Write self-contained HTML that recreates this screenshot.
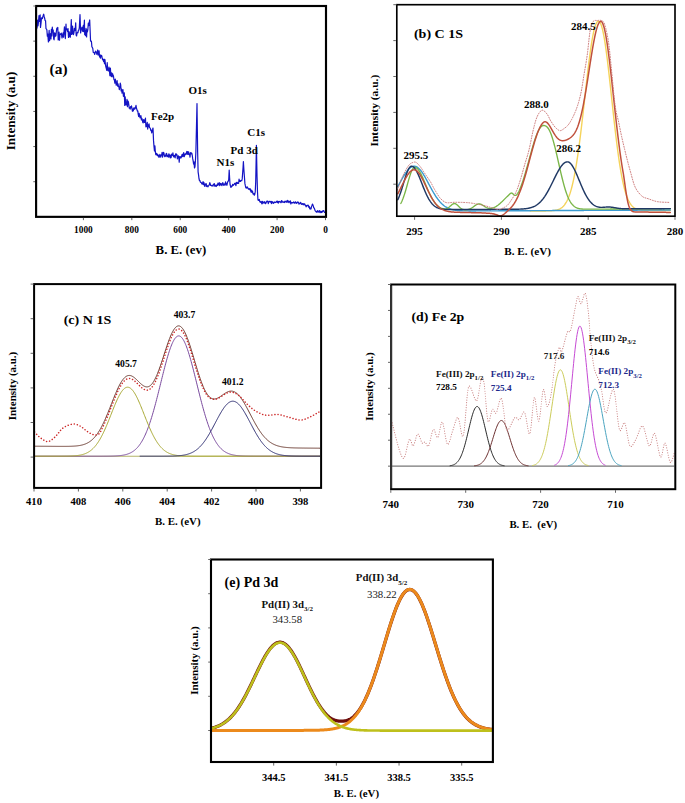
<!DOCTYPE html>
<html><head><meta charset="utf-8"><style>
html,body{margin:0;padding:0;background:#fff;}
svg{display:block;}
text{font-family:"Liberation Serif", serif;}
</style></head><body>
<svg width="685" height="803" viewBox="0 0 685 803">
<rect width="685" height="803" fill="#fff"/>
<path d="M37.00,28.04 L37.45,20.22 L38.00,26.00 L38.35,23.12 L39.00,15.50 L39.25,21.44 L39.70,21.32 L40.15,14.94 L40.50,27.50 L41.05,23.05 L41.50,17.76 L41.95,18.49 L42.40,18.56 L42.85,16.60 L43.30,15.16 L43.60,14.20 L43.75,14.29 L44.20,16.65 L44.65,18.22 L45.10,20.61 L45.55,20.58 L46.00,28.76 L46.45,28.94 L46.90,30.09 L47.35,36.12 L47.80,34.18 L48.40,42.00 L48.70,36.39 L49.15,30.25 L49.60,40.66 L50.05,35.23 L50.50,33.55 L50.95,38.94 L51.40,29.35 L51.85,35.97 L52.30,27.19 L52.75,31.81 L53.20,30.03 L53.65,38.82 L54.10,39.83 L54.55,32.91 L55.00,36.77 L55.45,33.41 L55.90,35.87 L56.35,31.52 L56.80,28.36 L57.25,28.05 L57.80,27.50 L58.20,40.00 L58.60,34.80 L59.05,32.12 L59.50,40.10 L59.95,34.50 L60.40,33.99 L60.85,34.43 L61.30,33.09 L62.00,38.00 L62.65,34.99 L63.10,32.96 L63.55,37.14 L64.00,31.93 L64.45,26.79 L64.90,32.69 L65.35,38.56 L66.00,24.00 L66.25,29.88 L66.70,28.82 L67.15,29.23 L67.60,31.64 L68.05,28.67 L68.50,37.44 L68.95,31.50 L69.40,32.73 L69.85,37.05 L70.30,37.20 L70.75,31.48 L71.30,19.50 L71.65,34.48 L72.10,31.34 L72.55,26.00 L73.00,33.91 L73.45,34.59 L73.90,32.90 L74.35,28.36 L74.80,30.65 L75.25,29.24 L75.70,22.80 L76.15,35.24 L76.60,35.90 L77.05,32.95 L77.50,32.44 L77.95,32.75 L78.40,30.36 L78.85,30.04 L79.30,27.95 L80.00,14.50 L80.65,32.87 L81.10,28.87 L81.55,28.44 L82.00,27.15 L82.45,31.24 L82.90,31.29 L83.35,25.24 L83.80,31.60 L84.40,20.20 L84.70,34.71 L85.15,30.52 L85.60,35.67 L86.05,28.43 L86.60,37.00 L86.95,29.85 L87.40,31.80 L87.85,29.65 L88.30,23.17 L88.75,25.66 L89.20,22.93 L89.65,20.07 L89.70,20.00 L90.10,29.67 L90.55,41.07 L91.00,40.91 L91.45,41.46 L91.90,46.92 L92.35,47.35 L92.80,48.53 L93.25,52.41 L93.70,52.49 L94.15,52.54 L94.60,54.44 L95.05,53.09 L95.50,51.19 L95.95,52.21 L96.40,52.18 L96.85,54.41 L97.30,51.52 L97.75,49.97 L98.20,55.20 L98.65,51.96 L99.10,50.76 L99.55,57.01 L100.00,54.63 L100.45,58.05 L100.90,56.02 L101.35,55.34 L101.80,55.85 L102.25,58.52 L102.70,59.94 L103.15,59.37 L103.60,61.56 L104.05,59.17 L104.50,63.60 L104.95,59.53 L105.40,64.08 L105.85,66.85 L106.30,68.35 L106.75,70.43 L107.20,62.66 L107.65,69.03 L108.10,70.74 L108.55,70.99 L109.00,66.98 L109.45,71.20 L109.90,75.69 L110.35,68.02 L110.80,73.84 L111.25,76.35 L111.70,72.74 L112.15,76.94 L112.60,73.72 L113.05,75.34 L113.50,76.29 L113.95,79.73 L114.40,79.72 L114.85,83.08 L115.30,79.01 L115.75,81.77 L116.20,85.17 L116.65,84.71 L117.10,80.49 L117.55,86.07 L118.00,83.72 L118.45,86.45 L118.90,86.79 L119.35,89.66 L119.80,87.43 L120.25,83.08 L120.70,84.93 L121.15,90.87 L121.60,88.99 L122.05,93.15 L122.50,91.59 L122.95,89.64 L123.40,96.31 L123.85,93.74 L124.30,92.81 L124.75,105.47 L125.20,96.87 L125.65,103.79 L126.10,105.02 L126.55,103.49 L127.00,99.32 L127.45,106.63 L127.90,100.93 L128.35,101.70 L128.80,104.70 L129.25,108.13 L129.70,107.41 L130.15,109.22 L130.60,106.57 L131.05,107.78 L131.50,105.85 L131.95,108.45 L132.40,111.27 L132.85,109.14 L133.30,110.91 L133.75,108.07 L134.20,107.83 L134.65,109.24 L135.10,108.53 L135.55,107.26 L136.00,105.30 L136.00,105.39 L136.45,108.32 L136.90,109.46 L137.35,111.07 L137.80,110.94 L138.25,114.41 L138.70,116.53 L139.15,113.38 L139.60,115.57 L140.05,117.97 L140.50,116.28 L140.95,115.74 L141.40,119.96 L141.85,118.35 L142.30,119.71 L142.75,122.28 L143.20,122.82 L143.65,119.65 L144.10,119.81 L144.55,122.46 L145.00,122.01 L145.45,118.15 L145.90,126.78 L146.35,124.21 L146.80,126.60 L147.25,122.30 L147.70,129.06 L148.15,124.84 L148.60,126.59 L149.05,123.85 L149.50,127.50 L149.95,127.88 L150.40,128.52 L150.85,130.63 L151.30,130.13 L151.75,132.87 L152.20,130.58 L152.65,129.25 L153.00,128.00 L153.10,130.39 L153.55,140.89 L154.00,146.34 L154.45,150.87 L154.90,145.81 L155.35,151.95 L155.80,154.61 L156.25,153.45 L156.70,153.55 L157.15,155.50 L157.60,154.32 L158.05,156.15 L158.50,155.22 L158.95,157.46 L159.40,156.15 L159.85,154.34 L160.30,156.46 L160.75,157.04 L161.20,154.80 L161.65,155.09 L162.10,152.24 L162.55,157.14 L163.00,154.81 L163.45,152.40 L163.90,152.91 L164.35,155.25 L164.80,156.72 L165.25,155.37 L165.70,156.20 L166.15,153.73 L166.60,153.33 L167.05,156.72 L167.50,156.07 L167.95,155.22 L168.40,157.21 L168.85,153.73 L169.30,154.50 L169.75,156.69 L170.20,157.90 L170.65,155.04 L171.10,157.61 L171.55,154.18 L172.00,155.71 L172.45,155.02 L172.90,152.93 L173.35,155.87 L173.80,157.00 L174.25,155.42 L174.70,155.63 L175.15,157.98 L175.60,154.00 L176.05,153.72 L176.50,155.26 L176.95,154.67 L177.40,158.83 L177.85,157.48 L178.30,155.91 L178.75,156.54 L179.20,162.14 L179.65,157.03 L180.10,156.52 L180.55,157.82 L181.00,158.00 L181.45,157.02 L181.90,154.93 L182.35,154.21 L182.80,156.57 L183.25,155.28 L183.70,152.59 L184.15,156.68 L184.60,155.83 L185.05,154.02 L185.50,153.75 L185.95,154.26 L186.40,152.60 L186.85,151.47 L187.30,154.17 L187.75,151.59 L188.20,154.53 L188.65,151.84 L189.10,154.04 L189.55,154.11 L190.00,157.20 L190.45,152.94 L190.90,152.53 L191.35,153.85 L191.80,153.24 L192.25,155.43 L192.70,158.70 L193.15,160.95 L193.60,164.03 L194.05,161.96 L194.50,168.00 L194.95,166.80 L195.40,161.19 L195.85,152.78 L196.30,133.91 L196.75,114.38 L197.00,103.50 L197.20,118.52 L197.65,152.22 L198.10,171.96 L198.55,174.93 L199.00,178.70 L199.45,180.68 L199.90,180.44 L200.35,182.20 L200.80,182.29 L201.25,182.51 L201.70,183.58 L202.15,184.20 L202.60,183.23 L203.05,181.67 L203.50,184.76 L203.95,182.65 L204.40,184.61 L204.85,186.51 L205.30,184.79 L205.75,183.73 L206.20,183.61 L206.65,186.53 L207.10,185.45 L207.55,186.20 L208.00,186.77 L208.45,185.71 L208.90,185.40 L209.35,184.69 L209.80,182.60 L210.25,184.01 L210.70,185.48 L211.15,185.33 L211.60,185.89 L212.05,185.30 L212.50,185.56 L212.95,186.17 L213.40,184.38 L213.85,184.97 L214.30,183.55 L214.75,186.19 L215.20,185.13 L215.65,185.51 L216.10,186.53 L216.55,185.96 L217.00,184.69 L217.45,185.49 L217.90,183.09 L218.35,184.95 L218.80,184.56 L219.25,182.64 L219.70,185.64 L220.15,183.42 L220.60,184.79 L221.05,183.57 L221.50,185.12 L221.95,185.53 L222.40,183.37 L222.85,182.71 L223.30,184.25 L223.75,185.35 L224.20,184.15 L224.65,183.97 L225.10,185.19 L225.55,181.87 L226.00,184.14 L226.45,183.46 L226.90,185.29 L227.35,183.20 L227.80,181.48 L228.25,181.25 L228.70,179.69 L229.15,171.00 L229.20,170.00 L229.60,177.86 L230.05,184.42 L230.50,186.10 L230.95,187.45 L231.40,186.04 L231.85,186.36 L232.30,185.96 L232.75,184.27 L233.20,185.36 L233.65,184.79 L234.10,184.40 L234.55,183.45 L235.00,183.24 L235.45,184.33 L235.90,185.62 L236.35,182.30 L236.80,183.55 L237.25,182.43 L237.70,183.46 L238.15,182.92 L238.60,183.40 L239.05,179.19 L239.50,181.31 L239.95,180.73 L240.40,181.48 L240.85,180.66 L241.30,180.57 L241.75,180.73 L242.20,178.90 L242.65,173.03 L243.10,166.74 L243.40,161.60 L243.55,164.19 L244.00,171.33 L244.45,177.26 L244.90,183.39 L245.35,185.66 L245.80,187.59 L246.25,188.16 L246.70,187.46 L247.15,186.80 L247.60,188.09 L248.05,188.06 L248.50,189.20 L248.95,189.08 L249.40,188.62 L249.85,189.79 L250.30,188.78 L250.75,191.34 L251.20,192.18 L251.65,190.18 L252.10,192.32 L252.55,191.31 L253.00,193.94 L253.45,194.23 L253.90,193.51 L254.35,195.26 L254.80,194.24 L255.25,191.65 L255.70,182.02 L256.15,159.74 L256.40,145.30 L256.60,155.15 L257.05,176.74 L257.50,192.05 L257.95,199.83 L258.40,200.47 L258.85,199.74 L259.30,199.46 L259.75,201.55 L260.20,202.31 L260.65,201.75 L261.10,201.32 L261.55,202.96 L262.00,203.95 L262.45,201.31 L262.90,203.10 L263.35,202.47 L263.80,202.03 L264.25,203.05 L264.70,201.64 L265.15,202.85 L265.60,203.61 L266.05,202.71 L266.50,201.88 L266.95,201.16 L267.40,201.52 L267.85,201.06 L268.30,203.69 L268.75,202.24 L269.20,201.61 L269.65,201.39 L270.10,201.54 L270.55,202.08 L271.00,201.33 L271.45,203.59 L271.90,201.71 L272.35,201.67 L272.80,202.49 L273.25,203.36 L273.70,203.25 L274.15,201.84 L274.60,202.40 L275.05,202.30 L275.50,202.58 L275.95,202.36 L276.40,201.42 L276.85,201.16 L277.30,202.26 L277.75,201.20 L278.20,203.14 L278.65,202.11 L279.10,201.28 L279.55,201.80 L280.00,201.65 L280.45,201.92 L280.90,202.74 L281.35,200.88 L281.80,200.54 L282.25,202.23 L282.70,201.82 L283.15,202.07 L283.60,202.27 L284.05,201.77 L284.50,202.52 L284.95,201.20 L285.40,201.92 L285.85,201.22 L286.30,200.98 L286.75,202.31 L287.20,202.26 L287.65,200.31 L288.10,200.96 L288.55,202.08 L289.00,202.71 L289.45,201.41 L289.90,201.82 L290.35,200.90 L290.80,203.96 L291.25,202.43 L291.70,202.78 L292.15,202.64 L292.60,202.88 L293.05,202.67 L293.50,201.97 L293.95,202.84 L294.40,202.36 L294.85,203.33 L295.30,201.80 L295.75,201.99 L296.20,202.95 L296.65,203.46 L297.10,202.62 L297.55,201.99 L298.00,202.48 L298.45,202.22 L298.90,204.10 L299.35,203.37 L299.80,203.68 L300.25,202.98 L300.70,202.35 L301.15,203.78 L301.60,204.37 L302.05,203.77 L302.50,203.53 L302.95,204.61 L303.40,203.71 L303.85,204.81 L304.30,203.90 L304.75,203.93 L305.20,205.34 L305.65,205.41 L306.10,206.89 L306.55,205.49 L307.00,206.00 L307.45,205.38 L307.90,205.09 L308.35,205.43 L308.80,207.43 L309.25,206.45 L309.70,208.50 L310.15,209.00 L310.60,207.96 L311.05,208.94 L311.50,206.56 L311.95,205.56 L312.40,204.22 L312.50,204.00 L312.85,205.08 L313.30,205.99 L313.75,207.81 L314.20,208.05 L314.65,209.20 L315.10,210.69 L315.55,211.23 L316.00,211.54 L316.45,212.16 L316.90,212.22 L317.35,210.53 L317.80,212.03 L318.25,212.12 L318.70,211.02 L319.15,211.90 L319.60,210.58 L320.05,212.71 L320.50,211.42 L320.95,211.54 L321.40,212.52 L321.85,211.49 L322.30,212.06 L322.75,210.79 L323.20,211.16 L323.65,210.53 L324.10,211.44 L324.55,212.39" fill="none" stroke="#1414c4" stroke-width="1.2" stroke-linejoin="round" stroke-linecap="round" />
<rect x="36.10" y="6.00" width="289.90" height="210.85" fill="none" stroke="#000" stroke-width="2.15"/>
<line x1="33.30" y1="41.14" x2="35.00" y2="41.14" stroke="#555" stroke-width="0.9"/>
<line x1="33.30" y1="76.28" x2="35.00" y2="76.28" stroke="#555" stroke-width="0.9"/>
<line x1="33.30" y1="111.42" x2="35.00" y2="111.42" stroke="#555" stroke-width="0.9"/>
<line x1="33.30" y1="146.57" x2="35.00" y2="146.57" stroke="#555" stroke-width="0.9"/>
<line x1="33.30" y1="181.71" x2="35.00" y2="181.71" stroke="#555" stroke-width="0.9"/>
<line x1="33.30" y1="6.00" x2="36.10" y2="6.00" stroke="#555" stroke-width="0.8"/>
<line x1="325.50" y1="217.85" x2="325.50" y2="220.15" stroke="#555" stroke-width="0.9"/>
<text x="325.50" y="232.80" font-size="9.3" font-weight="bold" fill="#000" text-anchor="middle" >0</text>
<line x1="277.08" y1="217.85" x2="277.08" y2="220.15" stroke="#555" stroke-width="0.9"/>
<text x="277.08" y="232.80" font-size="9.3" font-weight="bold" fill="#000" text-anchor="middle" >200</text>
<line x1="228.66" y1="217.85" x2="228.66" y2="220.15" stroke="#555" stroke-width="0.9"/>
<text x="228.66" y="232.80" font-size="9.3" font-weight="bold" fill="#000" text-anchor="middle" >400</text>
<line x1="180.24" y1="217.85" x2="180.24" y2="220.15" stroke="#555" stroke-width="0.9"/>
<text x="180.24" y="232.80" font-size="9.3" font-weight="bold" fill="#000" text-anchor="middle" >600</text>
<line x1="131.82" y1="217.85" x2="131.82" y2="220.15" stroke="#555" stroke-width="0.9"/>
<text x="131.82" y="232.80" font-size="9.3" font-weight="bold" fill="#000" text-anchor="middle" >800</text>
<line x1="83.40" y1="217.85" x2="83.40" y2="220.15" stroke="#555" stroke-width="0.9"/>
<text x="83.40" y="232.80" font-size="9.3" font-weight="bold" fill="#000" text-anchor="middle" >1000</text>
<text x="155.60" y="253.70" font-size="12.8" font-weight="bold" fill="#000" text-anchor="start" textLength="50.6" lengthAdjust="spacingAndGlyphs" >B. E. (ev)</text>
<text x="15.00" y="111.00" font-size="13.2" font-weight="bold" fill="#000" text-anchor="middle" textLength="78.5" lengthAdjust="spacingAndGlyphs" transform="rotate(-90 15.00 111.00)" >Intensity (a.u)</text>
<text x="49.60" y="73.80" font-size="15.4" font-weight="bold" fill="#000" text-anchor="start" >(a)</text>
<text x="151.00" y="120.00" font-size="11" font-weight="bold" fill="#000" text-anchor="start" >Fe2p</text>
<text x="188.40" y="94.00" font-size="11" font-weight="bold" fill="#000" text-anchor="start" >O1s</text>
<text x="216.60" y="165.60" font-size="11" font-weight="bold" fill="#000" text-anchor="start" >N1s</text>
<text x="230.60" y="154.40" font-size="11" font-weight="bold" fill="#000" text-anchor="start" >Pd 3d</text>
<text x="247.30" y="135.50" font-size="11" font-weight="bold" fill="#000" text-anchor="start" >C1s</text>
<g>
<path d="M530.30,211.02 L530.80,211.02 L531.30,211.02 L531.80,211.01 L532.30,211.01 L532.80,211.01 L533.30,211.01 L533.80,211.01 L534.30,211.01 L534.80,211.00 L535.30,211.00 L535.80,211.00 L536.30,211.00 L536.80,211.00 L537.30,210.99 L537.80,210.99 L538.30,210.99 L538.80,210.99 L539.30,210.98 L539.80,210.98 L540.30,210.98 L540.80,210.98 L541.30,210.97 L541.80,210.97 L542.30,210.97 L542.80,210.96 L543.30,210.96 L543.80,210.95 L544.30,210.95 L544.80,210.94 L545.30,210.94 L545.80,210.93 L546.30,210.92 L546.80,210.91 L547.30,210.90 L547.80,210.89 L548.30,210.88 L548.80,210.86 L549.30,210.84 L549.80,210.82 L550.30,210.80 L550.80,210.77 L551.30,210.74 L551.80,210.71 L552.30,210.67 L552.80,210.62 L553.30,210.57 L553.80,210.51 L554.30,210.44 L554.80,210.37 L555.30,210.28 L555.80,210.19 L556.30,210.08 L556.80,209.96 L557.30,209.82 L557.80,209.66 L558.30,209.49 L558.80,209.30 L559.30,209.08 L559.80,208.84 L560.30,208.57 L560.80,208.28 L561.30,207.95 L561.80,207.58 L562.30,207.18 L562.80,206.73 L563.30,206.24 L563.80,205.70 L564.30,205.11 L564.80,204.47 L565.30,203.76 L565.80,202.99 L566.30,202.16 L566.80,201.25 L567.30,200.26 L567.80,199.19 L568.30,198.04 L568.80,196.80 L569.30,195.46 L569.80,194.03 L570.30,192.49 L570.80,190.85 L571.30,189.10 L571.80,187.23 L572.30,185.24 L572.80,183.14 L573.30,180.91 L573.80,178.55 L574.30,176.07 L574.80,173.46 L575.30,170.72 L575.80,167.85 L576.30,164.85 L576.80,161.72 L577.30,158.46 L577.80,155.07 L578.30,151.57 L578.80,147.94 L579.30,144.20 L579.80,140.36 L580.30,136.41 L580.80,132.36 L581.30,128.23 L581.80,124.02 L582.30,119.74 L582.80,115.40 L583.30,111.01 L583.80,106.58 L584.30,102.13 L584.80,97.67 L585.30,93.21 L585.80,88.76 L586.30,84.35 L586.80,79.97 L587.30,75.66 L587.80,71.42 L588.30,67.26 L588.80,63.21 L589.30,59.27 L589.80,55.47 L590.30,51.80 L590.80,48.30 L591.30,44.97 L591.80,41.82 L592.30,38.87 L592.80,36.12 L593.30,33.58 L593.80,31.27 L594.30,29.19 L594.80,27.35 L595.30,25.74 L595.80,24.39 L596.30,23.28 L596.80,22.42 L597.30,21.80 L597.80,21.43 L598.30,21.28 L598.80,21.34 L599.30,21.62 L599.80,22.15 L600.30,22.93 L600.80,23.97 L601.30,25.28 L601.80,26.85 L602.30,28.67 L602.80,30.75 L603.30,33.08 L603.80,35.65 L604.30,38.46 L604.80,41.48 L605.30,44.72 L605.80,48.16 L606.30,51.78 L606.80,55.57 L607.30,59.52 L607.80,63.61 L608.30,67.83 L608.80,72.16 L609.30,76.58 L609.80,81.08 L610.30,85.63 L610.80,90.23 L611.30,94.86 L611.80,99.50 L612.30,104.14 L612.80,108.76 L613.30,113.35 L613.80,117.89 L614.30,122.38 L614.80,126.79 L615.30,131.12 L615.80,135.36 L616.30,139.50 L616.80,143.53 L617.30,147.45 L617.80,151.24 L618.30,154.90 L618.80,158.43 L619.30,161.83 L619.80,165.08 L620.30,168.20 L620.80,171.17 L621.30,174.00 L621.80,176.69 L622.30,179.24 L622.80,181.65 L623.30,183.93 L623.80,186.07 L624.30,188.08 L624.80,189.96 L625.30,191.72 L625.80,193.37 L626.30,194.90 L626.80,196.32 L627.30,197.63 L627.80,198.85 L628.30,199.97 L628.80,201.01 L629.30,201.96 L629.80,202.83 L630.30,203.63 L630.80,204.35 L631.30,205.01 L631.80,205.62 L632.30,206.16 L632.80,206.65 L633.30,207.10 L633.80,207.50 L634.30,207.86 L634.80,208.19 L635.30,208.48 L635.80,208.74 L636.30,208.97 L636.80,209.17 L637.30,209.35 L637.80,209.51 L638.30,209.66 L638.80,209.78 L639.30,209.89 L639.80,209.99 L640.30,210.07 L640.80,210.15 L641.30,210.21 L641.80,210.27 L642.30,210.32 L642.80,210.36 L643.30,210.39 L643.80,210.42 L644.30,210.45 L644.80,210.47 L645.30,210.49 L645.80,210.51 L646.30,210.52 L646.80,210.53 L647.30,210.54 L647.80,210.55 L648.30,210.55 L648.80,210.56 L649.30,210.56 L649.80,210.57 L650.30,210.57 L650.80,210.57 L651.30,210.57 L651.80,210.57 L652.30,210.57 L652.80,210.57 L653.30,210.57 L653.80,210.57 L654.30,210.57 L654.80,210.57 L655.30,210.57 L655.80,210.57 L656.30,210.57 L656.80,210.56 L657.30,210.56 L657.80,210.56 L658.30,210.56 L658.80,210.56 L659.30,210.56 L659.80,210.55 L660.30,210.55 L660.80,210.55 L661.30,210.55 L661.80,210.55 L662.30,210.55 L662.80,210.54 L663.30,210.54 L663.80,210.54 L664.30,210.54 L664.80,210.54 L665.30,210.53 L665.80,210.53 L666.30,210.53 L666.80,210.53 L667.30,210.53 L667.80,210.53 L668.30,210.52 L668.80,210.52 L669.30,210.52 L669.80,210.52 L670.30,210.52" fill="none" stroke="#f5d35a" stroke-width="1.4" stroke-linejoin="round" stroke-linecap="round" />
<path d="M397.80,186.54 L398.30,185.64 L398.80,184.73 L399.30,183.81 L399.80,182.90 L400.30,181.99 L400.80,181.09 L401.30,180.19 L401.80,179.30 L402.30,178.42 L402.80,177.56 L403.30,176.71 L403.80,175.88 L404.30,175.07 L404.80,174.29 L405.30,173.52 L405.80,172.79 L406.30,172.08 L406.80,171.41 L407.30,170.77 L407.80,170.16 L408.30,169.60 L408.80,169.07 L409.30,168.58 L409.80,168.14 L410.30,167.73 L410.80,167.38 L411.30,167.07 L411.80,166.80 L412.30,166.59 L412.80,166.42 L413.30,166.30 L413.80,166.24 L414.30,166.22 L414.80,166.26 L415.30,166.34 L415.80,166.49 L416.30,166.68 L416.80,166.93 L417.30,167.22 L417.80,167.57 L418.30,167.96 L418.80,168.41 L419.30,168.89 L419.80,169.43 L420.30,170.00 L420.80,170.62 L421.30,171.27 L421.80,171.96 L422.30,172.68 L422.80,173.44 L423.30,174.22 L423.80,175.03 L424.30,175.87 L424.80,176.72 L425.30,177.60 L425.80,178.49 L426.30,179.39 L426.80,180.31 L427.30,181.24 L427.80,182.17 L428.30,183.11 L428.80,184.05 L429.30,184.98 L429.80,185.92 L430.30,186.85 L430.80,187.77 L431.30,188.69 L431.80,189.60 L432.30,190.49 L432.80,191.37 L433.30,192.23 L433.80,193.08 L434.30,193.91 L434.80,194.72 L435.30,195.51 L435.80,196.28 L436.30,197.03 L436.80,197.76 L437.30,198.46 L437.80,199.14 L438.30,199.80 L438.80,200.43 L439.30,201.04 L439.80,201.63 L440.30,202.19 L440.80,202.73 L441.30,203.25 L441.80,203.74 L442.30,204.21 L442.80,204.65 L443.30,205.08 L443.80,205.48 L444.30,205.86 L444.80,206.22 L445.30,206.56 L445.80,206.88 L446.30,207.19 L446.80,207.47 L447.30,207.74 L447.80,207.99 L448.30,208.23 L448.80,208.45 L449.30,208.65 L449.80,208.84 L450.30,209.02 L450.80,209.19 L451.30,209.34 L451.80,209.48 L452.30,209.62 L452.80,209.74 L453.30,209.85 L453.80,209.95 L454.30,210.05 L454.80,210.14 L455.30,210.22 L455.80,210.29 L456.30,210.36 L456.80,210.42 L457.30,210.48 L457.80,210.53 L458.30,210.57 L458.80,210.61 L459.30,210.65 L459.80,210.69 L460.30,210.72 L460.80,210.74 L461.30,210.77 L461.80,210.79 L462.30,210.81 L462.80,210.83 L463.30,210.84 L463.80,210.86 L464.30,210.87 L464.80,210.88 L465.30,210.89 L465.80,210.90 L466.30,210.91 L466.80,210.91 L467.30,210.92 L467.80,210.92 L468.30,210.92 L468.80,210.93 L469.30,210.93 L469.80,210.93 L470.30,210.93 L470.80,210.93 L471.30,210.93 L471.80,210.93 L472.30,210.93 L472.80,210.93 L473.30,210.93 L473.80,210.93 L474.30,210.93 L474.80,210.93 L475.30,210.93 L475.80,210.93 L476.30,210.92 L476.80,210.92 L477.30,210.92 L477.80,210.92 L478.30,210.92 L478.80,210.92 L479.30,210.91 L479.80,210.91 L480.30,210.91 L480.80,210.91 L481.30,210.90 L481.80,210.90 L482.30,210.90 L482.80,210.90 L483.30,210.90 L483.80,210.89 L484.30,210.89 L484.80,210.89 L485.30,210.89 L485.80,210.88 L486.30,210.88 L486.80,210.88 L487.30,210.88 L487.80,210.88 L488.30,210.87 L488.80,210.87 L489.30,210.87 L489.80,210.87 L490.30,210.86 L490.80,210.86 L491.30,210.86 L491.80,210.86 L492.30,210.85 L492.80,210.85 L493.30,210.85 L493.80,210.85 L494.30,210.84 L494.80,210.84 L495.30,210.84 L495.80,210.84 L496.30,210.84 L496.80,210.83 L497.30,210.83 L497.80,210.83 L498.30,210.83 L498.80,210.82 L499.30,210.82 L499.80,210.82 L500.30,210.82 L500.80,210.81 L501.30,210.81 L501.80,210.81 L502.30,210.81 L502.80,210.81 L503.30,210.80 L503.80,210.80 L504.30,210.80 L504.80,210.80 L505.30,210.79 L505.80,210.79 L506.30,210.79 L506.80,210.79 L507.30,210.78 L507.80,210.78 L508.30,210.78 L508.80,210.78 L509.30,210.77 L509.80,210.77 L510.30,210.77 L510.80,210.77 L511.30,210.77 L511.80,210.76 L512.30,210.76 L512.80,210.76 L513.30,210.76 L513.80,210.75 L514.30,210.75 L514.80,210.75 L515.30,210.75 L515.80,210.74 L516.30,210.74 L516.80,210.74 L517.30,210.74 L517.80,210.74 L518.30,210.73 L518.80,210.73 L519.30,210.73 L519.80,210.73 L520.30,210.72 L520.80,210.72 L521.30,210.72 L521.80,210.72 L522.30,210.71 L522.80,210.71 L523.30,210.71 L523.80,210.71 L524.30,210.70 L524.80,210.70 L525.30,210.70 L525.80,210.70 L526.30,210.70 L526.80,210.69 L527.30,210.69 L527.80,210.69 L528.30,210.69 L528.80,210.68 L529.30,210.68 L529.80,210.68 L530.30,210.68 L530.80,210.67 L531.30,210.67 L531.80,210.67 L532.30,210.67 L532.80,210.66 L533.30,210.66 L533.80,210.66 L534.30,210.66 L534.80,210.66 L535.30,210.65 L535.80,210.65 L536.30,210.65 L536.80,210.65 L537.30,210.64 L537.80,210.64 L538.30,210.64 L538.80,210.64 L539.30,210.63 L539.80,210.63 L540.30,210.63 L540.80,210.63 L541.30,210.63 L541.80,210.62 L542.30,210.62 L542.80,210.62 L543.30,210.62 L543.80,210.61 L544.30,210.61 L544.80,210.61 L545.30,210.61 L545.80,210.60 L546.30,210.60 L546.80,210.60 L547.30,210.60 L547.80,210.59 L548.30,210.59 L548.80,210.59 L549.30,210.59 L549.80,210.59 L550.30,210.58 L550.80,210.58 L551.30,210.58 L551.80,210.58 L552.30,210.57 L552.80,210.57 L553.30,210.57 L553.80,210.57 L554.30,210.56 L554.80,210.56 L555.30,210.56 L555.80,210.56 L556.30,210.56 L556.80,210.55 L557.30,210.55 L557.80,210.55 L558.30,210.55 L558.80,210.54 L559.30,210.54 L559.80,210.54 L560.30,210.54 L560.80,210.53 L561.30,210.53 L561.80,210.53 L562.30,210.53 L562.80,210.52 L563.30,210.52 L563.80,210.52 L564.30,210.52 L564.80,210.52 L565.30,210.51 L565.80,210.51 L566.30,210.51 L566.80,210.51 L567.30,210.50 L567.80,210.50 L568.30,210.50 L568.80,210.50 L569.30,210.49 L569.80,210.49 L570.30,210.49 L570.80,210.49 L571.30,210.48 L571.80,210.48 L572.30,210.48 L572.80,210.48 L573.30,210.48 L573.80,210.47 L574.30,210.47 L574.80,210.47 L575.30,210.47 L575.80,210.46 L576.30,210.46 L576.80,210.46 L577.30,210.46 L577.80,210.45 L578.30,210.45 L578.80,210.45 L579.30,210.45 L579.80,210.45 L580.30,210.44 L580.80,210.44 L581.30,210.44 L581.80,210.44 L582.30,210.43 L582.80,210.43 L583.30,210.43 L583.80,210.43 L584.30,210.42 L584.80,210.42 L585.30,210.42 L585.80,210.42 L586.30,210.41 L586.80,210.41 L587.30,210.41 L587.80,210.41 L588.30,210.41 L588.80,210.40 L589.30,210.40 L589.80,210.40 L590.30,210.40 L590.80,210.39 L591.30,210.39 L591.80,210.39 L592.30,210.39 L592.80,210.38 L593.30,210.38 L593.80,210.38 L594.30,210.38 L594.80,210.38 L595.30,210.37 L595.80,210.37 L596.30,210.37 L596.80,210.37 L597.30,210.36 L597.80,210.36 L598.30,210.36 L598.80,210.36 L599.30,210.35 L599.80,210.35 L600.30,210.35 L600.80,210.35 L601.30,210.34 L601.80,210.34 L602.30,210.34 L602.80,210.34 L603.30,210.34 L603.80,210.33 L604.30,210.33 L604.80,210.33 L605.30,210.33 L605.80,210.32 L606.30,210.32 L606.80,210.32 L607.30,210.32 L607.80,210.31 L608.30,210.31 L608.80,210.31 L609.30,210.31 L609.80,210.30 L610.30,210.30 L610.80,210.30 L611.30,210.30 L611.80,210.30 L612.30,210.29 L612.80,210.29 L613.30,210.29 L613.80,210.29 L614.30,210.28 L614.80,210.28 L615.30,210.28 L615.80,210.28 L616.30,210.27 L616.80,210.27 L617.30,210.27 L617.80,210.27 L618.30,210.27 L618.80,210.26 L619.30,210.26 L619.80,210.26 L620.30,210.26 L620.80,210.25 L621.30,210.25 L621.80,210.25 L622.30,210.25 L622.80,210.24 L623.30,210.24 L623.80,210.24 L624.30,210.24 L624.80,210.23 L625.30,210.23 L625.80,210.23 L626.30,210.23 L626.80,210.23 L627.30,210.22 L627.80,210.22 L628.30,210.22 L628.80,210.22 L629.30,210.21 L629.80,210.21 L630.30,210.21 L630.80,210.21 L631.30,210.20 L631.80,210.20 L632.30,210.20 L632.80,210.20 L633.30,210.19 L633.80,210.19 L634.30,210.19 L634.80,210.19 L635.30,210.19 L635.80,210.18 L636.30,210.18 L636.80,210.18 L637.30,210.18 L637.80,210.17 L638.30,210.17 L638.80,210.17 L639.30,210.17 L639.80,210.16 L640.30,210.16 L640.80,210.16 L641.30,210.16 L641.80,210.16 L642.30,210.15 L642.80,210.15 L643.30,210.15 L643.80,210.15 L644.30,210.14 L644.80,210.14 L645.30,210.14 L645.80,210.14 L646.30,210.13 L646.80,210.13 L647.30,210.13 L647.80,210.13 L648.30,210.12 L648.80,210.12 L649.30,210.12 L649.80,210.12 L650.30,210.12 L650.80,210.11 L651.30,210.11 L651.80,210.11 L652.30,210.11 L652.80,210.10 L653.30,210.10 L653.80,210.10 L654.30,210.10 L654.80,210.09 L655.30,210.09 L655.80,210.09 L656.30,210.09 L656.80,210.09 L657.30,210.08 L657.80,210.08 L658.30,210.08 L658.80,210.08 L659.30,210.07 L659.80,210.07 L660.30,210.07 L660.80,210.07 L661.30,210.06 L661.80,210.06 L662.30,210.06 L662.80,210.06 L663.30,210.05 L663.80,210.05 L664.30,210.05 L664.80,210.05 L665.30,210.05 L665.80,210.04 L666.30,210.04 L666.80,210.04 L667.30,210.04 L667.80,210.03 L668.30,210.03 L668.80,210.03 L669.30,210.03 L669.80,210.02 L670.30,210.02" fill="none" stroke="#3a9ad0" stroke-width="1.4" stroke-linejoin="round" stroke-linecap="round" />
<path d="M400.80,203.46 L401.30,202.49 L401.80,201.44 L402.30,200.30 L402.80,199.07 L403.30,197.75 L403.80,196.35 L404.30,194.86 L404.80,193.30 L405.30,191.68 L405.80,189.99 L406.30,188.26 L406.80,186.49 L407.30,184.71 L407.80,182.92 L408.30,181.14 L408.80,179.40 L409.30,177.71 L409.80,176.09 L410.30,174.55 L410.80,173.12 L411.30,171.82 L411.80,170.66 L412.30,169.66 L412.80,168.82 L413.30,168.17 L413.80,167.71 L414.30,167.45 L414.80,167.38 L415.30,167.44 L415.80,167.59 L416.30,167.84 L416.80,168.17 L417.30,168.59 L417.80,169.09 L418.30,169.68 L418.80,170.34 L419.30,171.08 L419.80,171.88 L420.30,172.75 L420.80,173.68 L421.30,174.66 L421.80,175.69 L422.30,176.76 L422.80,177.87 L423.30,179.00 L423.80,180.17 L424.30,181.35 L424.80,182.54 L425.30,183.74 L425.80,184.95 L426.30,186.15 L426.80,187.34 L427.30,188.52 L427.80,189.68 L428.30,190.83 L428.80,191.94 L429.30,193.04 L429.80,194.10 L430.30,195.12 L430.80,196.11 L431.30,197.07 L431.80,197.99 L432.30,198.86 L432.80,199.70 L433.30,200.49 L433.80,201.25 L434.30,201.96 L434.80,202.63 L435.30,203.26 L435.80,203.86 L436.30,204.41 L436.80,204.93 L437.30,205.41 L437.80,205.85 L438.30,206.27 L438.80,206.65 L439.30,206.99 L439.80,207.31 L440.30,207.60 L440.80,207.86 L441.30,208.10 L441.80,208.30 L442.30,208.48 L442.80,208.63 L443.30,208.76 L443.80,208.85 L444.30,208.90 L444.80,208.92 L445.30,208.90 L445.80,208.84 L446.30,208.73 L446.80,208.57 L447.30,208.36 L447.80,208.09 L448.30,207.78 L448.80,207.41 L449.30,207.01 L449.80,206.57 L450.30,206.10 L450.80,205.64 L451.30,205.18 L451.80,204.75 L452.30,204.36 L452.80,204.03 L453.30,203.78 L453.80,203.62 L454.30,203.56 L454.80,203.59 L455.30,203.73 L455.80,203.95 L456.30,204.26 L456.80,204.64 L457.30,205.07 L457.80,205.54 L458.30,206.03 L458.80,206.52 L459.30,206.99 L459.80,207.45 L460.30,207.87 L460.80,208.24 L461.30,208.58 L461.80,208.86 L462.30,209.10 L462.80,209.30 L463.30,209.45 L463.80,209.57 L464.30,209.66 L464.80,209.71 L465.30,209.73 L465.80,209.73 L466.30,209.71 L466.80,209.66 L467.30,209.59 L467.80,209.50 L468.30,209.39 L468.80,209.25 L469.30,209.09 L469.80,208.89 L470.30,208.68 L470.80,208.43 L471.30,208.16 L471.80,207.86 L472.30,207.54 L472.80,207.20 L473.30,206.84 L473.80,206.48 L474.30,206.11 L474.80,205.75 L475.30,205.40 L475.80,205.07 L476.30,204.76 L476.80,204.50 L477.30,204.27 L477.80,204.10 L478.30,203.98 L478.80,203.92 L479.30,203.92 L479.80,203.97 L480.30,204.09 L480.80,204.25 L481.30,204.46 L481.80,204.72 L482.30,205.00 L482.80,205.31 L483.30,205.64 L483.80,205.98 L484.30,206.31 L484.80,206.64 L485.30,206.95 L485.80,207.24 L486.30,207.51 L486.80,207.74 L487.30,207.95 L487.80,208.12 L488.30,208.25 L488.80,208.35 L489.30,208.42 L489.80,208.45 L490.30,208.45 L490.80,208.41 L491.30,208.35 L491.80,208.26 L492.30,208.14 L492.80,208.00 L493.30,207.83 L493.80,207.64 L494.30,207.42 L494.80,207.19 L495.30,206.93 L495.80,206.65 L496.30,206.35 L496.80,206.02 L497.30,205.68 L497.80,205.32 L498.30,204.95 L498.80,204.55 L499.30,204.14 L499.80,203.71 L500.30,203.27 L500.80,202.82 L501.30,202.35 L501.80,201.87 L502.30,201.39 L502.80,200.89 L503.30,200.40 L503.80,199.89 L504.30,199.39 L504.80,198.88 L505.30,198.38 L505.80,197.88 L506.30,197.38 L506.80,196.89 L507.30,196.40 L507.80,195.91 L508.30,195.44 L508.80,194.97 L509.30,194.50 L509.80,194.05 L510.30,193.59 L510.80,193.19 L511.30,193.04 L511.80,193.12 L512.30,193.40 L512.80,193.80 L513.30,194.26 L513.80,194.71 L514.30,195.08 L514.80,195.33 L515.30,195.43 L515.80,195.35 L516.30,195.09 L516.80,194.65 L517.30,194.06 L517.80,193.32 L518.30,192.46 L518.80,191.49 L519.30,190.43 L519.80,189.28 L520.30,188.07 L520.80,186.80 L521.30,185.47 L521.80,184.09 L522.30,182.66 L522.80,181.18 L523.30,179.67 L523.80,178.11 L524.30,176.51 L524.80,174.87 L525.30,173.20 L525.80,171.50 L526.30,169.78 L526.80,168.02 L527.30,166.25 L527.80,164.46 L528.30,162.65 L528.80,160.83 L529.30,159.01 L529.80,157.19 L530.30,155.37 L530.80,153.56 L531.30,151.76 L531.80,149.98 L532.30,148.23 L532.80,146.51 L533.30,144.81 L533.80,143.16 L534.30,141.56 L534.80,140.00 L535.30,138.50 L535.80,137.06 L536.30,135.68 L536.80,134.38 L537.30,133.15 L537.80,132.00 L538.30,130.93 L538.80,129.94 L539.30,129.05 L539.80,128.26 L540.30,127.55 L540.80,126.95 L541.30,126.45 L541.80,126.06 L542.30,125.77 L542.80,125.58 L543.30,125.50 L543.80,125.50 L544.30,125.54 L544.80,125.63 L545.30,125.78 L545.80,126.01 L546.30,126.32 L546.80,126.71 L547.30,127.20 L547.80,127.79 L548.30,128.48 L548.80,129.27 L549.30,130.16 L549.80,131.17 L550.30,132.27 L550.80,133.49 L551.30,134.81 L551.80,136.23 L552.30,137.75 L552.80,139.36 L553.30,141.06 L553.80,142.85 L554.30,144.71 L554.80,146.65 L555.30,148.65 L555.80,150.71 L556.30,152.81 L556.80,154.96 L557.30,157.14 L557.80,159.34 L558.30,161.55 L558.80,163.77 L559.30,165.99 L559.80,168.20 L560.30,170.38 L560.80,172.54 L561.30,174.67 L561.80,176.75 L562.30,178.78 L562.80,180.76 L563.30,182.68 L563.80,184.54 L564.30,186.32 L564.80,188.04 L565.30,189.68 L565.80,191.24 L566.30,192.72 L566.80,194.12 L567.30,195.45 L567.80,196.69 L568.30,197.85 L568.80,198.94 L569.30,199.95 L569.80,200.89 L570.30,201.75 L570.80,202.55 L571.30,203.28 L571.80,203.94 L572.30,204.55 L572.80,205.10 L573.30,205.59 L573.80,206.04 L574.30,206.44 L574.80,206.80 L575.30,207.12 L575.80,207.41 L576.30,207.66 L576.80,207.88 L577.30,208.07 L577.80,208.24 L578.30,208.39 L578.80,208.52 L579.30,208.63 L579.80,208.72 L580.30,208.80 L580.80,208.87 L581.30,208.93 L581.80,208.98 L582.30,209.02 L582.80,209.05 L583.30,209.08 L583.80,209.10 L584.30,209.12 L584.80,209.14 L585.30,209.15 L585.80,209.16 L586.30,209.16 L586.80,209.17 L587.30,209.17 L587.80,209.17 L588.30,209.18 L588.80,209.18 L589.30,209.17 L589.80,209.17 L590.30,209.17 L590.80,209.17 L591.30,209.17 L591.80,209.17 L592.30,209.16 L592.80,209.16 L593.30,209.16 L593.80,209.15 L594.30,209.15 L594.80,209.15 L595.30,209.14 L595.80,209.14 L596.30,209.14 L596.80,209.13 L597.30,209.13 L597.80,209.13 L598.30,209.12 L598.80,209.12 L599.30,209.12 L599.80,209.11 L600.30,209.11 L600.80,209.11 L601.30,209.10 L601.80,209.10 L602.30,209.10 L602.80,209.09 L603.30,209.09 L603.80,209.09 L604.30,209.08 L604.80,209.08 L605.30,209.08 L605.80,209.07 L606.30,209.07 L606.80,209.07 L607.30,209.06 L607.80,209.06 L608.30,209.06 L608.80,209.05 L609.30,209.05 L609.80,209.05 L610.30,209.04 L610.80,209.04 L611.30,209.04 L611.80,209.03 L612.30,209.03 L612.80,209.03 L613.30,209.02 L613.80,209.02 L614.30,209.01 L614.80,209.01 L615.30,209.01 L615.80,209.00 L616.30,209.00 L616.80,209.00 L617.30,208.99 L617.80,208.99 L618.30,208.99 L618.80,208.98 L619.30,208.98 L619.80,208.98 L620.30,208.97 L620.80,208.97 L621.30,208.97 L621.80,208.96 L622.30,208.96 L622.80,208.96 L623.30,208.95 L623.80,208.95 L624.30,208.95 L624.80,208.94 L625.30,208.94 L625.80,208.94 L626.30,208.93 L626.80,208.93 L627.30,208.93 L627.80,208.92 L628.30,208.92 L628.80,208.92 L629.30,208.91 L629.80,208.91 L630.30,208.91 L630.80,208.90 L631.30,208.90 L631.80,208.90 L632.30,208.89 L632.80,208.89 L633.30,208.88 L633.80,208.88 L634.30,208.88 L634.80,208.87 L635.30,208.87 L635.80,208.87 L636.30,208.86 L636.80,208.86 L637.30,208.86 L637.80,208.85 L638.30,208.85 L638.80,208.85 L639.30,208.84 L639.80,208.84 L640.30,208.84 L640.80,208.83 L641.30,208.83 L641.80,208.83 L642.30,208.82 L642.80,208.82 L643.30,208.82 L643.80,208.81 L644.30,208.81 L644.80,208.81 L645.30,208.80 L645.80,208.80 L646.30,208.80 L646.80,208.79 L647.30,208.79 L647.80,208.79 L648.30,208.78 L648.80,208.78 L649.30,208.78 L649.80,208.77 L650.30,208.77 L650.80,208.77 L651.30,208.76 L651.80,208.76 L652.30,208.76 L652.80,208.75 L653.30,208.75 L653.80,208.74 L654.30,208.74 L654.80,208.74 L655.30,208.73 L655.80,208.73 L656.30,208.73 L656.80,208.72 L657.30,208.72 L657.80,208.72 L658.30,208.71 L658.80,208.71 L659.30,208.71 L659.80,208.70 L660.30,208.70 L660.80,208.70 L661.30,208.69 L661.80,208.69 L662.30,208.69 L662.80,208.68 L663.30,208.68 L663.80,208.68 L664.30,208.67 L664.80,208.67 L665.30,208.67 L665.80,208.66 L666.30,208.66 L666.80,208.66 L667.30,208.65 L667.80,208.65 L668.30,208.65 L668.80,208.64 L669.30,208.64 L669.80,208.64 L670.30,208.63" fill="none" stroke="#7ab648" stroke-width="1.35" stroke-linejoin="round" stroke-linecap="round" />
<path d="M397.80,199.76 L398.30,198.64 L398.80,197.45 L399.30,196.19 L399.80,194.86 L400.30,193.46 L400.80,192.00 L401.30,190.48 L401.80,188.92 L402.30,187.32 L402.80,185.69 L403.30,184.05 L403.80,182.40 L404.30,180.75 L404.80,179.13 L405.30,177.55 L405.80,176.01 L406.30,174.54 L406.80,173.15 L407.30,171.86 L407.80,170.67 L408.30,169.60 L408.80,168.66 L409.30,167.86 L409.80,167.22 L410.30,166.73 L410.80,166.41 L411.30,166.25 L411.80,166.25 L412.30,166.36 L412.80,166.58 L413.30,166.89 L413.80,167.30 L414.30,167.80 L414.80,168.40 L415.30,169.08 L415.80,169.85 L416.30,170.69 L416.80,171.61 L417.30,172.59 L417.80,173.63 L418.30,174.73 L418.80,175.87 L419.30,177.05 L419.80,178.26 L420.30,179.50 L420.80,180.76 L421.30,182.03 L421.80,183.31 L422.30,184.59 L422.80,185.86 L423.30,187.12 L423.80,188.36 L424.30,189.58 L424.80,190.78 L425.30,191.95 L425.80,193.08 L426.30,194.18 L426.80,195.24 L427.30,196.26 L427.80,197.23 L428.30,198.16 L428.80,199.05 L429.30,199.89 L429.80,200.68 L430.30,201.43 L430.80,202.14 L431.30,202.80 L431.80,203.41 L432.30,203.99 L432.80,204.52 L433.30,205.01 L433.80,205.47 L434.30,205.89 L434.80,206.27 L435.30,206.62 L435.80,206.94 L436.30,207.23 L436.80,207.50 L437.30,207.74 L437.80,207.95 L438.30,208.15 L438.80,208.32 L439.30,208.48 L439.80,208.62 L440.30,208.74 L440.80,208.85 L441.30,208.95 L441.80,209.03 L442.30,209.11 L442.80,209.17 L443.30,209.23 L443.80,209.28 L444.30,209.32 L444.80,209.36 L445.30,209.39 L445.80,209.42 L446.30,209.44 L446.80,209.46 L447.30,209.48 L447.80,209.49 L448.30,209.51 L448.80,209.51 L449.30,209.52 L449.80,209.53 L450.30,209.53 L450.80,209.54 L451.30,209.54 L451.80,209.54 L452.30,209.54 L452.80,209.55 L453.30,209.55 L453.80,209.55 L454.30,209.54 L454.80,209.54 L455.30,209.54 L455.80,209.54 L456.30,209.54 L456.80,209.54 L457.30,209.54 L457.80,209.54 L458.30,209.53 L458.80,209.53 L459.30,209.53 L459.80,209.53 L460.30,209.53 L460.80,209.52 L461.30,209.52 L461.80,209.52 L462.30,209.52 L462.80,209.52 L463.30,209.51 L463.80,209.51 L464.30,209.51 L464.80,209.51 L465.30,209.51 L465.80,209.50 L466.30,209.50 L466.80,209.50 L467.30,209.50 L467.80,209.49 L468.30,209.49 L468.80,209.49 L469.30,209.49 L469.80,209.49 L470.30,209.48 L470.80,209.48 L471.30,209.48 L471.80,209.48 L472.30,209.47 L472.80,209.47 L473.30,209.47 L473.80,209.47 L474.30,209.47 L474.80,209.46 L475.30,209.46 L475.80,209.46 L476.30,209.46 L476.80,209.46 L477.30,209.45 L477.80,209.45 L478.30,209.45 L478.80,209.45 L479.30,209.44 L479.80,209.44 L480.30,209.44 L480.80,209.44 L481.30,209.44 L481.80,209.43 L482.30,209.43 L482.80,209.43 L483.30,209.43 L483.80,209.43 L484.30,209.42 L484.80,209.42 L485.30,209.42 L485.80,209.42 L486.30,209.41 L486.80,209.41 L487.30,209.41 L487.80,209.41 L488.30,209.41 L488.80,209.40 L489.30,209.40 L489.80,209.40 L490.30,209.40 L490.80,209.40 L491.30,209.39 L491.80,209.39 L492.30,209.39 L492.80,209.39 L493.30,209.38 L493.80,209.38 L494.30,209.38 L494.80,209.38 L495.30,209.38 L495.80,209.37 L496.30,209.37 L496.80,209.37 L497.30,209.37 L497.80,209.36 L498.30,209.36 L498.80,209.36 L499.30,209.36 L499.80,209.36 L500.30,209.35 L500.80,209.35 L501.30,209.35 L501.80,209.35 L502.30,209.34 L502.80,209.34 L503.30,209.34 L503.80,209.34 L504.30,209.34 L504.80,209.33 L505.30,209.33 L505.80,209.33 L506.30,209.32 L506.80,209.32 L507.30,209.32 L507.80,209.32 L508.30,209.31 L508.80,209.31 L509.30,209.31 L509.80,209.30 L510.30,209.30 L510.80,209.30 L511.30,209.29 L511.80,209.29 L512.30,209.28 L512.80,209.28 L513.30,209.27 L513.80,209.26 L514.30,209.26 L514.80,209.25 L515.30,209.24 L515.80,209.23 L516.30,209.22 L516.80,209.21 L517.30,209.20 L517.80,209.19 L518.30,209.18 L518.80,209.16 L519.30,209.14 L519.80,209.12 L520.30,209.10 L520.80,209.08 L521.30,209.05 L521.80,209.03 L522.30,209.00 L522.80,208.96 L523.30,208.92 L523.80,208.88 L524.30,208.84 L524.80,208.79 L525.30,208.73 L525.80,208.67 L526.30,208.61 L526.80,208.54 L527.30,208.46 L527.80,208.37 L528.30,208.28 L528.80,208.18 L529.30,208.07 L529.80,207.95 L530.30,207.82 L530.80,207.67 L531.30,207.52 L531.80,207.36 L532.30,207.18 L532.80,206.99 L533.30,206.78 L533.80,206.56 L534.30,206.32 L534.80,206.07 L535.30,205.80 L535.80,205.51 L536.30,205.20 L536.80,204.87 L537.30,204.52 L537.80,204.14 L538.30,203.75 L538.80,203.33 L539.30,202.89 L539.80,202.42 L540.30,201.93 L540.80,201.42 L541.30,200.87 L541.80,200.31 L542.30,199.71 L542.80,199.09 L543.30,198.44 L543.80,197.77 L544.30,197.06 L544.80,196.34 L545.30,195.58 L545.80,194.80 L546.30,194.00 L546.80,193.17 L547.30,192.31 L547.80,191.43 L548.30,190.54 L548.80,189.62 L549.30,188.68 L549.80,187.72 L550.30,186.75 L550.80,185.77 L551.30,184.77 L551.80,183.76 L552.30,182.75 L552.80,181.73 L553.30,180.70 L553.80,179.68 L554.30,178.65 L554.80,177.64 L555.30,176.63 L555.80,175.63 L556.30,174.64 L556.80,173.67 L557.30,172.72 L557.80,171.79 L558.30,170.89 L558.80,170.02 L559.30,169.17 L559.80,168.36 L560.30,167.59 L560.80,166.86 L561.30,166.17 L561.80,165.52 L562.30,164.92 L562.80,164.36 L563.30,163.86 L563.80,163.41 L564.30,163.02 L564.80,162.68 L565.30,162.40 L565.80,162.18 L566.30,162.01 L566.80,161.91 L567.30,161.87 L567.80,161.89 L568.30,162.00 L568.80,162.19 L569.30,162.46 L569.80,162.82 L570.30,163.26 L570.80,163.77 L571.30,164.36 L571.80,165.02 L572.30,165.74 L572.80,166.53 L573.30,167.39 L573.80,168.29 L574.30,169.25 L574.80,170.26 L575.30,171.31 L575.80,172.39 L576.30,173.51 L576.80,174.66 L577.30,175.83 L577.80,177.01 L578.30,178.21 L578.80,179.42 L579.30,180.63 L579.80,181.84 L580.30,183.04 L580.80,184.24 L581.30,185.42 L581.80,186.59 L582.30,187.73 L582.80,188.86 L583.30,189.96 L583.80,191.03 L584.30,192.07 L584.80,193.07 L585.30,194.05 L585.80,194.99 L586.30,195.89 L586.80,196.76 L587.30,197.59 L587.80,198.38 L588.30,199.14 L588.80,199.85 L589.30,200.53 L589.80,201.17 L590.30,201.77 L590.80,202.34 L591.30,202.87 L591.80,203.36 L592.30,203.83 L592.80,204.25 L593.30,204.65 L593.80,205.01 L594.30,205.35 L594.80,205.65 L595.30,205.93 L595.80,206.18 L596.30,206.40 L596.80,206.59 L597.30,206.76 L597.80,206.91 L598.30,207.03 L598.80,207.14 L599.30,207.22 L599.80,207.28 L600.30,207.33 L600.80,207.35 L601.30,207.37 L601.80,207.37 L602.30,207.35 L602.80,207.33 L603.30,207.30 L603.80,207.27 L604.30,207.23 L604.80,207.18 L605.30,207.14 L605.80,207.10 L606.30,207.06 L606.80,207.03 L607.30,207.01 L607.80,206.99 L608.30,206.98 L608.80,206.99 L609.30,207.00 L609.80,207.02 L610.30,207.06 L610.80,207.10 L611.30,207.16 L611.80,207.22 L612.30,207.29 L612.80,207.37 L613.30,207.45 L613.80,207.54 L614.30,207.63 L614.80,207.72 L615.30,207.81 L615.80,207.90 L616.30,207.99 L616.80,208.07 L617.30,208.15 L617.80,208.23 L618.30,208.30 L618.80,208.36 L619.30,208.43 L619.80,208.48 L620.30,208.53 L620.80,208.57 L621.30,208.61 L621.80,208.64 L622.30,208.67 L622.80,208.70 L623.30,208.72 L623.80,208.73 L624.30,208.75 L624.80,208.76 L625.30,208.77 L625.80,208.78 L626.30,208.78 L626.80,208.79 L627.30,208.79 L627.80,208.79 L628.30,208.79 L628.80,208.79 L629.30,208.79 L629.80,208.79 L630.30,208.79 L630.80,208.79 L631.30,208.79 L631.80,208.79 L632.30,208.78 L632.80,208.78 L633.30,208.78 L633.80,208.78 L634.30,208.78 L634.80,208.77 L635.30,208.77 L635.80,208.77 L636.30,208.77 L636.80,208.76 L637.30,208.76 L637.80,208.76 L638.30,208.76 L638.80,208.76 L639.30,208.75 L639.80,208.75 L640.30,208.75 L640.80,208.75 L641.30,208.75 L641.80,208.74 L642.30,208.74 L642.80,208.74 L643.30,208.74 L643.80,208.73 L644.30,208.73 L644.80,208.73 L645.30,208.73 L645.80,208.73 L646.30,208.72 L646.80,208.72 L647.30,208.72 L647.80,208.72 L648.30,208.72 L648.80,208.71 L649.30,208.71 L649.80,208.71 L650.30,208.71 L650.80,208.70 L651.30,208.70 L651.80,208.70 L652.30,208.70 L652.80,208.70 L653.30,208.69 L653.80,208.69 L654.30,208.69 L654.80,208.69 L655.30,208.69 L655.80,208.68 L656.30,208.68 L656.80,208.68 L657.30,208.68 L657.80,208.67 L658.30,208.67 L658.80,208.67 L659.30,208.67 L659.80,208.67 L660.30,208.66 L660.80,208.66 L661.30,208.66 L661.80,208.66 L662.30,208.65 L662.80,208.65 L663.30,208.65 L663.80,208.65 L664.30,208.65 L664.80,208.64 L665.30,208.64 L665.80,208.64 L666.30,208.64 L666.80,208.64 L667.30,208.63 L667.80,208.63 L668.30,208.63 L668.80,208.63 L669.30,208.62 L669.80,208.62 L670.30,208.62" fill="none" stroke="#1f3864" stroke-width="1.45" stroke-linejoin="round" stroke-linecap="round" />
<path d="M397.80,193.78 L398.30,192.82 L398.80,191.85 L399.30,190.86 L399.80,189.86 L400.30,188.85 L400.80,187.84 L401.30,186.81 L401.80,185.79 L402.30,184.77 L402.80,183.75 L403.30,182.74 L403.80,181.75 L404.30,180.77 L404.80,179.81 L405.30,178.88 L405.80,177.97 L406.30,177.09 L406.80,176.25 L407.30,175.45 L407.80,174.68 L408.30,173.97 L408.80,173.30 L409.30,172.68 L409.80,172.12 L410.30,171.61 L410.80,171.16 L411.30,170.77 L411.80,170.45 L412.30,170.19 L412.80,169.99 L413.30,169.87 L413.80,169.81 L414.30,169.81 L414.80,169.89 L415.30,170.05 L415.80,170.27 L416.30,170.57 L416.80,170.93 L417.30,171.37 L417.80,171.86 L418.30,172.42 L418.80,173.04 L419.30,173.72 L419.80,174.45 L420.30,175.23 L420.80,176.06 L421.30,176.93 L421.80,177.84 L422.30,178.78 L422.80,179.75 L423.30,180.75 L423.80,181.77 L424.30,182.80 L424.80,183.85 L425.30,184.91 L425.80,185.98 L426.30,187.04 L426.80,188.11 L427.30,189.17 L427.80,190.22 L428.30,191.25 L428.80,192.28 L429.30,193.28 L429.80,194.26 L430.30,195.23 L430.80,196.16 L431.30,197.07 L431.80,197.95 L432.30,198.81 L432.80,199.63 L433.30,200.42 L433.80,201.18 L434.30,201.91 L434.80,202.60 L435.30,203.27 L435.80,203.90 L436.30,204.49 L436.80,205.06 L437.30,205.59 L437.80,206.10 L438.30,206.57 L438.80,207.01 L439.30,207.43 L439.80,207.82 L440.30,208.18 L440.80,208.53 L441.30,208.85 L441.80,209.15 L442.30,209.43 L442.80,209.69 L443.30,209.92 L443.80,210.14 L444.30,210.34 L444.80,210.53 L445.30,210.70 L445.80,210.86 L446.30,211.00 L446.80,211.13 L447.30,211.25 L447.80,211.36 L448.30,211.46 L448.80,211.55 L449.30,211.63 L449.80,211.70 L450.30,211.77 L450.80,211.83 L451.30,211.89 L451.80,211.94 L452.30,211.99 L452.80,212.03 L453.30,212.07 L453.80,212.10 L454.30,212.14 L454.80,212.17 L455.30,212.19 L455.80,212.22 L456.30,212.24 L456.80,212.26 L457.30,212.28 L457.80,212.30 L458.30,212.32 L458.80,212.34 L459.30,212.35 L459.80,212.37 L460.30,212.38 L460.80,212.39 L461.30,212.41 L461.80,212.42 L462.30,212.43 L462.80,212.45 L463.30,212.46 L463.80,212.47 L464.30,212.48 L464.80,212.49 L465.30,212.50 L465.80,212.51 L466.30,212.52 L466.80,212.53 L467.30,212.54 L467.80,212.55 L468.30,212.56 L468.80,212.57 L469.30,212.58 L469.80,212.60 L470.30,212.61 L470.80,212.62 L471.30,212.63 L471.80,212.64 L472.30,212.65 L472.80,212.66 L473.30,212.67 L473.80,212.68 L474.30,212.69 L474.80,212.70 L475.30,212.71 L475.80,212.72 L476.30,212.73 L476.80,212.74 L477.30,212.74 L477.80,212.75 L478.30,212.76 L478.80,212.77 L479.30,212.78 L479.80,212.79 L480.30,212.81 L480.80,212.84 L481.30,212.87 L481.80,212.90 L482.30,212.93 L482.80,212.95 L483.30,212.98 L483.80,213.01 L484.30,213.04 L484.80,213.06 L485.30,213.09 L485.80,213.12 L486.30,213.14 L486.80,213.17 L487.30,213.20 L487.80,213.23 L488.30,213.26 L488.80,213.29 L489.30,213.32 L489.80,213.36 L490.30,213.40 L490.80,213.45 L491.30,213.50 L491.80,213.57 L492.30,213.64 L492.80,213.72 L493.30,213.82 L493.80,213.94 L494.30,214.07 L494.80,214.21 L495.30,214.37 L495.80,214.53 L496.30,214.71 L496.80,214.89 L497.30,215.07 L497.80,215.24 L498.30,215.39 L498.80,215.53 L499.30,215.63 L499.80,215.70 L500.30,215.72 L500.80,215.70 L501.30,215.60 L501.80,215.41 L502.30,215.18 L502.80,214.91 L503.30,214.60 L503.80,214.25 L504.30,213.87 L504.80,213.47 L505.30,213.05 L505.80,212.62 L506.30,212.17 L506.80,211.72 L507.30,211.27 L507.80,210.81 L508.30,210.34 L508.80,209.86 L509.30,209.38 L509.80,208.88 L510.30,208.36 L510.80,207.83 L511.30,207.27 L511.80,206.69 L512.30,206.08 L512.80,205.44 L513.30,204.76 L513.80,204.05 L514.30,203.30 L514.80,202.50 L515.30,201.67 L515.80,200.79 L516.30,199.87 L516.80,198.90 L517.30,197.88 L517.80,196.81 L518.30,195.70 L518.80,194.54 L519.30,193.32 L519.80,192.06 L520.30,190.77 L520.80,189.45 L521.30,188.08 L521.80,186.66 L522.30,185.20 L522.80,183.69 L523.30,182.13 L523.80,180.53 L524.30,178.90 L524.80,177.22 L525.30,175.51 L525.80,173.77 L526.30,172.00 L526.80,170.20 L527.30,168.37 L527.80,166.53 L528.30,164.67 L528.80,162.81 L529.30,160.93 L529.80,159.05 L530.30,157.17 L530.80,155.30 L531.30,153.44 L531.80,151.59 L532.30,149.76 L532.80,147.96 L533.30,146.19 L533.80,144.45 L534.30,142.75 L534.80,141.09 L535.30,139.48 L535.80,137.92 L536.30,136.41 L536.80,134.97 L537.30,133.58 L537.80,132.26 L538.30,131.01 L538.80,129.82 L539.30,128.71 L539.80,127.67 L540.30,126.71 L540.80,125.82 L541.30,125.00 L541.80,124.26 L542.30,123.60 L542.80,123.00 L543.30,122.50 L543.80,122.12 L544.30,121.87 L544.80,121.75 L545.30,121.75 L545.80,121.87 L546.30,122.10 L546.80,122.43 L547.30,122.86 L547.80,123.38 L548.30,123.98 L548.80,124.64 L549.30,125.37 L549.80,126.15 L550.30,126.97 L550.80,127.82 L551.30,128.69 L551.80,129.57 L552.30,130.46 L552.80,131.34 L553.30,132.22 L553.80,133.07 L554.30,133.89 L554.80,134.68 L555.30,135.43 L555.80,136.14 L556.30,136.81 L556.80,137.42 L557.30,137.98 L557.80,138.49 L558.30,138.94 L558.80,139.33 L559.30,139.68 L559.80,139.97 L560.30,140.20 L560.80,140.39 L561.30,140.53 L561.80,140.63 L562.30,140.68 L562.80,140.69 L563.30,140.67 L563.80,140.62 L564.30,140.53 L564.80,140.42 L565.30,140.28 L565.80,140.12 L566.30,139.94 L566.80,139.74 L567.30,139.52 L567.80,139.28 L568.30,139.02 L568.80,138.74 L569.30,138.44 L569.80,138.11 L570.30,137.76 L570.80,137.38 L571.30,136.97 L571.80,136.52 L572.30,136.03 L572.80,135.50 L573.30,134.91 L573.80,134.27 L574.30,133.56 L574.80,132.79 L575.30,131.95 L575.80,131.03 L576.30,130.02 L576.80,128.93 L577.30,127.74 L577.80,126.45 L578.30,125.06 L578.80,123.56 L579.30,121.96 L579.80,120.24 L580.30,118.41 L580.80,116.46 L581.30,114.40 L581.80,112.23 L582.30,109.94 L582.80,107.54 L583.30,105.03 L583.80,102.43 L584.30,99.72 L584.80,96.92 L585.30,94.04 L585.80,91.07 L586.30,88.04 L586.80,84.95 L587.30,81.80 L587.80,78.62 L588.30,75.40 L588.80,72.17 L589.30,68.93 L589.80,65.70 L590.30,62.48 L590.80,59.30 L591.30,56.16 L591.80,53.09 L592.30,50.08 L592.80,47.16 L593.30,44.33 L593.80,41.62 L594.30,39.03 L594.80,36.58 L595.30,34.27 L595.80,32.13 L596.30,30.15 L596.80,28.35 L597.30,26.74 L597.80,25.33 L598.30,24.12 L598.80,23.12 L599.30,22.33 L599.80,21.77 L600.30,21.44 L600.80,21.33 L601.30,21.46 L601.80,21.89 L602.30,22.60 L602.80,23.61 L603.30,24.90 L603.80,26.47 L604.30,28.32 L604.80,30.43 L605.30,32.81 L605.80,35.43 L606.30,38.28 L606.80,41.36 L607.30,44.66 L607.80,48.14 L608.30,51.82 L608.80,55.65 L609.30,59.64 L609.80,63.76 L610.30,68.00 L610.80,72.35 L611.30,76.77 L611.80,81.27 L612.30,85.82 L612.80,90.40 L613.30,95.01 L613.80,99.62 L614.30,104.22 L614.80,108.80 L615.30,113.34 L615.80,117.83 L616.30,122.26 L616.80,126.62 L617.30,130.90 L617.80,135.08 L618.30,139.17 L618.80,143.15 L619.30,147.02 L619.80,150.77 L620.30,154.39 L620.80,157.89 L621.30,161.25 L621.80,164.49 L622.30,167.59 L622.80,170.55 L623.30,173.47 L623.80,176.70 L624.30,180.16 L624.80,183.72 L625.30,187.27 L625.80,190.71 L626.30,193.95 L626.80,196.94 L627.30,199.62 L627.80,201.99 L628.30,204.03 L628.80,205.75 L629.30,207.18 L629.80,208.34 L630.30,209.27 L630.80,209.99 L631.30,210.55 L631.80,210.97 L632.30,211.28 L632.80,211.51 L633.30,211.67 L633.80,211.79 L634.30,211.87 L634.80,211.92 L635.30,211.95 L635.80,211.98 L636.30,211.99 L636.80,212.00 L637.30,212.00 L637.80,212.00 L638.30,212.00 L638.80,212.00 L639.30,212.00 L639.80,212.00 L640.30,212.00 L640.80,212.01 L641.30,212.02 L641.80,212.03 L642.30,212.03 L642.80,212.04 L643.30,212.05 L643.80,212.05 L644.30,212.06 L644.80,212.07 L645.30,212.08 L645.80,212.08 L646.30,212.09 L646.80,212.10 L647.30,212.10 L647.80,212.11 L648.30,212.12 L648.80,212.13 L649.30,212.13 L649.80,212.14 L650.30,212.15 L650.80,212.15 L651.30,212.16 L651.80,212.17 L652.30,212.18 L652.80,212.18 L653.30,212.19 L653.80,212.20 L654.30,212.20 L654.80,212.21 L655.30,212.22 L655.80,212.23 L656.30,212.23 L656.80,212.24 L657.30,212.25 L657.80,212.25 L658.30,212.26 L658.80,212.27 L659.30,212.28 L659.80,212.28 L660.30,212.29 L660.80,212.30 L661.30,212.30 L661.80,212.31 L662.30,212.32 L662.80,212.33 L663.30,212.33 L663.80,212.34 L664.30,212.35 L664.80,212.35 L665.30,212.36 L665.80,212.37 L666.30,212.38 L666.80,212.38 L667.30,212.39 L667.80,212.40 L668.30,212.40 L668.80,212.41 L669.30,212.42 L669.80,212.43 L670.30,212.43" fill="none" stroke="#c0503c" stroke-width="1.5" stroke-linejoin="round" stroke-linecap="round" />
<path d="M397.50,190.00 L397.88,188.96 L398.39,187.52 L399.00,185.81 L399.67,183.98 L400.35,182.16 L401.00,180.50 L401.63,178.95 L402.28,177.39 L402.94,175.84 L403.62,174.33 L404.30,172.87 L405.00,171.50 L405.71,170.18 L406.45,168.87 L407.19,167.63 L407.94,166.48 L408.68,165.46 L409.40,164.60 L410.11,163.92 L410.83,163.40 L411.54,163.00 L412.23,162.70 L412.89,162.48 L413.50,162.30 L414.04,162.15 L414.51,162.06 L414.95,162.03 L415.39,162.10 L415.86,162.28 L416.40,162.60 L417.02,163.09 L417.70,163.73 L418.41,164.49 L419.13,165.32 L419.84,166.17 L420.50,167.00 L421.12,167.82 L421.71,168.67 L422.29,169.55 L422.86,170.44 L423.42,171.32 L424.00,172.20 L424.58,173.07 L425.17,173.93 L425.75,174.79 L426.33,175.66 L426.92,176.53 L427.50,177.40 L428.10,178.28 L428.71,179.18 L429.32,180.08 L429.91,180.97 L430.48,181.85 L431.00,182.70 L431.45,183.50 L431.84,184.26 L432.19,185.00 L432.55,185.75 L432.94,186.54 L433.40,187.40 L433.93,188.35 L434.51,189.37 L435.13,190.43 L435.76,191.50 L436.39,192.53 L437.00,193.50 L437.56,194.41 L438.09,195.28 L438.62,196.12 L439.17,196.94 L439.79,197.73 L440.50,198.50 L441.29,199.29 L442.14,200.10 L443.04,200.88 L444.02,201.59 L445.07,202.18 L446.20,202.60 L447.37,202.80 L448.57,202.80 L449.84,202.68 L451.24,202.50 L452.81,202.35 L454.60,202.30 L456.67,202.31 L459.01,202.33 L461.51,202.36 L464.10,202.44 L466.69,202.58 L469.20,202.80 L471.72,203.13 L474.34,203.56 L476.96,204.06 L479.48,204.57 L481.79,205.07 L483.80,205.50 L485.43,205.87 L486.74,206.21 L487.85,206.54 L488.86,206.85 L489.87,207.17 L491.00,207.50 L492.27,207.88 L493.59,208.31 L494.92,208.74 L496.21,209.13 L497.38,209.43 L498.40,209.60 L499.20,209.62 L499.82,209.54 L500.34,209.37 L500.82,209.13 L501.35,208.83 L502.00,208.50 L502.79,208.13 L503.67,207.71 L504.59,207.24 L505.51,206.72 L506.40,206.14 L507.20,205.50 L507.90,204.82 L508.53,204.10 L509.12,203.33 L509.70,202.48 L510.32,201.54 L511.00,200.50 L511.76,199.35 L512.58,198.12 L513.43,196.79 L514.29,195.38 L515.12,193.88 L515.90,192.30 L516.62,190.66 L517.30,188.95 L517.96,187.16 L518.62,185.26 L519.29,183.21 L520.00,181.00 L520.75,178.54 L521.54,175.84 L522.34,173.01 L523.14,170.12 L523.93,167.29 L524.70,164.60 L525.44,162.11 L526.17,159.76 L526.89,157.46 L527.60,155.13 L528.31,152.67 L529.00,150.00 L529.68,147.03 L530.36,143.81 L531.02,140.46 L531.68,137.13 L532.34,133.93 L533.00,131.00 L533.66,128.29 L534.30,125.70 L534.94,123.24 L535.59,120.95 L536.28,118.86 L537.00,117.00 L537.78,115.33 L538.59,113.81 L539.44,112.49 L540.30,111.41 L541.16,110.64 L542.00,110.20 L542.85,110.19 L543.72,110.58 L544.59,111.27 L545.44,112.14 L546.25,113.09 L547.00,114.00 L547.66,114.93 L548.24,115.97 L548.78,117.08 L549.31,118.23 L549.88,119.39 L550.50,120.50 L551.19,121.62 L551.92,122.77 L552.68,123.93 L553.45,125.05 L554.23,126.08 L555.00,127.00 L555.78,127.83 L556.57,128.62 L557.36,129.33 L558.16,129.92 L558.94,130.36 L559.70,130.60 L560.43,130.63 L561.12,130.47 L561.81,130.16 L562.50,129.72 L563.22,129.19 L564.00,128.60 L564.82,128.00 L565.68,127.36 L566.56,126.64 L567.48,125.76 L568.42,124.67 L569.40,123.30 L570.44,121.62 L571.55,119.66 L572.69,117.48 L573.82,115.16 L574.90,112.74 L575.90,110.30 L576.82,107.82 L577.68,105.26 L578.50,102.60 L579.27,99.86 L580.01,97.02 L580.70,94.10 L581.34,91.05 L581.91,87.87 L582.45,84.60 L582.96,81.29 L583.47,77.97 L584.00,74.70 L584.55,71.49 L585.10,68.29 L585.66,65.10 L586.20,61.89 L586.71,58.63 L587.20,55.30 L587.65,51.76 L588.08,48.00 L588.48,44.19 L588.87,40.52 L589.24,37.16 L589.60,34.30 L589.94,31.96 L590.25,30.01 L590.54,28.37 L590.84,26.98 L591.15,25.74 L591.50,24.60 L591.87,23.58 L592.26,22.77 L592.66,22.11 L593.08,21.59 L593.52,21.16 L594.00,20.80 L594.51,20.54 L595.06,20.43 L595.63,20.41 L596.22,20.45 L596.81,20.49 L597.40,20.50 L597.99,20.44 L598.59,20.35 L599.19,20.26 L599.80,20.23 L600.40,20.29 L601.00,20.50 L601.58,20.71 L602.16,20.87 L602.73,21.12 L603.30,21.63 L603.89,22.54 L604.50,24.00 L605.15,26.05 L605.83,28.56 L606.53,31.47 L607.22,34.72 L607.89,38.25 L608.50,42.00 L609.06,46.11 L609.59,50.67 L610.09,55.50 L610.57,60.44 L611.04,65.33 L611.50,70.00 L611.95,74.58 L612.39,79.22 L612.81,83.81 L613.22,88.22 L613.62,92.33 L614.00,96.00 L614.36,99.19 L614.69,102.00 L615.01,104.50 L615.32,106.78 L615.65,108.92 L616.00,111.00 L616.37,112.89 L616.74,114.49 L617.12,115.95 L617.52,117.42 L617.94,119.06 L618.40,121.00 L618.88,123.26 L619.39,125.72 L619.92,128.34 L620.48,131.08 L621.07,133.91 L621.70,136.80 L622.38,139.81 L623.11,142.98 L623.88,146.24 L624.66,149.51 L625.44,152.72 L626.20,155.80 L626.95,158.75 L627.70,161.64 L628.45,164.47 L629.20,167.24 L629.95,169.95 L630.70,172.60 L631.42,175.23 L632.12,177.84 L632.81,180.39 L633.54,182.84 L634.32,185.12 L635.20,187.20 L636.19,189.08 L637.28,190.82 L638.43,192.39 L639.60,193.80 L640.77,195.04 L641.90,196.10 L642.96,196.91 L643.98,197.45 L644.99,197.82 L646.04,198.11 L647.16,198.41 L648.40,198.80 L649.75,199.30 L651.19,199.83 L652.69,200.38 L654.27,200.89 L655.91,201.34 L657.60,201.70 L659.50,201.95 L661.66,202.12 L663.88,202.23 L665.96,202.30 L667.73,202.35 L669.00,202.40" fill="none" stroke="#c87070" stroke-width="0.9" stroke-linejoin="round" stroke-linecap="round" stroke-dasharray="1 1.6" stroke-linecap="butt"/>
</g>
<rect x="396.80" y="4.70" width="278.20" height="211.50" fill="none" stroke="#000" stroke-width="1.65"/>
<line x1="393.30" y1="40.60" x2="395.90" y2="40.60" stroke="#555" stroke-width="0.9"/>
<line x1="393.30" y1="76.50" x2="395.90" y2="76.50" stroke="#555" stroke-width="0.9"/>
<line x1="393.30" y1="112.40" x2="395.90" y2="112.40" stroke="#555" stroke-width="0.9"/>
<line x1="393.30" y1="148.30" x2="395.90" y2="148.30" stroke="#555" stroke-width="0.9"/>
<line x1="393.30" y1="184.20" x2="395.90" y2="184.20" stroke="#555" stroke-width="0.9"/>
<line x1="393.30" y1="4.70" x2="396.80" y2="4.70" stroke="#555" stroke-width="0.9"/>
<line x1="414.60" y1="217.10" x2="414.60" y2="219.80" stroke="#555" stroke-width="0.9"/>
<text x="414.60" y="235.00" font-size="11" font-weight="bold" fill="#000" text-anchor="middle" >295</text>
<line x1="501.40" y1="217.10" x2="501.40" y2="219.80" stroke="#555" stroke-width="0.9"/>
<text x="501.40" y="235.00" font-size="11" font-weight="bold" fill="#000" text-anchor="middle" >290</text>
<line x1="588.20" y1="217.10" x2="588.20" y2="219.80" stroke="#555" stroke-width="0.9"/>
<text x="588.20" y="235.00" font-size="11" font-weight="bold" fill="#000" text-anchor="middle" >285</text>
<line x1="675.00" y1="217.10" x2="675.00" y2="219.80" stroke="#555" stroke-width="0.9"/>
<text x="675.00" y="235.00" font-size="11" font-weight="bold" fill="#000" text-anchor="middle" >280</text>
<text x="504.30" y="254.50" font-size="10" font-weight="bold" fill="#000" text-anchor="start" textLength="46.7" lengthAdjust="spacingAndGlyphs" >B. E. (eV)</text>
<text x="378.00" y="110.60" font-size="10.7" font-weight="bold" fill="#000" text-anchor="middle" textLength="71.8" lengthAdjust="spacingAndGlyphs" transform="rotate(-90 378.00 110.60)" >Intensity (a.u.)</text>
<text x="413.90" y="38.40" font-size="13.2" font-weight="bold" fill="#000" text-anchor="start" textLength="49.2" lengthAdjust="spacingAndGlyphs" >(b) C 1S</text>
<text x="570.90" y="30.10" font-size="11" font-weight="bold" fill="#000" text-anchor="start" >284.5</text>
<text x="524.00" y="107.80" font-size="11" font-weight="bold" fill="#000" text-anchor="start" >288.0</text>
<text x="556.30" y="151.50" font-size="11" font-weight="bold" fill="#000" text-anchor="start" >286.2</text>
<text x="403.60" y="158.90" font-size="11" font-weight="bold" fill="#000" text-anchor="start" >295.5</text>
<line x1="35.10" y1="456.20" x2="320.10" y2="456.20" stroke="#b5b56a" stroke-width="1.1"/>
<path d="M35.10,456.20 L35.60,456.20 L36.10,456.20 L36.60,456.20 L37.10,456.20 L37.60,456.20 L38.10,456.20 L38.60,456.20 L39.10,456.20 L39.60,456.20 L40.10,456.20 L40.60,456.20 L41.10,456.20 L41.60,456.20 L42.10,456.20 L42.60,456.20 L43.10,456.20 L43.60,456.20 L44.10,456.20 L44.60,456.20 L45.10,456.20 L45.60,456.20 L46.10,456.20 L46.60,456.20 L47.10,456.20 L47.60,456.20 L48.10,456.20 L48.60,456.20 L49.10,456.20 L49.60,456.20 L50.10,456.20 L50.60,456.20 L51.10,456.20 L51.60,456.20 L52.10,456.20 L52.60,456.20 L53.10,456.20 L53.60,456.20 L54.10,456.20 L54.60,456.20 L55.10,456.20 L55.60,456.20 L56.10,456.20 L56.60,456.20 L57.10,456.20 L57.60,456.20 L58.10,456.20 L58.60,456.20 L59.10,456.20 L59.60,456.20 L60.10,456.20 L60.60,456.20 L61.10,456.20 L61.60,456.20 L62.10,456.20 L62.60,456.20 L63.10,456.20 L63.60,456.20 L64.10,456.20 L64.60,456.20 L65.10,456.20 L65.60,456.20 L66.10,456.20 L66.60,456.20 L67.10,456.20 L67.60,456.20 L68.10,456.20 L68.60,456.20 L69.10,456.20 L69.60,456.20 L70.10,456.20 L70.60,456.20 L71.10,456.20 L71.60,456.20 L72.10,456.20 L72.60,456.20 L73.10,456.20 L73.60,456.20 L74.10,456.20 L74.60,456.20 L75.10,456.20 L75.60,456.20 L76.10,456.20 L76.60,456.20 L77.10,456.20 L77.60,456.20 L78.10,456.20 L78.60,456.20 L79.10,456.20 L79.60,456.20 L80.10,456.20 L80.60,456.20 L81.10,456.20 L81.60,456.20 L82.10,456.20 L82.60,456.20 L83.10,456.20 L83.60,456.20 L84.10,456.20 L84.60,456.20 L85.10,456.20 L85.60,456.20 L86.10,456.20 L86.60,456.20 L87.10,456.20 L87.60,456.20 L88.10,456.20 L88.60,456.20 L89.10,456.20 L89.60,456.20 L90.10,456.20 L90.60,456.20 L91.10,456.20 L91.60,456.20 L92.10,456.20 L92.60,456.20 L93.10,456.20 L93.60,456.20 L94.10,456.20 L94.60,456.20 L95.10,456.20 L95.60,456.20 L96.10,456.20 L96.60,456.20 L97.10,456.20 L97.60,456.20 L98.10,456.19 L98.60,456.19 L99.10,456.19 L99.60,456.19 L100.10,456.19 L100.60,456.19 L101.10,456.19 L101.60,456.19 L102.10,456.19 L102.60,456.18 L103.10,456.18 L103.60,456.18 L104.10,456.18 L104.60,456.17 L105.10,456.17 L105.60,456.17 L106.10,456.16 L106.60,456.16 L107.10,456.16 L107.60,456.15 L108.10,456.15 L108.60,456.14 L109.10,456.13 L109.60,456.12 L110.10,456.12 L110.60,456.11 L111.10,456.10 L111.60,456.08 L112.10,456.07 L112.60,456.06 L113.10,456.04 L113.60,456.03 L114.10,456.01 L114.60,455.99 L115.10,455.97 L115.60,455.94 L116.10,455.92 L116.60,455.89 L117.10,455.86 L117.60,455.82 L118.10,455.78 L118.60,455.74 L119.10,455.70 L119.60,455.65 L120.10,455.60 L120.60,455.54 L121.10,455.48 L121.60,455.41 L122.10,455.34 L122.60,455.26 L123.10,455.18 L123.60,455.09 L124.10,454.99 L124.60,454.89 L125.10,454.77 L125.60,454.65 L126.10,454.52 L126.60,454.38 L127.10,454.22 L127.60,454.06 L128.10,453.89 L128.60,453.70 L129.10,453.50 L129.60,453.29 L130.10,453.06 L130.60,452.81 L131.10,452.55 L131.60,452.28 L132.10,451.98 L132.60,451.67 L133.10,451.34 L133.60,450.99 L134.10,450.61 L134.60,450.22 L135.10,449.80 L135.60,449.36 L136.10,448.89 L136.60,448.39 L137.10,447.87 L137.60,447.33 L138.10,446.75 L138.60,446.14 L139.10,445.50 L139.60,444.83 L140.10,444.13 L140.60,443.39 L141.10,442.62 L141.60,441.82 L142.10,440.98 L142.60,440.10 L143.10,439.18 L143.60,438.23 L144.10,437.24 L144.60,436.20 L145.10,435.13 L145.60,434.02 L146.10,432.87 L146.60,431.67 L147.10,430.44 L147.60,429.16 L148.10,427.84 L148.60,426.48 L149.10,425.08 L149.60,423.64 L150.10,422.15 L150.60,420.63 L151.10,419.07 L151.60,417.47 L152.10,415.83 L152.60,414.16 L153.10,412.44 L153.60,410.70 L154.10,408.92 L154.60,407.11 L155.10,405.27 L155.60,403.40 L156.10,401.50 L156.60,399.59 L157.10,397.64 L157.60,395.68 L158.10,393.70 L158.60,391.71 L159.10,389.70 L159.60,387.69 L160.10,385.67 L160.60,383.64 L161.10,381.61 L161.60,379.59 L162.10,377.57 L162.60,375.56 L163.10,373.57 L163.60,371.58 L164.10,369.62 L164.60,367.68 L165.10,365.77 L165.60,363.89 L166.10,362.04 L166.60,360.23 L167.10,358.46 L167.60,356.73 L168.10,355.05 L168.60,353.42 L169.10,351.85 L169.60,350.33 L170.10,348.88 L170.60,347.48 L171.10,346.16 L171.60,344.90 L172.10,343.72 L172.60,342.61 L173.10,341.58 L173.60,340.63 L174.10,339.76 L174.60,338.98 L175.10,338.28 L175.60,337.67 L176.10,337.15 L176.60,336.72 L177.10,336.37 L177.60,336.12 L178.10,335.97 L178.60,335.90 L179.10,335.93 L179.60,336.05 L180.10,336.26 L180.60,336.57 L181.10,336.96 L181.60,337.45 L182.10,338.03 L182.60,338.69 L183.10,339.44 L183.60,340.28 L184.10,341.19 L184.60,342.19 L185.10,343.27 L185.60,344.42 L186.10,345.65 L186.60,346.95 L187.10,348.31 L187.60,349.74 L188.10,351.23 L188.60,352.79 L189.10,354.39 L189.60,356.05 L190.10,357.76 L190.60,359.52 L191.10,361.31 L191.60,363.15 L192.10,365.02 L192.60,366.92 L193.10,368.84 L193.60,370.80 L194.10,372.77 L194.60,374.76 L195.10,376.77 L195.60,378.78 L196.10,380.80 L196.60,382.83 L197.10,384.86 L197.60,386.88 L198.10,388.90 L198.60,390.91 L199.10,392.91 L199.60,394.89 L200.10,396.86 L200.60,398.81 L201.10,400.74 L201.60,402.64 L202.10,404.52 L202.60,406.38 L203.10,408.20 L203.60,409.99 L204.10,411.75 L204.60,413.47 L205.10,415.16 L205.60,416.82 L206.10,418.43 L206.60,420.01 L207.10,421.55 L207.60,423.05 L208.10,424.51 L208.60,425.92 L209.10,427.30 L209.60,428.64 L210.10,429.93 L210.60,431.18 L211.10,432.39 L211.60,433.56 L212.10,434.69 L212.60,435.78 L213.10,436.83 L213.60,437.84 L214.10,438.81 L214.60,439.74 L215.10,440.63 L215.60,441.49 L216.10,442.31 L216.60,443.09 L217.10,443.84 L217.60,444.56 L218.10,445.24 L218.60,445.89 L219.10,446.51 L219.60,447.10 L220.10,447.66 L220.60,448.19 L221.10,448.69 L221.60,449.17 L222.10,449.63 L222.60,450.05 L223.10,450.46 L223.60,450.84 L224.10,451.20 L224.60,451.54 L225.10,451.86 L225.60,452.16 L226.10,452.45 L226.60,452.71 L227.10,452.96 L227.60,453.20 L228.10,453.42 L228.60,453.62 L229.10,453.81 L229.60,453.99 L230.10,454.16 L230.60,454.32 L231.10,454.46 L231.60,454.60 L232.10,454.72 L232.60,454.84 L233.10,454.95 L233.60,455.05 L234.10,455.14 L234.60,455.23 L235.10,455.31 L235.60,455.39 L236.10,455.46 L236.60,455.52 L237.10,455.58 L237.60,455.63 L238.10,455.68 L238.60,455.73 L239.10,455.77 L239.60,455.81 L240.10,455.84 L240.60,455.87 L241.10,455.90 L241.60,455.93 L242.10,455.96 L242.60,455.98 L243.10,456.00 L243.60,456.02 L244.10,456.04 L244.60,456.05 L245.10,456.07 L245.60,456.08 L246.10,456.09 L246.60,456.10 L247.10,456.11 L247.60,456.12 L248.10,456.13 L248.60,456.14 L249.10,456.14 L249.60,456.15 L250.10,456.15 L250.60,456.16 L251.10,456.16 L251.60,456.17 L252.10,456.17 L252.60,456.17 L253.10,456.18 L253.60,456.18 L254.10,456.18 L254.60,456.18 L255.10,456.19 L255.60,456.19 L256.10,456.19 L256.60,456.19 L257.10,456.19 L257.60,456.19 L258.10,456.19 L258.60,456.19 L259.10,456.19 L259.60,456.20 L260.10,456.20 L260.60,456.20 L261.10,456.20 L261.60,456.20 L262.10,456.20 L262.60,456.20 L263.10,456.20 L263.60,456.20 L264.10,456.20 L264.60,456.20 L265.10,456.20 L265.60,456.20 L266.10,456.20 L266.60,456.20 L267.10,456.20 L267.60,456.20 L268.10,456.20 L268.60,456.20 L269.10,456.20 L269.60,456.20 L270.10,456.20 L270.60,456.20 L271.10,456.20 L271.60,456.20 L272.10,456.20 L272.60,456.20 L273.10,456.20 L273.60,456.20 L274.10,456.20 L274.60,456.20 L275.10,456.20 L275.60,456.20 L276.10,456.20 L276.60,456.20 L277.10,456.20 L277.60,456.20 L278.10,456.20 L278.60,456.20 L279.10,456.20 L279.60,456.20 L280.10,456.20 L280.60,456.20 L281.10,456.20 L281.60,456.20 L282.10,456.20 L282.60,456.20 L283.10,456.20 L283.60,456.20 L284.10,456.20 L284.60,456.20 L285.10,456.20 L285.60,456.20 L286.10,456.20 L286.60,456.20 L287.10,456.20 L287.60,456.20 L288.10,456.20 L288.60,456.20 L289.10,456.20 L289.60,456.20 L290.10,456.20 L290.60,456.20 L291.10,456.20 L291.60,456.20 L292.10,456.20 L292.60,456.20 L293.10,456.20 L293.60,456.20 L294.10,456.20 L294.60,456.20 L295.10,456.20 L295.60,456.20 L296.10,456.20 L296.60,456.20 L297.10,456.20 L297.60,456.20 L298.10,456.20 L298.60,456.20 L299.10,456.20 L299.60,456.20 L300.10,456.20 L300.60,456.20 L301.10,456.20 L301.60,456.20 L302.10,456.20 L302.60,456.20 L303.10,456.20 L303.60,456.20 L304.10,456.20 L304.60,456.20 L305.10,456.20 L305.60,456.20 L306.10,456.20 L306.60,456.20 L307.10,456.20 L307.60,456.20 L308.10,456.20 L308.60,456.20 L309.10,456.20 L309.60,456.20 L310.10,456.20 L310.60,456.20 L311.10,456.20 L311.60,456.20 L312.10,456.20 L312.60,456.20 L313.10,456.20 L313.60,456.20 L314.10,456.20 L314.60,456.20 L315.10,456.20 L315.60,456.20 L316.10,456.20 L316.60,456.20 L317.10,456.20 L317.60,456.20 L318.10,456.20 L318.60,456.20 L319.10,456.20 L319.60,456.20" fill="none" stroke="#7a4a9e" stroke-width="1.0" stroke-linejoin="round" stroke-linecap="round" />
<path d="M35.10,456.20 L35.60,456.20 L36.10,456.20 L36.60,456.20 L37.10,456.20 L37.60,456.20 L38.10,456.20 L38.60,456.20 L39.10,456.20 L39.60,456.20 L40.10,456.20 L40.60,456.20 L41.10,456.20 L41.60,456.20 L42.10,456.20 L42.60,456.20 L43.10,456.20 L43.60,456.20 L44.10,456.20 L44.60,456.20 L45.10,456.20 L45.60,456.20 L46.10,456.20 L46.60,456.20 L47.10,456.20 L47.60,456.20 L48.10,456.20 L48.60,456.20 L49.10,456.20 L49.60,456.20 L50.10,456.20 L50.60,456.20 L51.10,456.20 L51.60,456.20 L52.10,456.20 L52.60,456.20 L53.10,456.20 L53.60,456.20 L54.10,456.20 L54.60,456.20 L55.10,456.20 L55.60,456.19 L56.10,456.19 L56.60,456.19 L57.10,456.19 L57.60,456.19 L58.10,456.19 L58.60,456.19 L59.10,456.19 L59.60,456.19 L60.10,456.18 L60.60,456.18 L61.10,456.18 L61.60,456.18 L62.10,456.17 L62.60,456.17 L63.10,456.17 L63.60,456.16 L64.10,456.16 L64.60,456.15 L65.10,456.15 L65.60,456.14 L66.10,456.13 L66.60,456.13 L67.10,456.12 L67.60,456.11 L68.10,456.10 L68.60,456.08 L69.10,456.07 L69.60,456.06 L70.10,456.04 L70.60,456.02 L71.10,456.00 L71.60,455.98 L72.10,455.96 L72.60,455.93 L73.10,455.91 L73.60,455.87 L74.10,455.84 L74.60,455.80 L75.10,455.76 L75.60,455.72 L76.10,455.67 L76.60,455.62 L77.10,455.56 L77.60,455.50 L78.10,455.43 L78.60,455.36 L79.10,455.28 L79.60,455.20 L80.10,455.11 L80.60,455.01 L81.10,454.90 L81.60,454.78 L82.10,454.66 L82.60,454.53 L83.10,454.38 L83.60,454.23 L84.10,454.06 L84.60,453.89 L85.10,453.70 L85.60,453.50 L86.10,453.28 L86.60,453.05 L87.10,452.81 L87.60,452.55 L88.10,452.27 L88.60,451.98 L89.10,451.66 L89.60,451.33 L90.10,450.99 L90.60,450.62 L91.10,450.23 L91.60,449.82 L92.10,449.38 L92.60,448.93 L93.10,448.45 L93.60,447.94 L94.10,447.42 L94.60,446.86 L95.10,446.28 L95.60,445.68 L96.10,445.05 L96.60,444.39 L97.10,443.70 L97.60,442.99 L98.10,442.24 L98.60,441.47 L99.10,440.68 L99.60,439.85 L100.10,438.99 L100.60,438.11 L101.10,437.20 L101.60,436.26 L102.10,435.30 L102.60,434.30 L103.10,433.29 L103.60,432.24 L104.10,431.18 L104.60,430.08 L105.10,428.97 L105.60,427.83 L106.10,426.68 L106.60,425.50 L107.10,424.31 L107.60,423.10 L108.10,421.88 L108.60,420.64 L109.10,419.40 L109.60,418.14 L110.10,416.88 L110.60,415.62 L111.10,414.35 L111.60,413.08 L112.10,411.82 L112.60,410.56 L113.10,409.30 L113.60,408.06 L114.10,406.83 L114.60,405.61 L115.10,404.41 L115.60,403.23 L116.10,402.08 L116.60,400.95 L117.10,399.85 L117.60,398.78 L118.10,397.74 L118.60,396.74 L119.10,395.77 L119.60,394.85 L120.10,393.97 L120.60,393.14 L121.10,392.35 L121.60,391.61 L122.10,390.93 L122.60,390.30 L123.10,389.72 L123.60,389.20 L124.10,388.74 L124.60,388.33 L125.10,387.99 L125.60,387.71 L126.10,387.48 L126.60,387.33 L127.10,387.23 L127.60,387.20 L128.10,387.23 L128.60,387.33 L129.10,387.48 L129.60,387.71 L130.10,387.99 L130.60,388.33 L131.10,388.74 L131.60,389.20 L132.10,389.72 L132.60,390.30 L133.10,390.93 L133.60,391.61 L134.10,392.35 L134.60,393.14 L135.10,393.97 L135.60,394.85 L136.10,395.77 L136.60,396.74 L137.10,397.74 L137.60,398.78 L138.10,399.85 L138.60,400.95 L139.10,402.08 L139.60,403.23 L140.10,404.41 L140.60,405.61 L141.10,406.83 L141.60,408.06 L142.10,409.30 L142.60,410.56 L143.10,411.82 L143.60,413.08 L144.10,414.35 L144.60,415.62 L145.10,416.88 L145.60,418.14 L146.10,419.40 L146.60,420.64 L147.10,421.88 L147.60,423.10 L148.10,424.31 L148.60,425.50 L149.10,426.68 L149.60,427.83 L150.10,428.97 L150.60,430.08 L151.10,431.18 L151.60,432.24 L152.10,433.29 L152.60,434.30 L153.10,435.30 L153.60,436.26 L154.10,437.20 L154.60,438.11 L155.10,438.99 L155.60,439.85 L156.10,440.68 L156.60,441.47 L157.10,442.24 L157.60,442.99 L158.10,443.70 L158.60,444.39 L159.10,445.05 L159.60,445.68 L160.10,446.28 L160.60,446.86 L161.10,447.42 L161.60,447.94 L162.10,448.45 L162.60,448.93 L163.10,449.38 L163.60,449.82 L164.10,450.23 L164.60,450.62 L165.10,450.99 L165.60,451.33 L166.10,451.66 L166.60,451.98 L167.10,452.27 L167.60,452.55 L168.10,452.81 L168.60,453.05 L169.10,453.28 L169.60,453.50 L170.10,453.70 L170.60,453.89 L171.10,454.06 L171.60,454.23 L172.10,454.38 L172.60,454.53 L173.10,454.66 L173.60,454.78 L174.10,454.90 L174.60,455.01 L175.10,455.11 L175.60,455.20 L176.10,455.28 L176.60,455.36 L177.10,455.43 L177.60,455.50 L178.10,455.56 L178.60,455.62 L179.10,455.67 L179.60,455.72 L180.10,455.76 L180.60,455.80 L181.10,455.84 L181.60,455.87 L182.10,455.91 L182.60,455.93 L183.10,455.96 L183.60,455.98 L184.10,456.00 L184.60,456.02 L185.10,456.04 L185.60,456.06 L186.10,456.07 L186.60,456.08 L187.10,456.10 L187.60,456.11 L188.10,456.12 L188.60,456.13 L189.10,456.13 L189.60,456.14 L190.10,456.15 L190.60,456.15 L191.10,456.16 L191.60,456.16 L192.10,456.17 L192.60,456.17 L193.10,456.17 L193.60,456.18 L194.10,456.18 L194.60,456.18 L195.10,456.18 L195.60,456.19 L196.10,456.19 L196.60,456.19 L197.10,456.19 L197.60,456.19 L198.10,456.19 L198.60,456.19 L199.10,456.19 L199.60,456.19 L200.10,456.20 L200.60,456.20 L201.10,456.20 L201.60,456.20 L202.10,456.20 L202.60,456.20 L203.10,456.20 L203.60,456.20 L204.10,456.20 L204.60,456.20 L205.10,456.20 L205.60,456.20 L206.10,456.20 L206.60,456.20 L207.10,456.20 L207.60,456.20 L208.10,456.20 L208.60,456.20 L209.10,456.20 L209.60,456.20 L210.10,456.20 L210.60,456.20 L211.10,456.20 L211.60,456.20 L212.10,456.20 L212.60,456.20 L213.10,456.20 L213.60,456.20 L214.10,456.20 L214.60,456.20 L215.10,456.20 L215.60,456.20 L216.10,456.20 L216.60,456.20 L217.10,456.20 L217.60,456.20 L218.10,456.20 L218.60,456.20 L219.10,456.20 L219.60,456.20 L220.10,456.20 L220.60,456.20 L221.10,456.20 L221.60,456.20 L222.10,456.20 L222.60,456.20 L223.10,456.20 L223.60,456.20 L224.10,456.20 L224.60,456.20 L225.10,456.20 L225.60,456.20 L226.10,456.20 L226.60,456.20 L227.10,456.20 L227.60,456.20 L228.10,456.20 L228.60,456.20 L229.10,456.20 L229.60,456.20 L230.10,456.20 L230.60,456.20 L231.10,456.20 L231.60,456.20 L232.10,456.20 L232.60,456.20 L233.10,456.20 L233.60,456.20 L234.10,456.20 L234.60,456.20 L235.10,456.20 L235.60,456.20 L236.10,456.20 L236.60,456.20 L237.10,456.20 L237.60,456.20 L238.10,456.20 L238.60,456.20 L239.10,456.20 L239.60,456.20 L240.10,456.20 L240.60,456.20 L241.10,456.20 L241.60,456.20 L242.10,456.20 L242.60,456.20 L243.10,456.20 L243.60,456.20 L244.10,456.20 L244.60,456.20 L245.10,456.20 L245.60,456.20 L246.10,456.20 L246.60,456.20 L247.10,456.20 L247.60,456.20 L248.10,456.20 L248.60,456.20 L249.10,456.20 L249.60,456.20 L250.10,456.20 L250.60,456.20 L251.10,456.20 L251.60,456.20 L252.10,456.20 L252.60,456.20 L253.10,456.20 L253.60,456.20 L254.10,456.20 L254.60,456.20 L255.10,456.20 L255.60,456.20 L256.10,456.20 L256.60,456.20 L257.10,456.20 L257.60,456.20 L258.10,456.20 L258.60,456.20 L259.10,456.20 L259.60,456.20 L260.10,456.20 L260.60,456.20 L261.10,456.20 L261.60,456.20 L262.10,456.20 L262.60,456.20 L263.10,456.20 L263.60,456.20 L264.10,456.20 L264.60,456.20 L265.10,456.20 L265.60,456.20 L266.10,456.20 L266.60,456.20 L267.10,456.20 L267.60,456.20 L268.10,456.20 L268.60,456.20 L269.10,456.20 L269.60,456.20 L270.10,456.20 L270.60,456.20 L271.10,456.20 L271.60,456.20 L272.10,456.20 L272.60,456.20 L273.10,456.20 L273.60,456.20 L274.10,456.20 L274.60,456.20 L275.10,456.20 L275.60,456.20 L276.10,456.20 L276.60,456.20 L277.10,456.20 L277.60,456.20 L278.10,456.20 L278.60,456.20 L279.10,456.20 L279.60,456.20 L280.10,456.20 L280.60,456.20 L281.10,456.20 L281.60,456.20 L282.10,456.20 L282.60,456.20 L283.10,456.20 L283.60,456.20 L284.10,456.20 L284.60,456.20 L285.10,456.20 L285.60,456.20 L286.10,456.20 L286.60,456.20 L287.10,456.20 L287.60,456.20 L288.10,456.20 L288.60,456.20 L289.10,456.20 L289.60,456.20 L290.10,456.20 L290.60,456.20 L291.10,456.20 L291.60,456.20 L292.10,456.20 L292.60,456.20 L293.10,456.20 L293.60,456.20 L294.10,456.20 L294.60,456.20 L295.10,456.20 L295.60,456.20 L296.10,456.20 L296.60,456.20 L297.10,456.20 L297.60,456.20 L298.10,456.20 L298.60,456.20 L299.10,456.20 L299.60,456.20 L300.10,456.20 L300.60,456.20 L301.10,456.20 L301.60,456.20 L302.10,456.20 L302.60,456.20 L303.10,456.20 L303.60,456.20 L304.10,456.20 L304.60,456.20 L305.10,456.20 L305.60,456.20 L306.10,456.20 L306.60,456.20 L307.10,456.20 L307.60,456.20 L308.10,456.20 L308.60,456.20 L309.10,456.20 L309.60,456.20 L310.10,456.20 L310.60,456.20 L311.10,456.20 L311.60,456.20 L312.10,456.20 L312.60,456.20 L313.10,456.20 L313.60,456.20 L314.10,456.20 L314.60,456.20 L315.10,456.20 L315.60,456.20 L316.10,456.20 L316.60,456.20 L317.10,456.20 L317.60,456.20 L318.10,456.20 L318.60,456.20 L319.10,456.20 L319.60,456.20" fill="none" stroke="#a8a832" stroke-width="1.0" stroke-linejoin="round" stroke-linecap="round" />
<path d="M140.10,456.20 L140.60,456.20 L141.10,456.20 L141.60,456.20 L142.10,456.20 L142.60,456.20 L143.10,456.20 L143.60,456.20 L144.10,456.20 L144.60,456.20 L145.10,456.20 L145.60,456.20 L146.10,456.20 L146.60,456.20 L147.10,456.20 L147.60,456.20 L148.10,456.20 L148.60,456.20 L149.10,456.20 L149.60,456.20 L150.10,456.20 L150.60,456.20 L151.10,456.20 L151.60,456.20 L152.10,456.20 L152.60,456.20 L153.10,456.20 L153.60,456.20 L154.10,456.20 L154.60,456.20 L155.10,456.20 L155.60,456.20 L156.10,456.20 L156.60,456.20 L157.10,456.20 L157.60,456.19 L158.10,456.19 L158.60,456.19 L159.10,456.19 L159.60,456.19 L160.10,456.19 L160.60,456.19 L161.10,456.19 L161.60,456.19 L162.10,456.18 L162.60,456.18 L163.10,456.18 L163.60,456.18 L164.10,456.18 L164.60,456.17 L165.10,456.17 L165.60,456.17 L166.10,456.16 L166.60,456.16 L167.10,456.15 L167.60,456.15 L168.10,456.14 L168.60,456.13 L169.10,456.13 L169.60,456.12 L170.10,456.11 L170.60,456.10 L171.10,456.09 L171.60,456.08 L172.10,456.07 L172.60,456.05 L173.10,456.04 L173.60,456.02 L174.10,456.00 L174.60,455.98 L175.10,455.96 L175.60,455.94 L176.10,455.91 L176.60,455.88 L177.10,455.85 L177.60,455.82 L178.10,455.78 L178.60,455.75 L179.10,455.70 L179.60,455.66 L180.10,455.61 L180.60,455.56 L181.10,455.50 L181.60,455.44 L182.10,455.37 L182.60,455.30 L183.10,455.23 L183.60,455.14 L184.10,455.06 L184.60,454.96 L185.10,454.86 L185.60,454.75 L186.10,454.64 L186.60,454.51 L187.10,454.38 L187.60,454.24 L188.10,454.09 L188.60,453.93 L189.10,453.77 L189.60,453.59 L190.10,453.40 L190.60,453.20 L191.10,452.98 L191.60,452.76 L192.10,452.52 L192.60,452.27 L193.10,452.00 L193.60,451.72 L194.10,451.43 L194.60,451.12 L195.10,450.80 L195.60,450.46 L196.10,450.10 L196.60,449.73 L197.10,449.33 L197.60,448.93 L198.10,448.50 L198.60,448.05 L199.10,447.59 L199.60,447.10 L200.10,446.60 L200.60,446.08 L201.10,445.54 L201.60,444.98 L202.10,444.39 L202.60,443.79 L203.10,443.17 L203.60,442.53 L204.10,441.87 L204.60,441.19 L205.10,440.49 L205.60,439.76 L206.10,439.03 L206.60,438.27 L207.10,437.49 L207.60,436.70 L208.10,435.89 L208.60,435.06 L209.10,434.22 L209.60,433.36 L210.10,432.49 L210.60,431.60 L211.10,430.70 L211.60,429.79 L212.10,428.88 L212.60,427.95 L213.10,427.01 L213.60,426.07 L214.10,425.12 L214.60,424.17 L215.10,423.22 L215.60,422.27 L216.10,421.32 L216.60,420.37 L217.10,419.42 L217.60,418.48 L218.10,417.55 L218.60,416.63 L219.10,415.72 L219.60,414.82 L220.10,413.93 L220.60,413.07 L221.10,412.22 L221.60,411.39 L222.10,410.58 L222.60,409.79 L223.10,409.03 L223.60,408.30 L224.10,407.59 L224.60,406.92 L225.10,406.27 L225.60,405.66 L226.10,405.09 L226.60,404.55 L227.10,404.04 L227.60,403.58 L228.10,403.15 L228.60,402.76 L229.10,402.42 L229.60,402.11 L230.10,401.85 L230.60,401.63 L231.10,401.46 L231.60,401.33 L232.10,401.24 L232.60,401.20 L233.10,401.21 L233.60,401.26 L234.10,401.35 L234.60,401.49 L235.10,401.67 L235.60,401.90 L236.10,402.17 L236.60,402.48 L237.10,402.84 L237.60,403.23 L238.10,403.67 L238.60,404.14 L239.10,404.65 L239.60,405.20 L240.10,405.78 L240.60,406.40 L241.10,407.05 L241.60,407.73 L242.10,408.44 L242.60,409.18 L243.10,409.95 L243.60,410.74 L244.10,411.55 L244.60,412.38 L245.10,413.24 L245.60,414.11 L246.10,415.00 L246.60,415.90 L247.10,416.81 L247.60,417.74 L248.10,418.67 L248.60,419.61 L249.10,420.56 L249.60,421.51 L250.10,422.46 L250.60,423.41 L251.10,424.36 L251.60,425.31 L252.10,426.26 L252.60,427.20 L253.10,428.13 L253.60,429.06 L254.10,429.98 L254.60,430.88 L255.10,431.78 L255.60,432.66 L256.10,433.53 L256.60,434.39 L257.10,435.23 L257.60,436.05 L258.10,436.86 L258.60,437.65 L259.10,438.42 L259.60,439.17 L260.10,439.91 L260.60,440.63 L261.10,441.32 L261.60,442.00 L262.10,442.66 L262.60,443.30 L263.10,443.91 L263.60,444.51 L264.10,445.09 L264.60,445.65 L265.10,446.19 L265.60,446.70 L266.10,447.20 L266.60,447.68 L267.10,448.14 L267.60,448.58 L268.10,449.01 L268.60,449.41 L269.10,449.80 L269.60,450.17 L270.10,450.53 L270.60,450.86 L271.10,451.19 L271.60,451.49 L272.10,451.78 L272.60,452.06 L273.10,452.32 L273.60,452.57 L274.10,452.80 L274.60,453.03 L275.10,453.24 L275.60,453.44 L276.10,453.62 L276.60,453.80 L277.10,453.97 L277.60,454.12 L278.10,454.27 L278.60,454.41 L279.10,454.54 L279.60,454.66 L280.10,454.77 L280.60,454.88 L281.10,454.98 L281.60,455.07 L282.10,455.16 L282.60,455.24 L283.10,455.32 L283.60,455.39 L284.10,455.45 L284.60,455.51 L285.10,455.57 L285.60,455.62 L286.10,455.67 L286.60,455.71 L287.10,455.75 L287.60,455.79 L288.10,455.83 L288.60,455.86 L289.10,455.89 L289.60,455.92 L290.10,455.94 L290.60,455.96 L291.10,455.99 L291.60,456.01 L292.10,456.02 L292.60,456.04 L293.10,456.05 L293.60,456.07 L294.10,456.08 L294.60,456.09 L295.10,456.10 L295.60,456.11 L296.10,456.12 L296.60,456.13 L297.10,456.14 L297.60,456.14 L298.10,456.15 L298.60,456.15 L299.10,456.16 L299.60,456.16 L300.10,456.17 L300.60,456.17 L301.10,456.17 L301.60,456.18 L302.10,456.18 L302.60,456.18 L303.10,456.18 L303.60,456.18 L304.10,456.19 L304.60,456.19 L305.10,456.19 L305.60,456.19 L306.10,456.19 L306.60,456.19 L307.10,456.19 L307.60,456.19 L308.10,456.19 L308.60,456.20 L309.10,456.20 L309.60,456.20 L310.10,456.20 L310.60,456.20 L311.10,456.20 L311.60,456.20 L312.10,456.20 L312.60,456.20 L313.10,456.20 L313.60,456.20 L314.10,456.20 L314.60,456.20 L315.10,456.20 L315.60,456.20 L316.10,456.20 L316.60,456.20 L317.10,456.20 L317.60,456.20 L318.10,456.20 L318.60,456.20 L319.10,456.20 L319.60,456.20" fill="none" stroke="#2e2e72" stroke-width="1.0" stroke-linejoin="round" stroke-linecap="round" />
<path d="M35.10,446.21 L35.60,446.21 L36.10,446.21 L36.60,446.22 L37.10,446.22 L37.60,446.23 L38.10,446.23 L38.60,446.23 L39.10,446.24 L39.60,446.24 L40.10,446.24 L40.60,446.25 L41.10,446.25 L41.60,446.25 L42.10,446.26 L42.60,446.26 L43.10,446.26 L43.60,446.27 L44.10,446.27 L44.60,446.27 L45.10,446.28 L45.60,446.28 L46.10,446.28 L46.60,446.29 L47.10,446.29 L47.60,446.29 L48.10,446.30 L48.60,446.30 L49.10,446.30 L49.60,446.31 L50.10,446.31 L50.60,446.31 L51.10,446.32 L51.60,446.32 L52.10,446.32 L52.60,446.33 L53.10,446.33 L53.60,446.33 L54.10,446.34 L54.60,446.34 L55.10,446.34 L55.60,446.35 L56.10,446.35 L56.60,446.35 L57.10,446.35 L57.60,446.36 L58.10,446.36 L58.60,446.36 L59.10,446.36 L59.60,446.36 L60.10,446.37 L60.60,446.37 L61.10,446.37 L61.60,446.37 L62.10,446.37 L62.60,446.37 L63.10,446.37 L63.60,446.37 L64.10,446.37 L64.60,446.37 L65.10,446.36 L65.60,446.36 L66.10,446.36 L66.60,446.35 L67.10,446.35 L67.60,446.34 L68.10,446.33 L68.60,446.33 L69.10,446.32 L69.60,446.30 L70.10,446.29 L70.60,446.28 L71.10,446.26 L71.60,446.24 L72.10,446.22 L72.60,446.20 L73.10,446.18 L73.60,446.15 L74.10,446.12 L74.60,446.09 L75.10,446.05 L75.60,446.01 L76.10,445.96 L76.60,445.92 L77.10,445.86 L77.60,445.80 L78.10,445.74 L78.60,445.67 L79.10,445.60 L79.60,445.52 L80.10,445.43 L80.60,445.33 L81.10,445.23 L81.60,445.12 L82.10,444.99 L82.60,444.86 L83.10,444.72 L83.60,444.57 L84.10,444.41 L84.60,444.24 L85.10,444.05 L85.60,443.86 L86.10,443.64 L86.60,443.42 L87.10,443.18 L87.60,442.92 L88.10,442.65 L88.60,442.36 L89.10,442.05 L89.60,441.72 L90.10,441.38 L90.60,441.01 L91.10,440.62 L91.60,440.22 L92.10,439.79 L92.60,439.33 L93.10,438.86 L93.60,438.36 L94.10,437.83 L94.60,437.28 L95.10,436.71 L95.60,436.10 L96.10,435.48 L96.60,434.82 L97.10,434.14 L97.60,433.43 L98.10,432.69 L98.60,431.92 L99.10,431.12 L99.60,430.30 L100.10,429.45 L100.60,428.57 L101.10,427.66 L101.60,426.72 L102.10,425.76 L102.60,424.77 L103.10,423.75 L103.60,422.71 L104.10,421.64 L104.60,420.55 L105.10,419.44 L105.60,418.30 L106.10,417.14 L106.60,415.97 L107.10,414.78 L107.60,413.57 L108.10,412.34 L108.60,411.10 L109.10,409.85 L109.60,408.59 L110.10,407.33 L110.60,406.06 L111.10,404.78 L111.60,403.51 L112.10,402.23 L112.60,400.96 L113.10,399.70 L113.60,398.44 L114.10,397.19 L114.60,395.96 L115.10,394.74 L115.60,393.54 L116.10,392.37 L116.60,391.21 L117.10,390.08 L117.60,388.98 L118.10,387.91 L118.60,386.87 L119.10,385.87 L119.60,384.90 L120.10,383.97 L120.60,383.08 L121.10,382.24 L121.60,381.44 L122.10,380.69 L122.60,379.98 L123.10,379.32 L123.60,378.71 L124.10,378.15 L124.60,377.65 L125.10,377.19 L125.60,376.79 L126.10,376.44 L126.60,376.15 L127.10,375.90 L127.60,375.71 L128.10,375.57 L128.60,375.49 L129.10,375.45 L129.60,375.46 L130.10,375.51 L130.60,375.62 L131.10,375.77 L131.60,375.96 L132.10,376.19 L132.60,376.46 L133.10,376.76 L133.60,377.10 L134.10,377.46 L134.60,377.86 L135.10,378.28 L135.60,378.72 L136.10,379.17 L136.60,379.65 L137.10,380.13 L137.60,380.62 L138.10,381.12 L138.60,381.62 L139.10,382.11 L139.60,382.60 L140.10,383.08 L140.60,383.55 L141.10,384.00 L141.60,384.43 L142.10,384.83 L142.60,385.21 L143.10,385.56 L143.60,385.87 L144.10,386.15 L144.60,386.39 L145.10,386.59 L145.60,386.74 L146.10,386.84 L146.60,386.90 L147.10,386.90 L147.60,386.85 L148.10,386.74 L148.60,386.58 L149.10,386.36 L149.60,386.07 L150.10,385.73 L150.60,385.33 L151.10,384.86 L151.60,384.33 L152.10,383.74 L152.60,383.08 L153.10,382.37 L153.60,381.59 L154.10,380.76 L154.60,379.86 L155.10,378.90 L155.60,377.89 L156.10,376.83 L156.60,375.71 L157.10,374.54 L157.60,373.33 L158.10,372.06 L158.60,370.76 L159.10,369.41 L159.60,368.03 L160.10,366.62 L160.60,365.17 L161.10,363.70 L161.60,362.21 L162.10,360.69 L162.60,359.17 L163.10,357.63 L163.60,356.08 L164.10,354.53 L164.60,352.98 L165.10,351.44 L165.60,349.91 L166.10,348.39 L166.60,346.89 L167.10,345.41 L167.60,343.96 L168.10,342.53 L168.60,341.15 L169.10,339.80 L169.60,338.49 L170.10,337.23 L170.60,336.02 L171.10,334.87 L171.60,333.77 L172.10,332.73 L172.60,331.76 L173.10,330.85 L173.60,330.01 L174.10,329.24 L174.60,328.55 L175.10,327.93 L175.60,327.39 L176.10,326.93 L176.60,326.55 L177.10,326.26 L177.60,326.05 L178.10,325.92 L178.60,325.87 L179.10,325.92 L179.60,326.04 L180.10,326.25 L180.60,326.55 L181.10,326.93 L181.60,327.39 L182.10,327.94 L182.60,328.56 L183.10,329.26 L183.60,330.04 L184.10,330.90 L184.60,331.83 L185.10,332.82 L185.60,333.89 L186.10,335.02 L186.60,336.21 L187.10,337.46 L187.60,338.76 L188.10,340.12 L188.60,341.52 L189.10,342.97 L189.60,344.47 L190.10,345.99 L190.60,347.56 L191.10,349.15 L191.60,350.76 L192.10,352.40 L192.60,354.06 L193.10,355.73 L193.60,357.41 L194.10,359.10 L194.60,360.78 L195.10,362.47 L195.60,364.15 L196.10,365.82 L196.60,367.48 L197.10,369.12 L197.60,370.74 L198.10,372.33 L198.60,373.90 L199.10,375.44 L199.60,376.95 L200.10,378.42 L200.60,379.85 L201.10,381.24 L201.60,382.59 L202.10,383.89 L202.60,385.14 L203.10,386.35 L203.60,387.50 L204.10,388.60 L204.60,389.65 L205.10,390.64 L205.60,391.58 L206.10,392.46 L206.60,393.28 L207.10,394.05 L207.60,394.76 L208.10,395.41 L208.60,396.00 L209.10,396.54 L209.60,397.02 L210.10,397.44 L210.60,397.81 L211.10,398.13 L211.60,398.40 L212.10,398.61 L212.60,398.77 L213.10,398.89 L213.60,398.96 L214.10,398.99 L214.60,398.97 L215.10,398.91 L215.60,398.82 L216.10,398.69 L216.60,398.53 L217.10,398.34 L217.60,398.12 L218.10,397.87 L218.60,397.60 L219.10,397.31 L219.60,397.01 L220.10,396.69 L220.60,396.36 L221.10,396.01 L221.60,395.67 L222.10,395.31 L222.60,394.96 L223.10,394.61 L223.60,394.26 L224.10,393.92 L224.60,393.59 L225.10,393.27 L225.60,392.96 L226.10,392.67 L226.60,392.40 L227.10,392.15 L227.60,391.92 L228.10,391.72 L228.60,391.54 L229.10,391.39 L229.60,391.27 L230.10,391.18 L230.60,391.12 L231.10,391.09 L231.60,391.10 L232.10,391.15 L232.60,391.23 L233.10,391.35 L233.60,391.50 L234.10,391.69 L234.60,391.92 L235.10,392.19 L235.60,392.49 L236.10,392.83 L236.60,393.21 L237.10,393.63 L237.60,394.08 L238.10,394.57 L238.60,395.09 L239.10,395.65 L239.60,396.24 L240.10,396.86 L240.60,397.52 L241.10,398.20 L241.60,398.91 L242.10,399.65 L242.60,400.41 L243.10,401.20 L243.60,402.02 L244.10,402.85 L244.60,403.70 L245.10,404.58 L245.60,405.46 L246.10,406.37 L246.60,407.28 L247.10,408.21 L247.60,409.15 L248.10,410.09 L248.60,411.04 L249.10,412.00 L249.60,412.96 L250.10,413.92 L250.60,414.88 L251.10,415.84 L251.60,416.80 L252.10,417.75 L252.60,418.70 L253.10,419.64 L253.60,420.57 L254.10,421.49 L254.60,422.40 L255.10,423.31 L255.60,424.19 L256.10,425.07 L256.60,425.93 L257.10,426.77 L257.60,427.60 L258.10,428.41 L258.60,429.21 L259.10,429.98 L259.60,430.74 L260.10,431.48 L260.60,432.20 L261.10,432.90 L261.60,433.58 L262.10,434.25 L262.60,434.89 L263.10,435.51 L263.60,436.11 L264.10,436.69 L264.60,437.25 L265.10,437.80 L265.60,438.32 L266.10,438.82 L266.60,439.30 L267.10,439.77 L267.60,440.21 L268.10,440.64 L268.60,441.05 L269.10,441.44 L269.60,441.81 L270.10,442.17 L270.60,442.51 L271.10,442.84 L271.60,443.15 L272.10,443.44 L272.60,443.72 L273.10,443.99 L273.60,444.24 L274.10,444.48 L274.60,444.70 L275.10,444.92 L275.60,445.12 L276.10,445.31 L276.60,445.49 L277.10,445.66 L277.60,445.82 L278.10,445.97 L278.60,446.11 L279.10,446.25 L279.60,446.37 L280.10,446.49 L280.60,446.60 L281.10,446.70 L281.60,446.80 L282.10,446.89 L282.60,446.97 L283.10,447.05 L283.60,447.13 L284.10,447.19 L284.60,447.26 L285.10,447.32 L285.60,447.37 L286.10,447.42 L286.60,447.47 L287.10,447.52 L287.60,447.56 L288.10,447.60 L288.60,447.63 L289.10,447.67 L289.60,447.70 L290.10,447.73 L290.60,447.75 L291.10,447.78 L291.60,447.80 L292.10,447.82 L292.60,447.84 L293.10,447.86 L293.60,447.88 L294.10,447.89 L294.60,447.91 L295.10,447.92 L295.60,447.94 L296.10,447.95 L296.60,447.96 L297.10,447.97 L297.60,447.98 L298.10,447.99 L298.60,448.00 L299.10,448.01 L299.60,448.01 L300.10,448.02 L300.60,448.03 L301.10,448.03 L301.60,448.04 L302.10,448.05 L302.60,448.05 L303.10,448.06 L303.60,448.06 L304.10,448.07 L304.60,448.07 L305.10,448.08 L305.60,448.08 L306.10,448.09 L306.60,448.09 L307.10,448.10 L307.60,448.10 L308.10,448.10 L308.60,448.11 L309.10,448.11 L309.60,448.12 L310.10,448.12 L310.60,448.12 L311.10,448.13 L311.60,448.13 L312.10,448.14 L312.60,448.14 L313.10,448.14 L313.60,448.15 L314.10,448.15 L314.60,448.15 L315.10,448.16 L315.60,448.16 L316.10,448.17 L316.60,448.17 L317.10,448.17 L317.60,448.18 L318.10,448.18 L318.60,448.18 L319.10,448.19 L319.60,448.19" fill="none" stroke="#6a3a30" stroke-width="1.0" stroke-linejoin="round" stroke-linecap="round" />
<path d="M34.50,432.00 L35.07,432.61 L35.84,433.48 L36.76,434.49 L37.79,435.57 L38.89,436.60 L40.00,437.50 L41.17,438.37 L42.45,439.29 L43.79,440.18 L45.16,440.93 L46.51,441.44 L47.80,441.60 L49.03,441.39 L50.21,440.87 L51.39,440.12 L52.56,439.18 L53.76,438.12 L55.00,437.00 L56.27,435.70 L57.54,434.14 L58.84,432.46 L60.17,430.79 L61.55,429.26 L63.00,428.00 L64.56,426.99 L66.23,426.11 L67.95,425.37 L69.66,424.78 L71.30,424.36 L72.80,424.10 L74.14,424.03 L75.36,424.15 L76.51,424.43 L77.64,424.85 L78.78,425.38 L80.00,426.00 L81.31,426.80 L82.69,427.82 L84.08,428.95 L85.46,430.09 L86.78,431.14 L88.00,432.00 L89.11,432.68 L90.15,433.28 L91.13,433.78 L92.07,434.19 L92.99,434.49 L93.90,434.70 L94.81,434.84 L95.70,434.92 L96.57,434.89 L97.41,434.74 L98.22,434.40 L99.00,433.84 L99.73,433.02 L100.41,431.95 L101.07,430.71 L101.71,429.35 L102.35,427.95 L103.00,426.57 L103.67,425.20 L104.33,423.77 L105.00,422.30 L105.67,420.79 L106.33,419.25 L107.00,417.69 L107.67,416.10 L108.33,414.46 L109.00,412.80 L109.67,411.12 L110.33,409.44 L111.00,407.77 L111.67,406.10 L112.33,404.40 L113.00,402.71 L113.67,401.03 L114.33,399.38 L115.00,397.78 L115.67,396.21 L116.33,394.65 L117.00,393.13 L117.67,391.66 L118.33,390.24 L119.00,388.91 L119.67,387.65 L120.33,386.44 L121.00,385.30 L121.67,384.23 L122.33,383.24 L123.00,382.36 L123.67,381.56 L124.33,380.86 L125.00,380.23 L125.67,379.70 L126.33,379.26 L127.00,378.91 L127.67,378.67 L128.33,378.52 L129.00,378.46 L129.67,378.49 L130.33,378.59 L131.00,378.76 L131.67,379.01 L132.33,379.35 L133.00,379.76 L133.67,380.23 L134.33,380.74 L135.00,381.27 L135.67,381.84 L136.33,382.48 L137.00,383.15 L137.67,383.84 L138.33,384.51 L139.00,385.16 L139.67,385.79 L140.33,386.44 L141.00,387.07 L141.67,387.68 L142.33,388.23 L143.00,388.69 L143.67,389.09 L144.33,389.46 L145.00,389.77 L145.67,390.00 L146.33,390.14 L147.00,390.16 L147.67,390.09 L148.33,389.92 L149.00,389.67 L149.67,389.31 L150.33,388.84 L151.00,388.25 L151.67,387.54 L152.33,386.72 L153.00,385.78 L153.67,384.74 L154.33,383.60 L155.00,382.37 L155.67,381.03 L156.33,379.57 L157.00,378.01 L157.67,376.38 L158.33,374.68 L159.00,372.93 L159.67,371.10 L160.33,369.19 L161.00,367.21 L161.67,365.20 L162.33,363.17 L163.00,361.15 L163.67,359.11 L164.33,357.04 L165.00,354.95 L165.67,352.87 L166.33,350.84 L167.00,348.89 L167.67,346.98 L168.33,345.09 L169.00,343.25 L169.67,341.48 L170.33,339.80 L171.00,338.26 L171.67,336.81 L172.33,335.45 L173.00,334.19 L173.67,333.04 L174.33,332.04 L175.00,331.18 L175.67,330.47 L176.33,329.90 L177.00,329.45 L177.67,329.15 L178.33,329.00 L179.00,329.01 L179.67,329.17 L180.33,329.49 L181.00,329.96 L181.67,330.57 L182.33,331.32 L183.00,332.20 L183.67,333.22 L184.33,334.39 L185.00,335.70 L185.67,337.13 L186.33,338.65 L187.00,340.26 L187.67,341.96 L188.33,343.80 L189.00,345.73 L189.67,347.73 L190.33,349.78 L191.00,351.85 L191.67,353.98 L192.33,356.19 L193.00,358.44 L193.67,360.71 L194.33,362.95 L195.00,365.13 L195.67,367.27 L196.33,369.41 L197.00,371.52 L197.67,373.58 L198.33,375.60 L199.00,377.54 L199.67,379.42 L200.33,381.26 L201.00,383.05 L201.67,384.76 L202.33,386.39 L203.00,387.91 L203.67,389.33 L204.33,390.68 L205.00,391.93 L205.67,393.09 L206.33,394.15 L207.00,395.10 L207.67,395.94 L208.33,396.67 L209.00,397.29 L209.67,397.83 L210.33,398.29 L211.00,398.67 L211.67,398.97 L212.33,399.18 L213.00,399.30 L213.67,399.35 L214.33,399.35 L215.00,399.30 L215.67,399.20 L216.33,399.03 L217.00,398.80 L217.67,398.52 L218.33,398.22 L219.00,397.90 L219.67,397.53 L220.33,397.12 L221.00,396.68 L221.67,396.22 L222.33,395.77 L223.00,395.35 L223.67,394.93 L224.33,394.50 L225.00,394.08 L225.67,393.68 L226.33,393.32 L227.00,393.01 L227.67,392.75 L228.33,392.52 L229.00,392.32 L229.67,392.18 L230.33,392.09 L231.00,392.06 L231.66,392.09 L232.30,392.18 L232.94,392.32 L233.59,392.53 L234.28,392.80 L235.00,393.13 L235.75,393.51 L236.52,393.93 L237.31,394.41 L238.15,394.99 L239.04,395.67 L240.00,396.50 L241.04,397.52 L242.16,398.73 L243.33,400.05 L244.54,401.42 L245.77,402.76 L247.00,404.00 L248.23,405.17 L249.46,406.32 L250.71,407.45 L252.00,408.53 L253.32,409.56 L254.70,410.50 L256.17,411.39 L257.73,412.25 L259.34,413.04 L260.93,413.75 L262.47,414.35 L263.90,414.80 L265.20,415.08 L266.41,415.20 L267.56,415.20 L268.68,415.14 L269.82,415.05 L271.00,415.00 L272.20,414.92 L273.40,414.77 L274.60,414.61 L275.84,414.47 L277.13,414.42 L278.50,414.50 L279.93,414.74 L281.41,415.09 L282.94,415.53 L284.54,416.02 L286.23,416.52 L288.00,417.00 L289.93,417.54 L292.02,418.19 L294.19,418.84 L296.37,419.43 L298.46,419.84 L300.40,420.00 L302.15,419.88 L303.78,419.55 L305.32,419.05 L306.84,418.43 L308.39,417.73 L310.00,417.00 L311.81,416.13 L313.79,415.06 L315.80,413.91 L317.67,412.81 L319.26,411.86 L320.40,411.20" fill="none" stroke="#cc2a2a" stroke-width="1.5" stroke-linejoin="round" stroke-linecap="round" stroke-dasharray="0.1 3.0" stroke-linecap="round"/>
<rect x="34.10" y="284.10" width="287.00" height="203.80" fill="none" stroke="#000" stroke-width="2.0"/>
<line x1="30.60" y1="318.70" x2="33.10" y2="318.70" stroke="#555" stroke-width="0.9"/>
<line x1="30.60" y1="353.30" x2="33.10" y2="353.30" stroke="#555" stroke-width="0.9"/>
<line x1="30.60" y1="387.90" x2="33.10" y2="387.90" stroke="#555" stroke-width="0.9"/>
<line x1="30.60" y1="422.50" x2="33.10" y2="422.50" stroke="#555" stroke-width="0.9"/>
<line x1="30.60" y1="457.10" x2="33.10" y2="457.10" stroke="#555" stroke-width="0.9"/>
<line x1="30.60" y1="284.10" x2="34.10" y2="284.10" stroke="#555" stroke-width="0.9"/>
<line x1="34.00" y1="488.90" x2="34.00" y2="491.50" stroke="#555" stroke-width="0.9"/>
<text x="34.00" y="505.20" font-size="10.6" font-weight="bold" fill="#000" text-anchor="middle" >410</text>
<line x1="78.40" y1="488.90" x2="78.40" y2="491.50" stroke="#555" stroke-width="0.9"/>
<text x="78.40" y="505.20" font-size="10.6" font-weight="bold" fill="#000" text-anchor="middle" >408</text>
<line x1="122.80" y1="488.90" x2="122.80" y2="491.50" stroke="#555" stroke-width="0.9"/>
<text x="122.80" y="505.20" font-size="10.6" font-weight="bold" fill="#000" text-anchor="middle" >406</text>
<line x1="167.20" y1="488.90" x2="167.20" y2="491.50" stroke="#555" stroke-width="0.9"/>
<text x="167.20" y="505.20" font-size="10.6" font-weight="bold" fill="#000" text-anchor="middle" >404</text>
<line x1="211.60" y1="488.90" x2="211.60" y2="491.50" stroke="#555" stroke-width="0.9"/>
<text x="211.60" y="505.20" font-size="10.6" font-weight="bold" fill="#000" text-anchor="middle" >402</text>
<line x1="256.00" y1="488.90" x2="256.00" y2="491.50" stroke="#555" stroke-width="0.9"/>
<text x="256.00" y="505.20" font-size="10.6" font-weight="bold" fill="#000" text-anchor="middle" >400</text>
<line x1="300.40" y1="488.90" x2="300.40" y2="491.50" stroke="#555" stroke-width="0.9"/>
<text x="300.40" y="505.20" font-size="10.6" font-weight="bold" fill="#000" text-anchor="middle" >398</text>
<text x="155.00" y="524.50" font-size="10" font-weight="bold" fill="#000" text-anchor="start" textLength="45.6" lengthAdjust="spacingAndGlyphs" >B. E. (eV)</text>
<text x="16.30" y="386.00" font-size="10.3" font-weight="bold" fill="#000" text-anchor="middle" textLength="68.5" lengthAdjust="spacingAndGlyphs" transform="rotate(-90 16.30 386.00)" >Intensity (a.u.)</text>
<text x="63.70" y="323.70" font-size="12.8" font-weight="bold" fill="#000" text-anchor="start" textLength="47.5" lengthAdjust="spacingAndGlyphs" >(c) N 1S</text>
<text x="115.30" y="366.80" font-size="9.6" font-weight="bold" fill="#000" text-anchor="start" >405.7</text>
<text x="173.70" y="317.50" font-size="9.6" font-weight="bold" fill="#000" text-anchor="start" >403.7</text>
<text x="221.90" y="384.70" font-size="9.6" font-weight="bold" fill="#000" text-anchor="start" >401.2</text>
<line x1="392.10" y1="466.10" x2="674.30" y2="466.10" stroke="#555" stroke-width="1.0"/>
<path d="M450.10,465.72 L450.60,465.64 L451.10,465.55 L451.60,465.44 L452.10,465.31 L452.60,465.16 L453.10,464.99 L453.60,464.80 L454.10,464.57 L454.60,464.31 L455.10,464.01 L455.60,463.67 L456.10,463.28 L456.60,462.85 L457.10,462.36 L457.60,461.81 L458.10,461.20 L458.60,460.52 L459.10,459.77 L459.60,458.94 L460.10,458.03 L460.60,457.04 L461.10,455.96 L461.60,454.80 L462.10,453.54 L462.60,452.19 L463.10,450.75 L463.60,449.22 L464.10,447.59 L464.60,445.89 L465.10,444.10 L465.60,442.23 L466.10,440.30 L466.60,438.31 L467.10,436.27 L467.60,434.18 L468.10,432.07 L468.60,429.95 L469.10,427.83 L469.60,425.72 L470.10,423.64 L470.60,421.61 L471.10,419.64 L471.60,417.76 L472.10,415.97 L472.60,414.29 L473.10,412.75 L473.60,411.34 L474.10,410.10 L474.60,409.02 L475.10,408.13 L475.60,407.42 L476.10,406.91 L476.60,406.60 L477.10,406.50 L477.60,406.60 L478.10,406.91 L478.60,407.42 L479.10,408.13 L479.60,409.02 L480.10,410.10 L480.60,411.34 L481.10,412.75 L481.60,414.29 L482.10,415.97 L482.60,417.76 L483.10,419.64 L483.60,421.61 L484.10,423.64 L484.60,425.72 L485.10,427.83 L485.60,429.95 L486.10,432.07 L486.60,434.18 L487.10,436.27 L487.60,438.31 L488.10,440.30 L488.60,442.23 L489.10,444.10 L489.60,445.89 L490.10,447.59 L490.60,449.22 L491.10,450.75 L491.60,452.19 L492.10,453.54 L492.60,454.80 L493.10,455.96 L493.60,457.04 L494.10,458.03 L494.60,458.94 L495.10,459.77 L495.60,460.52 L496.10,461.20 L496.60,461.81 L497.10,462.36 L497.60,462.85 L498.10,463.28 L498.60,463.67 L499.10,464.01 L499.60,464.31 L500.10,464.57 L500.60,464.80 L501.10,464.99 L501.60,465.16 L502.10,465.31 L502.60,465.44 L503.10,465.55 L503.60,465.64 L504.10,465.72" fill="none" stroke="#2a2a2a" stroke-width="1.0" stroke-linejoin="round" stroke-linecap="round" />
<path d="M474.60,465.78 L475.10,465.72 L475.60,465.64 L476.10,465.56 L476.60,465.45 L477.10,465.33 L477.60,465.20 L478.10,465.04 L478.60,464.85 L479.10,464.64 L479.60,464.40 L480.10,464.13 L480.60,463.82 L481.10,463.47 L481.60,463.08 L482.10,462.64 L482.60,462.15 L483.10,461.61 L483.60,461.01 L484.10,460.35 L484.60,459.63 L485.10,458.85 L485.60,458.00 L486.10,457.08 L486.60,456.09 L487.10,455.02 L487.60,453.89 L488.10,452.69 L488.60,451.43 L489.10,450.09 L489.60,448.70 L490.10,447.26 L490.60,445.76 L491.10,444.22 L491.60,442.64 L492.10,441.04 L492.60,439.42 L493.10,437.79 L493.60,436.17 L494.10,434.56 L494.60,432.99 L495.10,431.45 L495.60,429.97 L496.10,428.56 L496.60,427.22 L497.10,425.98 L497.60,424.84 L498.10,423.81 L498.60,422.91 L499.10,422.14 L499.60,421.51 L500.10,421.03 L500.60,420.70 L501.10,420.53 L501.60,420.51 L502.10,420.65 L502.60,420.95 L503.10,421.40 L503.60,422.00 L504.10,422.74 L504.60,423.62 L505.10,424.62 L505.60,425.74 L506.10,426.96 L506.60,428.28 L507.10,429.68 L507.60,431.15 L508.10,432.68 L508.60,434.25 L509.10,435.85 L509.60,437.47 L510.10,439.09 L510.60,440.71 L511.10,442.32 L511.60,443.90 L512.10,445.45 L512.60,446.96 L513.10,448.42 L513.60,449.82 L514.10,451.16 L514.60,452.45 L515.10,453.66 L515.60,454.80 L516.10,455.88 L516.60,456.88 L517.10,457.82 L517.60,458.68 L518.10,459.48 L518.60,460.21 L519.10,460.88 L519.60,461.49 L520.10,462.05 L520.60,462.54 L521.10,462.99 L521.60,463.39 L522.10,463.75 L522.60,464.07 L523.10,464.35 L523.60,464.59 L524.10,464.81 L524.60,465.00 L525.10,465.17 L525.60,465.31 L526.10,465.43 L526.60,465.54 L527.10,465.63 L527.60,465.71 L528.10,465.77" fill="none" stroke="#6b2e2e" stroke-width="1.0" stroke-linejoin="round" stroke-linecap="round" />
<path d="M532.60,465.52 L533.10,465.40 L533.60,465.26 L534.10,465.10 L534.60,464.91 L535.10,464.70 L535.60,464.44 L536.10,464.15 L536.60,463.82 L537.10,463.43 L537.60,462.99 L538.10,462.49 L538.60,461.93 L539.10,461.29 L539.60,460.57 L540.10,459.77 L540.60,458.87 L541.10,457.88 L541.60,456.78 L542.10,455.56 L542.60,454.22 L543.10,452.77 L543.60,451.18 L544.10,449.45 L544.60,447.59 L545.10,445.59 L545.60,443.44 L546.10,441.16 L546.60,438.73 L547.10,436.17 L547.60,433.47 L548.10,430.65 L548.60,427.72 L549.10,424.67 L549.60,421.53 L550.10,418.32 L550.60,415.04 L551.10,411.71 L551.60,408.36 L552.10,405.01 L552.60,401.67 L553.10,398.38 L553.60,395.15 L554.10,392.01 L554.60,388.99 L555.10,386.11 L555.60,383.40 L556.10,380.87 L556.60,378.56 L557.10,376.48 L557.60,374.66 L558.10,373.11 L558.60,371.84 L559.10,370.87 L559.60,370.21 L560.10,369.86 L560.60,369.83 L561.10,370.11 L561.60,370.71 L562.10,371.62 L562.60,372.83 L563.10,374.33 L563.60,376.10 L564.10,378.13 L564.60,380.39 L565.10,382.88 L565.60,385.55 L566.10,388.40 L566.60,391.40 L567.10,394.51 L567.60,397.72 L568.10,401.01 L568.60,404.34 L569.10,407.69 L569.60,411.04 L570.10,414.38 L570.60,417.67 L571.10,420.90 L571.60,424.05 L572.10,427.11 L572.60,430.07 L573.10,432.92 L573.60,435.64 L574.10,438.23 L574.60,440.68 L575.10,443.00 L575.60,445.17 L576.10,447.20 L576.60,449.09 L577.10,450.84 L577.60,452.46 L578.10,453.94 L578.60,455.30 L579.10,456.54 L579.60,457.67 L580.10,458.68 L580.60,459.60 L581.10,460.42 L581.60,461.15 L582.10,461.81 L582.60,462.39 L583.10,462.90 L583.60,463.35 L584.10,463.74 L584.60,464.09 L585.10,464.39 L585.60,464.65 L586.10,464.87 L586.60,465.07 L587.10,465.23 L587.60,465.37 L588.10,465.49" fill="none" stroke="#cccc5a" stroke-width="1.0" stroke-linejoin="round" stroke-linecap="round" />
<path d="M554.60,465.16 L555.10,464.95 L555.60,464.71 L556.10,464.42 L556.60,464.09 L557.10,463.69 L557.60,463.22 L558.10,462.68 L558.60,462.06 L559.10,461.33 L559.60,460.50 L560.10,459.55 L560.60,458.47 L561.10,457.25 L561.60,455.87 L562.10,454.32 L562.60,452.59 L563.10,450.66 L563.60,448.53 L564.10,446.19 L564.60,443.62 L565.10,440.81 L565.60,437.77 L566.10,434.48 L566.60,430.95 L567.10,427.17 L567.60,423.16 L568.10,418.93 L568.60,414.47 L569.10,409.82 L569.60,404.98 L570.10,399.99 L570.60,394.87 L571.10,389.65 L571.60,384.37 L572.10,379.06 L572.60,373.78 L573.10,368.55 L573.60,363.43 L574.10,358.46 L574.60,353.69 L575.10,349.16 L575.60,344.93 L576.10,341.04 L576.60,337.52 L577.10,334.42 L577.60,331.77 L578.10,329.60 L578.60,327.94 L579.10,326.80 L579.60,326.20 L580.10,326.14 L580.60,326.63 L581.10,327.67 L581.60,329.23 L582.10,331.29 L582.60,333.85 L583.10,336.86 L583.60,340.30 L584.10,344.12 L584.60,348.29 L585.10,352.76 L585.60,357.48 L586.10,362.42 L586.60,367.51 L587.10,372.72 L587.60,378.00 L588.10,383.31 L588.60,388.60 L589.10,393.83 L589.60,398.97 L590.10,403.99 L590.60,408.86 L591.10,413.56 L591.60,418.05 L592.10,422.34 L592.60,426.39 L593.10,430.21 L593.60,433.79 L594.10,437.13 L594.60,440.22 L595.10,443.07 L595.60,445.69 L596.10,448.08 L596.60,450.26 L597.10,452.22 L597.60,453.99 L598.10,455.57 L598.60,456.99 L599.10,458.24 L599.60,459.35 L600.10,460.32 L600.60,461.18 L601.10,461.92 L601.60,462.56 L602.10,463.12 L602.60,463.60 L603.10,464.01 L603.60,464.36 L604.10,464.66 L604.60,464.91 L605.10,465.12" fill="none" stroke="#c64ad4" stroke-width="1.0" stroke-linejoin="round" stroke-linecap="round" />
<path d="M568.60,465.59 L569.10,465.49 L569.60,465.36 L570.10,465.21 L570.60,465.04 L571.10,464.84 L571.60,464.60 L572.10,464.33 L572.60,464.02 L573.10,463.66 L573.60,463.24 L574.10,462.77 L574.60,462.24 L575.10,461.63 L575.60,460.95 L576.10,460.19 L576.60,459.33 L577.10,458.39 L577.60,457.34 L578.10,456.19 L578.60,454.92 L579.10,453.54 L579.60,452.04 L580.10,450.41 L580.60,448.67 L581.10,446.80 L581.60,444.80 L582.10,442.69 L582.60,440.45 L583.10,438.11 L583.60,435.66 L584.10,433.12 L584.60,430.49 L585.10,427.80 L585.60,425.05 L586.10,422.26 L586.60,419.46 L587.10,416.65 L587.60,413.87 L588.10,411.12 L588.60,408.45 L589.10,405.86 L589.60,403.38 L590.10,401.04 L590.60,398.86 L591.10,396.85 L591.60,395.04 L592.10,393.45 L592.60,392.10 L593.10,390.99 L593.60,390.14 L594.10,389.56 L594.60,389.25 L595.10,389.22 L595.60,389.47 L596.10,390.00 L596.60,390.80 L597.10,391.85 L597.60,393.16 L598.10,394.71 L598.60,396.47 L599.10,398.44 L599.60,400.59 L600.10,402.90 L600.60,405.35 L601.10,407.92 L601.60,410.58 L602.10,413.31 L602.60,416.09 L603.10,418.90 L603.60,421.70 L604.10,424.50 L604.60,427.25 L605.10,429.96 L605.60,432.60 L606.10,435.16 L606.60,437.63 L607.10,439.99 L607.60,442.25 L608.10,444.39 L608.60,446.41 L609.10,448.30 L609.60,450.08 L610.10,451.72 L610.60,453.25 L611.10,454.65 L611.60,455.94 L612.10,457.12 L612.60,458.19 L613.10,459.15 L613.60,460.02 L614.10,460.80 L614.60,461.50 L615.10,462.12 L615.60,462.67 L616.10,463.15 L616.60,463.58 L617.10,463.95 L617.60,464.27 L618.10,464.55 L618.60,464.80 L619.10,465.00 L619.60,465.18 L620.10,465.33 L620.60,465.46 L621.10,465.57" fill="none" stroke="#4aa4c0" stroke-width="1.0" stroke-linejoin="round" stroke-linecap="round" />
<path d="M392.20,422.80 L392.61,424.47 L393.18,426.79 L393.85,429.53 L394.58,432.46 L395.31,435.36 L396.00,438.00 L396.65,440.50 L397.31,443.06 L397.98,445.58 L398.64,447.98 L399.32,450.15 L400.00,452.00 L400.68,453.74 L401.35,455.48 L402.03,456.99 L402.72,458.06 L403.44,458.43 L404.20,457.90 L405.03,455.91 L405.91,452.54 L406.82,448.49 L407.73,444.46 L408.60,441.13 L409.40,439.20 L410.11,439.08 L410.74,440.27 L411.34,442.18 L411.93,444.18 L412.54,445.66 L413.20,446.00 L413.91,444.84 L414.65,442.61 L415.41,439.86 L416.18,437.14 L416.95,435.00 L417.70,434.00 L418.46,434.40 L419.23,435.81 L419.99,437.81 L420.74,439.96 L421.45,441.84 L422.10,443.00 L422.68,443.35 L423.19,443.22 L423.66,442.81 L424.11,442.33 L424.59,441.99 L425.10,442.00 L425.64,442.61 L426.19,443.72 L426.74,444.97 L427.33,446.00 L427.94,446.46 L428.60,446.00 L429.32,444.15 L430.09,441.10 L430.89,437.49 L431.70,433.93 L432.51,431.06 L433.30,429.50 L434.06,429.71 L434.81,431.29 L435.56,433.55 L436.31,435.82 L437.05,437.43 L437.80,437.70 L438.54,436.02 L439.27,432.82 L440.01,428.96 L440.75,425.29 L441.51,422.68 L442.30,422.00 L443.13,423.96 L443.98,428.03 L444.85,433.16 L445.73,438.30 L446.62,442.43 L447.50,444.50 L448.38,444.24 L449.26,442.43 L450.15,439.61 L451.04,436.29 L451.92,433.01 L452.80,430.30 L453.67,427.72 L454.54,424.76 L455.41,421.84 L456.27,419.38 L457.13,417.79 L458.00,417.50 L458.87,419.53 L459.76,423.75 L460.64,428.85 L461.52,433.50 L462.37,436.39 L463.20,436.20 L464.01,431.93 L464.81,424.45 L465.59,415.20 L466.34,405.64 L467.04,397.22 L467.70,391.40 L468.25,388.21 L468.70,386.49 L469.11,385.92 L469.53,386.15 L470.04,386.86 L470.70,387.70 L471.54,389.34 L472.53,392.17 L473.61,395.47 L474.70,398.52 L475.75,400.61 L476.70,401.00 L477.55,399.12 L478.37,395.41 L479.14,390.74 L479.87,385.95 L480.55,381.89 L481.20,379.40 L481.78,378.27 L482.28,377.78 L482.74,378.02 L483.20,379.07 L483.67,381.04 L484.20,384.00 L484.78,388.89 L485.39,395.84 L486.01,403.69 L486.66,411.31 L487.32,417.56 L488.00,421.30 L488.71,421.97 L489.44,420.37 L490.20,417.40 L490.96,413.96 L491.69,410.96 L492.40,409.30 L493.05,409.22 L493.66,410.06 L494.25,411.33 L494.85,412.56 L495.49,413.28 L496.20,413.00 L496.99,411.08 L497.86,407.78 L498.76,403.96 L499.67,400.49 L500.56,398.25 L501.40,398.10 L502.21,400.74 L503.01,405.59 L503.79,411.68 L504.54,417.99 L505.24,423.53 L505.90,427.30 L506.45,429.30 L506.90,430.33 L507.31,430.58 L507.74,430.27 L508.25,429.61 L508.90,428.80 L509.73,427.50 L510.70,425.48 L511.76,423.10 L512.83,420.73 L513.86,418.74 L514.80,417.50 L515.62,417.21 L516.37,417.62 L517.09,418.41 L517.79,419.26 L518.52,419.83 L519.30,419.80 L520.14,418.78 L521.01,416.94 L521.91,414.84 L522.81,413.00 L523.71,411.97 L524.60,412.30 L525.48,414.90 L526.37,419.53 L527.25,424.97 L528.12,430.00 L528.98,433.42 L529.80,434.00 L530.59,430.57 L531.35,423.88 L532.09,415.56 L532.83,407.28 L533.56,400.67 L534.30,397.40 L535.05,398.53 L535.80,402.95 L536.55,409.05 L537.30,415.22 L538.05,419.84 L538.80,421.30 L539.56,418.66 L540.33,413.02 L541.09,405.83 L541.85,398.55 L542.59,392.62 L543.30,389.50 L543.97,389.86 L544.61,392.66 L545.23,396.82 L545.84,401.24 L546.46,404.83 L547.10,406.50 L547.77,406.29 L548.45,405.08 L549.14,403.04 L549.83,400.33 L550.52,397.13 L551.20,393.60 L551.87,389.32 L552.54,384.09 L553.20,378.36 L553.86,372.59 L554.53,367.25 L555.20,362.80 L555.90,359.12 L556.62,355.80 L557.35,352.92 L558.06,350.52 L558.71,348.66 L559.30,347.40 L559.76,347.23 L560.10,348.20 L560.40,349.71 L560.72,351.16 L561.13,351.96 L561.70,351.50 L562.49,349.41 L563.45,346.09 L564.50,342.11 L565.56,338.05 L566.56,334.49 L567.40,332.00 L568.06,330.96 L568.59,330.98 L569.05,331.49 L569.50,331.94 L570.00,331.77 L570.60,330.40 L571.35,327.51 L572.20,323.47 L573.10,318.81 L573.99,314.03 L574.81,309.66 L575.50,306.20 L576.04,303.55 L576.46,301.26 L576.81,299.38 L577.13,297.94 L577.48,296.97 L577.90,296.50 L578.38,296.94 L578.87,298.34 L579.39,300.21 L579.94,302.06 L580.51,303.42 L581.10,303.80 L581.74,302.72 L582.43,300.48 L583.15,297.74 L583.87,295.17 L584.56,293.43 L585.20,293.20 L585.79,294.60 L586.36,297.11 L586.91,300.47 L587.43,304.37 L587.92,308.55 L588.40,312.70 L588.84,317.03 L589.23,321.81 L589.59,326.85 L589.96,331.98 L590.36,337.02 L590.80,341.80 L591.28,346.46 L591.79,351.18 L592.32,355.81 L592.88,360.21 L593.47,364.22 L594.10,367.70 L594.80,370.54 L595.57,372.83 L596.38,374.74 L597.17,376.43 L597.93,378.06 L598.60,379.80 L599.16,381.45 L599.63,382.83 L600.05,384.16 L600.47,385.64 L600.94,387.48 L601.50,389.90 L602.12,393.55 L602.77,398.41 L603.46,403.62 L604.22,408.37 L605.06,411.81 L606.00,413.10 L607.09,411.10 L608.34,406.24 L609.66,400.08 L611.01,394.16 L612.31,390.01 L613.50,389.20 L614.58,392.75 L615.61,399.62 L616.59,408.27 L617.54,417.17 L618.47,424.76 L619.40,429.50 L620.32,430.76 L621.21,429.64 L622.09,427.22 L622.96,424.56 L623.83,422.73 L624.70,422.80 L625.56,425.28 L626.41,429.43 L627.26,434.40 L628.11,439.37 L628.99,443.52 L629.90,446.00 L630.85,446.69 L631.81,446.23 L632.81,444.94 L633.82,443.14 L634.85,441.16 L635.90,439.30 L636.98,437.05 L638.08,434.06 L639.21,430.87 L640.34,428.06 L641.48,426.18 L642.60,425.80 L643.73,427.60 L644.89,431.26 L646.04,435.85 L647.17,440.46 L648.26,444.15 L649.30,446.00 L650.26,445.36 L651.14,442.85 L651.99,439.42 L652.83,436.04 L653.69,433.68 L654.60,433.30 L655.58,435.61 L656.61,439.97 L657.66,445.34 L658.69,450.70 L659.68,455.00 L660.60,457.20 L661.42,456.65 L662.15,454.04 L662.84,450.38 L663.53,446.66 L664.23,443.86 L665.00,443.00 L665.85,444.63 L666.75,448.06 L667.67,452.42 L668.60,456.84 L669.48,460.46 L670.30,462.40 L671.09,462.36 L671.88,460.96 L672.63,458.76 L673.31,456.29 L673.88,454.09 L674.30,452.70" fill="none" stroke="#c98080" stroke-width="1.1" stroke-linejoin="round" stroke-linecap="round" stroke-dasharray="0.1 2.4" stroke-linecap="round"/>
<rect x="391.10" y="284.50" width="284.20" height="204.70" fill="none" stroke="#000" stroke-width="2.0"/>
<line x1="391.10" y1="285.50" x2="391.10" y2="488.20" stroke="#333" stroke-width="2.05"/>
<line x1="388.00" y1="310.45" x2="390.10" y2="310.45" stroke="#555" stroke-width="0.9"/>
<line x1="388.00" y1="336.40" x2="390.10" y2="336.40" stroke="#555" stroke-width="0.9"/>
<line x1="388.00" y1="362.35" x2="390.10" y2="362.35" stroke="#555" stroke-width="0.9"/>
<line x1="388.00" y1="388.30" x2="390.10" y2="388.30" stroke="#555" stroke-width="0.9"/>
<line x1="388.00" y1="414.25" x2="390.10" y2="414.25" stroke="#555" stroke-width="0.9"/>
<line x1="388.00" y1="440.20" x2="390.10" y2="440.20" stroke="#555" stroke-width="0.9"/>
<line x1="388.00" y1="466.15" x2="390.10" y2="466.15" stroke="#555" stroke-width="0.9"/>
<line x1="388.00" y1="284.50" x2="391.10" y2="284.50" stroke="#555" stroke-width="0.9"/>
<line x1="390.80" y1="490.20" x2="390.80" y2="492.80" stroke="#555" stroke-width="0.9"/>
<text x="390.80" y="508.00" font-size="11" font-weight="bold" fill="#000" text-anchor="middle" >740</text>
<line x1="465.70" y1="490.20" x2="465.70" y2="492.80" stroke="#555" stroke-width="0.9"/>
<text x="465.70" y="508.00" font-size="11" font-weight="bold" fill="#000" text-anchor="middle" >730</text>
<line x1="540.60" y1="490.20" x2="540.60" y2="492.80" stroke="#555" stroke-width="0.9"/>
<text x="540.60" y="508.00" font-size="11" font-weight="bold" fill="#000" text-anchor="middle" >720</text>
<line x1="615.50" y1="490.20" x2="615.50" y2="492.80" stroke="#555" stroke-width="0.9"/>
<text x="615.50" y="508.00" font-size="11" font-weight="bold" fill="#000" text-anchor="middle" >710</text>
<text x="509.40" y="527.60" font-size="10.3" font-weight="bold" fill="#000" text-anchor="start" textLength="47.8" lengthAdjust="spacingAndGlyphs" >B. E.&#160; (eV)</text>
<text x="373.20" y="386.60" font-size="10.3" font-weight="bold" fill="#000" text-anchor="middle" textLength="68.5" lengthAdjust="spacingAndGlyphs" transform="rotate(-90 373.20 386.60)" >Intensity (a.u.)</text>
<text x="411.40" y="321.20" font-size="12.6" font-weight="bold" fill="#000" text-anchor="start" textLength="52.9" lengthAdjust="spacingAndGlyphs" >(d) Fe 2p</text>
<text x="436.1" y="376.5" font-size="9.2" font-weight="bold" fill="#111"><tspan textLength="38.5" lengthAdjust="spacingAndGlyphs">Fe(III) 2p</tspan><tspan font-size="6.8" dy="3.4">1/2</tspan></text>
<text x="436.10" y="390.20" font-size="9.2" font-weight="bold" fill="#000" text-anchor="start" >728.5</text>
<text x="490.8" y="376.9" font-size="9.2" font-weight="bold" fill="#22298a"><tspan>Fe(II) 2p</tspan><tspan font-size="6.8" dy="3.4">1/2</tspan></text>
<text x="490.80" y="391.00" font-size="9.2" font-weight="bold" fill="#22298a" text-anchor="start" >725.4</text>
<text x="543.70" y="359.20" font-size="9.2" font-weight="bold" fill="#222" text-anchor="start" >717.6</text>
<text x="588.7" y="340.8" font-size="9.2" font-weight="bold" fill="#111"><tspan textLength="38.5" lengthAdjust="spacingAndGlyphs">Fe(III) 2p</tspan><tspan font-size="6.8" dy="3.4">3/2</tspan></text>
<text x="588.70" y="354.80" font-size="9.2" font-weight="bold" fill="#000" text-anchor="start" >714.6</text>
<text x="598.3" y="374.1" font-size="9.2" font-weight="bold" fill="#22298a"><tspan>Fe(II) 2p</tspan><tspan font-size="6.8" dy="3.4">3/2</tspan></text>
<text x="598.30" y="388.30" font-size="9.2" font-weight="bold" fill="#22298a" text-anchor="start" >712.3</text>
<path d="M212.50,727.99 L213.00,727.85 L213.50,727.71 L214.00,727.56 L214.50,727.41 L215.00,727.24 L215.50,727.08 L216.00,726.90 L216.50,726.72 L217.00,726.52 L217.50,726.32 L218.00,726.12 L218.50,725.90 L219.00,725.67 L219.50,725.44 L220.00,725.20 L220.50,724.94 L221.00,724.68 L221.50,724.40 L222.00,724.12 L222.50,723.83 L223.00,723.52 L223.50,723.21 L224.00,722.88 L224.50,722.54 L225.00,722.19 L225.50,721.82 L226.00,721.45 L226.50,721.06 L227.00,720.66 L227.50,720.25 L228.00,719.82 L228.50,719.38 L229.00,718.92 L229.50,718.46 L230.00,717.97 L230.50,717.48 L231.00,716.97 L231.50,716.44 L232.00,715.90 L232.50,715.35 L233.00,714.78 L233.50,714.19 L234.00,713.59 L234.50,712.98 L235.00,712.35 L235.50,711.70 L236.00,711.04 L236.50,710.36 L237.00,709.67 L237.50,708.96 L238.00,708.24 L238.50,707.50 L239.00,706.75 L239.50,705.98 L240.00,705.20 L240.50,704.40 L241.00,703.59 L241.50,702.76 L242.00,701.92 L242.50,701.06 L243.00,700.19 L243.50,699.31 L244.00,698.42 L244.50,697.51 L245.00,696.59 L245.50,695.65 L246.00,694.71 L246.50,693.75 L247.00,692.78 L247.50,691.81 L248.00,690.82 L248.50,689.82 L249.00,688.82 L249.50,687.80 L250.00,686.78 L250.50,685.76 L251.00,684.72 L251.50,683.68 L252.00,682.64 L252.50,681.59 L253.00,680.54 L253.50,679.48 L254.00,678.42 L254.50,677.37 L255.00,676.31 L255.50,675.25 L256.00,674.19 L256.50,673.14 L257.00,672.09 L257.50,671.04 L258.00,670.00 L258.50,668.96 L259.00,667.93 L259.50,666.91 L260.00,665.90 L260.50,664.89 L261.00,663.90 L261.50,662.91 L262.00,661.94 L262.50,660.99 L263.00,660.04 L263.50,659.12 L264.00,658.20 L264.50,657.31 L265.00,656.43 L265.50,655.57 L266.00,654.73 L266.50,653.92 L267.00,653.12 L267.50,652.35 L268.00,651.59 L268.50,650.87 L269.00,650.16 L269.50,649.49 L270.00,648.83 L270.50,648.21 L271.00,647.61 L271.50,647.05 L272.00,646.51 L272.50,646.00 L273.00,645.52 L273.50,645.07 L274.00,644.65 L274.50,644.26 L275.00,643.91 L275.50,643.59 L276.00,643.30 L276.50,643.04 L277.00,642.82 L277.50,642.63 L278.00,642.48 L278.50,642.35 L279.00,642.27 L279.50,642.22 L280.00,642.20 L280.50,642.22 L281.00,642.27 L281.50,642.36 L282.00,642.49 L282.50,642.65 L283.00,642.85 L283.50,643.08 L284.00,643.35 L284.50,643.65 L285.00,643.99 L285.50,644.36 L286.00,644.77 L286.50,645.20 L287.00,645.67 L287.50,646.18 L288.00,646.71 L288.50,647.27 L289.00,647.87 L289.50,648.49 L290.00,649.15 L290.50,649.83 L291.00,650.53 L291.50,651.27 L292.00,652.03 L292.50,652.81 L293.00,653.62 L293.50,654.45 L294.00,655.30 L294.50,656.17 L295.00,657.06 L295.50,657.98 L296.00,658.90 L296.50,659.85 L297.00,660.81 L297.50,661.79 L298.00,662.78 L298.50,663.79 L299.00,664.80 L299.50,665.83 L300.00,666.87 L300.50,667.91 L301.00,668.97 L301.50,670.03 L302.00,671.09 L302.50,672.17 L303.00,673.24 L303.50,674.32 L304.00,675.40 L304.50,676.48 L305.00,677.56 L305.50,678.64 L306.00,679.72 L306.50,680.80 L307.00,681.87 L307.50,682.94 L308.00,684.01 L308.50,685.07 L309.00,686.12 L309.50,687.16 L310.00,688.20 L310.50,689.23 L311.00,690.25 L311.50,691.26 L312.00,692.26 L312.50,693.25 L313.00,694.22 L313.50,695.19 L314.00,696.14 L314.50,697.08 L315.00,698.00 L315.50,698.91 L316.00,699.81 L316.50,700.69 L317.00,701.55 L317.50,702.40 L318.00,703.24 L318.50,704.05 L319.00,704.85 L319.50,705.64 L320.00,706.40 L320.50,707.15 L321.00,707.88 L321.50,708.59 L322.00,709.29 L322.50,709.96 L323.00,710.62 L323.50,711.26 L324.00,711.87 L324.50,712.47 L325.00,713.05 L325.50,713.61 L326.00,714.15 L326.50,714.66 L327.00,715.16 L327.50,715.63 L328.00,716.09 L328.50,716.52 L329.00,716.93 L329.50,717.32 L330.00,717.69 L330.50,718.04 L331.00,718.36 L331.50,718.67 L332.00,718.96 L332.50,719.22 L333.00,719.47 L333.50,719.69 L334.00,719.90 L334.50,720.09 L335.00,720.26 L335.50,720.41 L336.00,720.55 L336.50,720.67 L337.00,720.78 L337.50,720.87 L338.00,720.95 L338.50,721.02 L339.00,721.07 L339.50,721.12 L340.00,721.15 L340.50,721.17 L341.00,721.18 L341.50,721.18 L342.00,721.17 L342.50,721.14 L343.00,721.11 L343.50,721.06 L344.00,721.01 L344.50,720.94 L345.00,720.86 L345.50,720.76 L346.00,720.65 L346.50,720.52 L347.00,720.38 L347.50,720.22 L348.00,720.04 L348.50,719.85 L349.00,719.63 L349.50,719.40 L350.00,719.14 L350.50,718.86 L351.00,718.56 L351.50,718.23 L352.00,717.88 L352.50,717.51 L353.00,717.11 L353.50,716.69 L354.00,716.25 L354.50,715.77 L355.00,715.28 L355.50,714.75 L356.00,714.21 L356.50,713.63 L357.00,713.03 L357.50,712.41 L358.00,711.75 L358.50,711.08 L359.00,710.37 L359.50,709.64 L360.00,708.89 L360.50,708.11 L361.00,707.30 L361.50,706.47 L362.00,705.61 L362.50,704.73 L363.00,703.82 L363.50,702.88 L364.00,701.92 L364.50,700.93 L365.00,699.92 L365.50,698.88 L366.00,697.82 L366.50,696.73 L367.00,695.62 L367.50,694.48 L368.00,693.32 L368.50,692.13 L369.00,690.92 L369.50,689.68 L370.00,688.42 L370.50,687.13 L371.00,685.83 L371.50,684.50 L372.00,683.14 L372.50,681.77 L373.00,680.37 L373.50,678.96 L374.00,677.52 L374.50,676.06 L375.00,674.58 L375.50,673.09 L376.00,671.57 L376.50,670.04 L377.00,668.50 L377.50,666.93 L378.00,665.36 L378.50,663.77 L379.00,662.16 L379.50,660.55 L380.00,658.92 L380.50,657.28 L381.00,655.64 L381.50,653.98 L382.00,652.32 L382.50,650.66 L383.00,648.99 L383.50,647.31 L384.00,645.64 L384.50,643.96 L385.00,642.29 L385.50,640.61 L386.00,638.94 L386.50,637.28 L387.00,635.62 L387.50,633.97 L388.00,632.33 L388.50,630.69 L389.00,629.07 L389.50,627.47 L390.00,625.87 L390.50,624.30 L391.00,622.74 L391.50,621.20 L392.00,619.68 L392.50,618.19 L393.00,616.71 L393.50,615.26 L394.00,613.84 L394.50,612.45 L395.00,611.08 L395.50,609.75 L396.00,608.45 L396.50,607.18 L397.00,605.94 L397.50,604.75 L398.00,603.59 L398.50,602.46 L399.00,601.38 L399.50,600.34 L400.00,599.34 L400.50,598.38 L401.00,597.47 L401.50,596.60 L402.00,595.78 L402.50,595.01 L403.00,594.28 L403.50,593.61 L404.00,592.98 L404.50,592.40 L405.00,591.87 L405.50,591.40 L406.00,590.98 L406.50,590.61 L407.00,590.29 L407.50,590.02 L408.00,589.81 L408.50,589.66 L409.00,589.55 L409.50,589.50 L410.00,589.51 L410.50,589.57 L411.00,589.68 L411.50,589.84 L412.00,590.05 L412.50,590.32 L413.00,590.63 L413.50,591.00 L414.00,591.42 L414.50,591.88 L415.00,592.40 L415.50,592.97 L416.00,593.58 L416.50,594.24 L417.00,594.95 L417.50,595.70 L418.00,596.50 L418.50,597.35 L419.00,598.24 L419.50,599.17 L420.00,600.14 L420.50,601.15 L421.00,602.21 L421.50,603.30 L422.00,604.43 L422.50,605.59 L423.00,606.79 L423.50,608.03 L424.00,609.29 L424.50,610.59 L425.00,611.92 L425.50,613.27 L426.00,614.66 L426.50,616.07 L427.00,617.50 L427.50,618.96 L428.00,620.44 L428.50,621.94 L429.00,623.45 L429.50,624.99 L430.00,626.54 L430.50,628.11 L431.00,629.69 L431.50,631.29 L432.00,632.89 L432.50,634.51 L433.00,636.13 L433.50,637.76 L434.00,639.40 L434.50,641.03 L435.00,642.68 L435.50,644.32 L436.00,645.97 L436.50,647.61 L437.00,649.25 L437.50,650.89 L438.00,652.53 L438.50,654.15 L439.00,655.78 L439.50,657.39 L440.00,659.00 L440.50,660.60 L441.00,662.18 L441.50,663.76 L442.00,665.32 L442.50,666.87 L443.00,668.41 L443.50,669.93 L444.00,671.44 L444.50,672.93 L445.00,674.40 L445.50,675.86 L446.00,677.30 L446.50,678.71 L447.00,680.11 L447.50,681.49 L448.00,682.85 L448.50,684.19 L449.00,685.51 L449.50,686.81 L450.00,688.08 L450.50,689.34 L451.00,690.57 L451.50,691.78 L452.00,692.96 L452.50,694.13 L453.00,695.27 L453.50,696.38 L454.00,697.48 L454.50,698.55 L455.00,699.59 L455.50,700.62 L456.00,701.62 L456.50,702.60 L457.00,703.55 L457.50,704.48 L458.00,705.39 L458.50,706.28 L459.00,707.14 L459.50,707.98 L460.00,708.80 L460.50,709.59 L461.00,710.37 L461.50,711.12 L462.00,711.85 L462.50,712.57 L463.00,713.26 L463.50,713.92 L464.00,714.57 L464.50,715.20 L465.00,715.81 L465.50,716.41 L466.00,716.98 L466.50,717.53 L467.00,718.07 L467.50,718.59 L468.00,719.09 L468.50,719.57 L469.00,720.04 L469.50,720.49 L470.00,720.92 L470.50,721.34 L471.00,721.75 L471.50,722.14 L472.00,722.51 L472.50,722.87 L473.00,723.22 L473.50,723.55 L474.00,723.88 L474.50,724.18 L475.00,724.48 L475.50,724.77 L476.00,725.04 L476.50,725.30 L477.00,725.55 L477.50,725.79 L478.00,726.03 L478.50,726.25 L479.00,726.46 L479.50,726.66 L480.00,726.85 L480.50,727.04 L481.00,727.22 L481.50,727.39 L482.00,727.55 L482.50,727.70 L483.00,727.85 L483.50,727.99 L484.00,728.12 L484.50,728.25 L485.00,728.37 L485.50,728.49 L486.00,728.60 L486.50,728.70 L487.00,728.80 L487.50,728.90 L488.00,728.99 L488.50,729.07 L489.00,729.15 L489.50,729.23 L490.00,729.30 L490.50,729.37 L491.00,729.44 L491.50,729.50" fill="none" stroke="#6e0e0e" stroke-width="3.3" stroke-linejoin="round" stroke-linecap="round" />
<path d="M212.50,730.40 L213.00,730.40 L213.50,730.40 L214.00,730.40 L214.50,730.40 L215.00,730.40 L215.50,730.40 L216.00,730.40 L216.50,730.40 L217.00,730.40 L217.50,730.40 L218.00,730.40 L218.50,730.40 L219.00,730.40 L219.50,730.40 L220.00,730.40 L220.50,730.40 L221.00,730.40 L221.50,730.40 L222.00,730.40 L222.50,730.40 L223.00,730.40 L223.50,730.40 L224.00,730.40 L224.50,730.40 L225.00,730.40 L225.50,730.40 L226.00,730.40 L226.50,730.40 L227.00,730.40 L227.50,730.40 L228.00,730.40 L228.50,730.40 L229.00,730.40 L229.50,730.40 L230.00,730.40 L230.50,730.40 L231.00,730.40 L231.50,730.40 L232.00,730.40 L232.50,730.40 L233.00,730.40 L233.50,730.40 L234.00,730.40 L234.50,730.40 L235.00,730.40 L235.50,730.40 L236.00,730.40 L236.50,730.40 L237.00,730.40 L237.50,730.40 L238.00,730.40 L238.50,730.40 L239.00,730.40 L239.50,730.40 L240.00,730.40 L240.50,730.40 L241.00,730.40 L241.50,730.40 L242.00,730.40 L242.50,730.40 L243.00,730.40 L243.50,730.40 L244.00,730.40 L244.50,730.40 L245.00,730.40 L245.50,730.40 L246.00,730.40 L246.50,730.40 L247.00,730.40 L247.50,730.40 L248.00,730.40 L248.50,730.40 L249.00,730.40 L249.50,730.40 L250.00,730.40 L250.50,730.40 L251.00,730.40 L251.50,730.40 L252.00,730.40 L252.50,730.40 L253.00,730.40 L253.50,730.40 L254.00,730.40 L254.50,730.40 L255.00,730.40 L255.50,730.40 L256.00,730.40 L256.50,730.40 L257.00,730.40 L257.50,730.40 L258.00,730.40 L258.50,730.40 L259.00,730.40 L259.50,730.40 L260.00,730.40 L260.50,730.40 L261.00,730.40 L261.50,730.40 L262.00,730.40 L262.50,730.40 L263.00,730.40 L263.50,730.40 L264.00,730.40 L264.50,730.40 L265.00,730.40 L265.50,730.40 L266.00,730.40 L266.50,730.40 L267.00,730.40 L267.50,730.40 L268.00,730.40 L268.50,730.40 L269.00,730.40 L269.50,730.40 L270.00,730.40 L270.50,730.40 L271.00,730.40 L271.50,730.40 L272.00,730.40 L272.50,730.40 L273.00,730.40 L273.50,730.40 L274.00,730.40 L274.50,730.40 L275.00,730.40 L275.50,730.40 L276.00,730.40 L276.50,730.40 L277.00,730.40 L277.50,730.40 L278.00,730.40 L278.50,730.40 L279.00,730.40 L279.50,730.40 L280.00,730.40 L280.50,730.40 L281.00,730.40 L281.50,730.40 L282.00,730.40 L282.50,730.40 L283.00,730.40 L283.50,730.40 L284.00,730.40 L284.50,730.40 L285.00,730.40 L285.50,730.40 L286.00,730.40 L286.50,730.40 L287.00,730.40 L287.50,730.40 L288.00,730.40 L288.50,730.40 L289.00,730.40 L289.50,730.40 L290.00,730.40 L290.50,730.40 L291.00,730.40 L291.50,730.40 L292.00,730.40 L292.50,730.40 L293.00,730.40 L293.50,730.40 L294.00,730.40 L294.50,730.39 L295.00,730.39 L295.50,730.39 L296.00,730.39 L296.50,730.39 L297.00,730.39 L297.50,730.39 L298.00,730.39 L298.50,730.39 L299.00,730.39 L299.50,730.39 L300.00,730.39 L300.50,730.39 L301.00,730.38 L301.50,730.38 L302.00,730.38 L302.50,730.38 L303.00,730.38 L303.50,730.38 L304.00,730.37 L304.50,730.37 L305.00,730.37 L305.50,730.37 L306.00,730.36 L306.50,730.36 L307.00,730.36 L307.50,730.35 L308.00,730.35 L308.50,730.35 L309.00,730.34 L309.50,730.34 L310.00,730.33 L310.50,730.33 L311.00,730.32 L311.50,730.32 L312.00,730.31 L312.50,730.30 L313.00,730.29 L313.50,730.29 L314.00,730.28 L314.50,730.27 L315.00,730.26 L315.50,730.25 L316.00,730.24 L316.50,730.22 L317.00,730.21 L317.50,730.20 L318.00,730.18 L318.50,730.16 L319.00,730.15 L319.50,730.13 L320.00,730.11 L320.50,730.09 L321.00,730.07 L321.50,730.04 L322.00,730.02 L322.50,729.99 L323.00,729.96 L323.50,729.93 L324.00,729.90 L324.50,729.87 L325.00,729.83 L325.50,729.80 L326.00,729.75 L326.50,729.71 L327.00,729.67 L327.50,729.62 L328.00,729.57 L328.50,729.51 L329.00,729.46 L329.50,729.40 L330.00,729.33 L330.50,729.27 L331.00,729.20 L331.50,729.12 L332.00,729.04 L332.50,728.96 L333.00,728.87 L333.50,728.78 L334.00,728.68 L334.50,728.58 L335.00,728.47 L335.50,728.36 L336.00,728.24 L336.50,728.11 L337.00,727.98 L337.50,727.84 L338.00,727.69 L338.50,727.54 L339.00,727.38 L339.50,727.21 L340.00,727.04 L340.50,726.85 L341.00,726.66 L341.50,726.46 L342.00,726.24 L342.50,726.02 L343.00,725.79 L343.50,725.55 L344.00,725.30 L344.50,725.03 L345.00,724.76 L345.50,724.47 L346.00,724.17 L346.50,723.86 L347.00,723.54 L347.50,723.20 L348.00,722.85 L348.50,722.48 L349.00,722.11 L349.50,721.71 L350.00,721.30 L350.50,720.88 L351.00,720.43 L351.50,719.98 L352.00,719.50 L352.50,719.01 L353.00,718.50 L353.50,717.97 L354.00,717.42 L354.50,716.86 L355.00,716.27 L355.50,715.67 L356.00,715.05 L356.50,714.40 L357.00,713.74 L357.50,713.05 L358.00,712.34 L358.50,711.62 L359.00,710.86 L359.50,710.09 L360.00,709.30 L360.50,708.48 L361.00,707.64 L361.50,706.77 L362.00,705.89 L362.50,704.98 L363.00,704.04 L363.50,703.08 L364.00,702.10 L364.50,701.09 L365.00,700.06 L365.50,699.01 L366.00,697.93 L366.50,696.83 L367.00,695.70 L367.50,694.55 L368.00,693.37 L368.50,692.17 L369.00,690.95 L369.50,689.70 L370.00,688.43 L370.50,687.14 L371.00,685.83 L371.50,684.49 L372.00,683.13 L372.50,681.75 L373.00,680.35 L373.50,678.92 L374.00,677.48 L374.50,676.02 L375.00,674.54 L375.50,673.04 L376.00,671.52 L376.50,669.99 L377.00,668.44 L377.50,666.87 L378.00,665.29 L378.50,663.70 L379.00,662.09 L379.50,660.47 L380.00,658.84 L380.50,657.20 L381.00,655.56 L381.50,653.90 L382.00,652.24 L382.50,650.57 L383.00,648.90 L383.50,647.23 L384.00,645.55 L384.50,643.87 L385.00,642.20 L385.50,640.52 L386.00,638.85 L386.50,637.19 L387.00,635.53 L387.50,633.88 L388.00,632.23 L388.50,630.60 L389.00,628.98 L389.50,627.37 L390.00,625.78 L390.50,624.20 L391.00,622.64 L391.50,621.10 L392.00,619.59 L392.50,618.09 L393.00,616.61 L393.50,615.17 L394.00,613.74 L394.50,612.35 L395.00,610.99 L395.50,609.65 L396.00,608.35 L396.50,607.08 L397.00,605.85 L397.50,604.65 L398.00,603.49 L398.50,602.36 L399.00,601.28 L399.50,600.24 L400.00,599.24 L400.50,598.28 L401.00,597.37 L401.50,596.50 L402.00,595.68 L402.50,594.91 L403.00,594.18 L403.50,593.51 L404.00,592.88 L404.50,592.30 L405.00,591.77 L405.50,591.30 L406.00,590.88 L406.50,590.51 L407.00,590.19 L407.50,589.92 L408.00,589.71 L408.50,589.56 L409.00,589.45 L409.50,589.40 L410.00,589.41 L410.50,589.47 L411.00,589.58 L411.50,589.74 L412.00,589.95 L412.50,590.22 L413.00,590.53 L413.50,590.90 L414.00,591.32 L414.50,591.78 L415.00,592.30 L415.50,592.87 L416.00,593.48 L416.50,594.14 L417.00,594.85 L417.50,595.60 L418.00,596.40 L418.50,597.25 L419.00,598.14 L419.50,599.07 L420.00,600.04 L420.50,601.05 L421.00,602.11 L421.50,603.20 L422.00,604.33 L422.50,605.49 L423.00,606.69 L423.50,607.93 L424.00,609.19 L424.50,610.49 L425.00,611.82 L425.50,613.17 L426.00,614.56 L426.50,615.97 L427.00,617.40 L427.50,618.86 L428.00,620.34 L428.50,621.84 L429.00,623.35 L429.50,624.89 L430.00,626.44 L430.50,628.01 L431.00,629.59 L431.50,631.19 L432.00,632.79 L432.50,634.41 L433.00,636.03 L433.50,637.66 L434.00,639.30 L434.50,640.93 L435.00,642.58 L435.50,644.22 L436.00,645.87 L436.50,647.51 L437.00,649.15 L437.50,650.79 L438.00,652.43 L438.50,654.05 L439.00,655.68 L439.50,657.29 L440.00,658.90 L440.50,660.50 L441.00,662.08 L441.50,663.66 L442.00,665.22 L442.50,666.77 L443.00,668.31 L443.50,669.83 L444.00,671.34 L444.50,672.83 L445.00,674.30 L445.50,675.76 L446.00,677.20 L446.50,678.61 L447.00,680.01 L447.50,681.39 L448.00,682.75 L448.50,684.09 L449.00,685.41 L449.50,686.71 L450.00,687.98 L450.50,689.24 L451.00,690.47 L451.50,691.68 L452.00,692.86 L452.50,694.03 L453.00,695.17 L453.50,696.28 L454.00,697.38 L454.50,698.45 L455.00,699.49 L455.50,700.52 L456.00,701.52 L456.50,702.50 L457.00,703.45 L457.50,704.38 L458.00,705.29 L458.50,706.18 L459.00,707.04 L459.50,707.88 L460.00,708.70 L460.50,709.49 L461.00,710.27 L461.50,711.02 L462.00,711.75 L462.50,712.47 L463.00,713.16 L463.50,713.82 L464.00,714.47 L464.50,715.10 L465.00,715.71 L465.50,716.31 L466.00,716.88 L466.50,717.43 L467.00,717.97 L467.50,718.49 L468.00,718.99 L468.50,719.47 L469.00,719.94 L469.50,720.39 L470.00,720.82 L470.50,721.24 L471.00,721.65 L471.50,722.04 L472.00,722.41 L472.50,722.77 L473.00,723.12 L473.50,723.45 L474.00,723.78 L474.50,724.08 L475.00,724.38 L475.50,724.67 L476.00,724.94 L476.50,725.20 L477.00,725.45 L477.50,725.69 L478.00,725.93 L478.50,726.15 L479.00,726.36 L479.50,726.56 L480.00,726.75 L480.50,726.94 L481.00,727.12 L481.50,727.29 L482.00,727.45 L482.50,727.60 L483.00,727.75 L483.50,727.89 L484.00,728.02 L484.50,728.15 L485.00,728.27 L485.50,728.39 L486.00,728.50 L486.50,728.60 L487.00,728.70 L487.50,728.80 L488.00,728.89 L488.50,728.97 L489.00,729.05 L489.50,729.13 L490.00,729.20 L490.50,729.27 L491.00,729.34 L491.50,729.40" fill="none" stroke="#ec8a1c" stroke-width="3.0" stroke-linejoin="round" stroke-linecap="round" />
<path d="M212.50,728.10 L213.00,727.96 L213.50,727.82 L214.00,727.67 L214.50,727.52 L215.00,727.36 L215.50,727.19 L216.00,727.01 L216.50,726.83 L217.00,726.64 L217.50,726.44 L218.00,726.23 L218.50,726.01 L219.00,725.79 L219.50,725.56 L220.00,725.31 L220.50,725.06 L221.00,724.80 L221.50,724.53 L222.00,724.24 L222.50,723.95 L223.00,723.65 L223.50,723.33 L224.00,723.00 L224.50,722.67 L225.00,722.32 L225.50,721.95 L226.00,721.58 L226.50,721.19 L227.00,720.79 L227.50,720.38 L228.00,719.95 L228.50,719.52 L229.00,719.06 L229.50,718.60 L230.00,718.12 L230.50,717.62 L231.00,717.11 L231.50,716.59 L232.00,716.05 L232.50,715.50 L233.00,714.93 L233.50,714.35 L234.00,713.75 L234.50,713.14 L235.00,712.51 L235.50,711.86 L236.00,711.20 L236.50,710.53 L237.00,709.84 L237.50,709.14 L238.00,708.42 L238.50,707.68 L239.00,706.93 L239.50,706.16 L240.00,705.38 L240.50,704.59 L241.00,703.78 L241.50,702.95 L242.00,702.12 L242.50,701.26 L243.00,700.40 L243.50,699.52 L244.00,698.62 L244.50,697.72 L245.00,696.80 L245.50,695.87 L246.00,694.93 L246.50,693.98 L247.00,693.01 L247.50,692.04 L248.00,691.05 L248.50,690.06 L249.00,689.06 L249.50,688.05 L250.00,687.03 L250.50,686.01 L251.00,684.98 L251.50,683.94 L252.00,682.90 L252.50,681.86 L253.00,680.81 L253.50,679.76 L254.00,678.70 L254.50,677.65 L255.00,676.59 L255.50,675.54 L256.00,674.49 L256.50,673.43 L257.00,672.39 L257.50,671.34 L258.00,670.30 L258.50,669.27 L259.00,668.24 L259.50,667.23 L260.00,666.21 L260.50,665.21 L261.00,664.22 L261.50,663.24 L262.00,662.28 L262.50,661.32 L263.00,660.38 L263.50,659.46 L264.00,658.55 L264.50,657.66 L265.00,656.78 L265.50,655.93 L266.00,655.09 L266.50,654.28 L267.00,653.48 L267.50,652.71 L268.00,651.96 L268.50,651.24 L269.00,650.54 L269.50,649.86 L270.00,649.21 L270.50,648.59 L271.00,648.00 L271.50,647.43 L272.00,646.89 L272.50,646.38 L273.00,645.90 L273.50,645.46 L274.00,645.04 L274.50,644.66 L275.00,644.30 L275.50,643.98 L276.00,643.69 L276.50,643.44 L277.00,643.22 L277.50,643.03 L278.00,642.87 L278.50,642.75 L279.00,642.67 L279.50,642.62 L280.00,642.60 L280.50,642.62 L281.00,642.67 L281.50,642.76 L282.00,642.89 L282.50,643.05 L283.00,643.25 L283.50,643.48 L284.00,643.75 L284.50,644.05 L285.00,644.38 L285.50,644.75 L286.00,645.16 L286.50,645.59 L287.00,646.06 L287.50,646.56 L288.00,647.10 L288.50,647.66 L289.00,648.25 L289.50,648.87 L290.00,649.52 L290.50,650.20 L291.00,650.91 L291.50,651.64 L292.00,652.40 L292.50,653.18 L293.00,653.98 L293.50,654.81 L294.00,655.66 L294.50,656.53 L295.00,657.42 L295.50,658.33 L296.00,659.25 L296.50,660.20 L297.00,661.16 L297.50,662.13 L298.00,663.12 L298.50,664.12 L299.00,665.14 L299.50,666.16 L300.00,667.20 L300.50,668.24 L301.00,669.29 L301.50,670.35 L302.00,671.41 L302.50,672.48 L303.00,673.56 L303.50,674.63 L304.00,675.71 L304.50,676.79 L305.00,677.87 L305.50,678.95 L306.00,680.03 L306.50,681.11 L307.00,682.18 L307.50,683.25 L308.00,684.32 L308.50,685.37 L309.00,686.43 L309.50,687.47 L310.00,688.51 L310.50,689.54 L311.00,690.57 L311.50,691.58 L312.00,692.58 L312.50,693.57 L313.00,694.55 L313.50,695.52 L314.00,696.48 L314.50,697.42 L315.00,698.35 L315.50,699.27 L316.00,700.18 L316.50,701.07 L317.00,701.94 L317.50,702.81 L318.00,703.65 L318.50,704.48 L319.00,705.30 L319.50,706.10 L320.00,706.89 L320.50,707.66 L321.00,708.41 L321.50,709.15 L322.00,709.87 L322.50,710.57 L323.00,711.26 L323.50,711.94 L324.00,712.59 L324.50,713.24 L325.00,713.86 L325.50,714.47 L326.00,715.06 L326.50,715.64 L327.00,716.20 L327.50,716.75 L328.00,717.28 L328.50,717.80 L329.00,718.30 L329.50,718.79 L330.00,719.26 L330.50,719.72 L331.00,720.16 L331.50,720.59 L332.00,721.00 L332.50,721.41 L333.00,721.80 L333.50,722.17 L334.00,722.54 L334.50,722.89 L335.00,723.22 L335.50,723.55 L336.00,723.87 L336.50,724.17 L337.00,724.46 L337.50,724.74 L338.00,725.01 L338.50,725.27 L339.00,725.52 L339.50,725.76 L340.00,726.00 L340.50,726.22 L341.00,726.43 L341.50,726.63 L342.00,726.83 L342.50,727.02 L343.00,727.20 L343.50,727.37 L344.00,727.53 L344.50,727.69 L345.00,727.84 L345.50,727.99 L346.00,728.12 L346.50,728.25 L347.00,728.38 L347.50,728.50 L348.00,728.61 L348.50,728.72 L349.00,728.82 L349.50,728.92 L350.00,729.01 L350.50,729.10 L351.00,729.19 L351.50,729.27 L352.00,729.34 L352.50,729.42 L353.00,729.48 L353.50,729.55 L354.00,729.61 L354.50,729.67 L355.00,729.72 L355.50,729.78 L356.00,729.83 L356.50,729.87 L357.00,729.92 L357.50,729.96 L358.00,730.00 L358.50,730.04 L359.00,730.07 L359.50,730.10 L360.00,730.14 L360.50,730.17 L361.00,730.19 L361.50,730.22 L362.00,730.24 L362.50,730.27 L363.00,730.29 L363.50,730.31 L364.00,730.33 L364.50,730.35 L365.00,730.36 L365.50,730.38 L366.00,730.39 L366.50,730.41 L367.00,730.42 L367.50,730.43 L368.00,730.45 L368.50,730.46 L369.00,730.47 L369.50,730.48 L370.00,730.48 L370.50,730.49 L371.00,730.50 L371.50,730.51 L372.00,730.51 L372.50,730.52 L373.00,730.53 L373.50,730.53 L374.00,730.54 L374.50,730.54 L375.00,730.55 L375.50,730.55 L376.00,730.55 L376.50,730.56 L377.00,730.56 L377.50,730.56 L378.00,730.57 L378.50,730.57 L379.00,730.57 L379.50,730.57 L380.00,730.58 L380.50,730.58 L381.00,730.58 L381.50,730.58 L382.00,730.58 L382.50,730.58 L383.00,730.59 L383.50,730.59 L384.00,730.59 L384.50,730.59 L385.00,730.59 L385.50,730.59 L386.00,730.59 L386.50,730.59 L387.00,730.59 L387.50,730.59 L388.00,730.59 L388.50,730.59 L389.00,730.59 L389.50,730.60 L390.00,730.60 L390.50,730.60 L391.00,730.60 L391.50,730.60 L392.00,730.60 L392.50,730.60 L393.00,730.60 L393.50,730.60 L394.00,730.60 L394.50,730.60 L395.00,730.60 L395.50,730.60 L396.00,730.60 L396.50,730.60 L397.00,730.60 L397.50,730.60 L398.00,730.60 L398.50,730.60 L399.00,730.60 L399.50,730.60 L400.00,730.60 L400.50,730.60 L401.00,730.60 L401.50,730.60 L402.00,730.60 L402.50,730.60 L403.00,730.60 L403.50,730.60 L404.00,730.60 L404.50,730.60 L405.00,730.60 L405.50,730.60 L406.00,730.60 L406.50,730.60 L407.00,730.60 L407.50,730.60 L408.00,730.60 L408.50,730.60 L409.00,730.60 L409.50,730.60 L410.00,730.60 L410.50,730.60 L411.00,730.60 L411.50,730.60 L412.00,730.60 L412.50,730.60 L413.00,730.60 L413.50,730.60 L414.00,730.60 L414.50,730.60 L415.00,730.60 L415.50,730.60 L416.00,730.60 L416.50,730.60 L417.00,730.60 L417.50,730.60 L418.00,730.60 L418.50,730.60 L419.00,730.60 L419.50,730.60 L420.00,730.60 L420.50,730.60 L421.00,730.60 L421.50,730.60 L422.00,730.60 L422.50,730.60 L423.00,730.60 L423.50,730.60 L424.00,730.60 L424.50,730.60 L425.00,730.60 L425.50,730.60 L426.00,730.60 L426.50,730.60 L427.00,730.60 L427.50,730.60 L428.00,730.60 L428.50,730.60 L429.00,730.60 L429.50,730.60 L430.00,730.60 L430.50,730.60 L431.00,730.60 L431.50,730.60 L432.00,730.60 L432.50,730.60 L433.00,730.60 L433.50,730.60 L434.00,730.60 L434.50,730.60 L435.00,730.60 L435.50,730.60 L436.00,730.60 L436.50,730.60 L437.00,730.60 L437.50,730.60 L438.00,730.60 L438.50,730.60 L439.00,730.60 L439.50,730.60 L440.00,730.60 L440.50,730.60 L441.00,730.60 L441.50,730.60 L442.00,730.60 L442.50,730.60 L443.00,730.60 L443.50,730.60 L444.00,730.60 L444.50,730.60 L445.00,730.60 L445.50,730.60 L446.00,730.60 L446.50,730.60 L447.00,730.60 L447.50,730.60 L448.00,730.60 L448.50,730.60 L449.00,730.60 L449.50,730.60 L450.00,730.60 L450.50,730.60 L451.00,730.60 L451.50,730.60 L452.00,730.60 L452.50,730.60 L453.00,730.60 L453.50,730.60 L454.00,730.60 L454.50,730.60 L455.00,730.60 L455.50,730.60 L456.00,730.60 L456.50,730.60 L457.00,730.60 L457.50,730.60 L458.00,730.60 L458.50,730.60 L459.00,730.60 L459.50,730.60 L460.00,730.60 L460.50,730.60 L461.00,730.60 L461.50,730.60 L462.00,730.60 L462.50,730.60 L463.00,730.60 L463.50,730.60 L464.00,730.60 L464.50,730.60 L465.00,730.60 L465.50,730.60 L466.00,730.60 L466.50,730.60 L467.00,730.60 L467.50,730.60 L468.00,730.60 L468.50,730.60 L469.00,730.60 L469.50,730.60 L470.00,730.60 L470.50,730.60 L471.00,730.60 L471.50,730.60 L472.00,730.60 L472.50,730.60 L473.00,730.60 L473.50,730.60 L474.00,730.60 L474.50,730.60 L475.00,730.60 L475.50,730.60 L476.00,730.60 L476.50,730.60 L477.00,730.60 L477.50,730.60 L478.00,730.60 L478.50,730.60 L479.00,730.60 L479.50,730.60 L480.00,730.60 L480.50,730.60 L481.00,730.60 L481.50,730.60 L482.00,730.60 L482.50,730.60 L483.00,730.60 L483.50,730.60 L484.00,730.60 L484.50,730.60 L485.00,730.60 L485.50,730.60 L486.00,730.60 L486.50,730.60 L487.00,730.60 L487.50,730.60 L488.00,730.60 L488.50,730.60 L489.00,730.60 L489.50,730.60 L490.00,730.60 L490.50,730.60 L491.00,730.60 L491.50,730.60" fill="none" stroke="#bec01c" stroke-width="2.6" stroke-linejoin="round" stroke-linecap="round" />
<rect x="211.00" y="559.50" width="281.90" height="202.50" fill="none" stroke="#000" stroke-width="2.1"/>
<line x1="208.20" y1="593.70" x2="210.00" y2="593.70" stroke="#555" stroke-width="0.9"/>
<line x1="208.20" y1="627.90" x2="210.00" y2="627.90" stroke="#555" stroke-width="0.9"/>
<line x1="208.20" y1="662.10" x2="210.00" y2="662.10" stroke="#555" stroke-width="0.9"/>
<line x1="208.20" y1="696.30" x2="210.00" y2="696.30" stroke="#555" stroke-width="0.9"/>
<line x1="208.20" y1="730.50" x2="210.00" y2="730.50" stroke="#555" stroke-width="0.9"/>
<line x1="208.20" y1="559.50" x2="211.00" y2="559.50" stroke="#555" stroke-width="0.9"/>
<line x1="273.70" y1="763.00" x2="273.70" y2="765.60" stroke="#555" stroke-width="0.9"/>
<text x="273.70" y="781.20" font-size="10.5" font-weight="bold" fill="#000" text-anchor="middle" >344.5</text>
<line x1="336.37" y1="763.00" x2="336.37" y2="765.60" stroke="#555" stroke-width="0.9"/>
<text x="336.37" y="781.20" font-size="10.5" font-weight="bold" fill="#000" text-anchor="middle" >341.5</text>
<line x1="399.04" y1="763.00" x2="399.04" y2="765.60" stroke="#555" stroke-width="0.9"/>
<text x="399.04" y="781.20" font-size="10.5" font-weight="bold" fill="#000" text-anchor="middle" >338.5</text>
<line x1="461.71" y1="763.00" x2="461.71" y2="765.60" stroke="#555" stroke-width="0.9"/>
<text x="461.71" y="781.20" font-size="10.5" font-weight="bold" fill="#000" text-anchor="middle" >335.5</text>
<text x="333.80" y="796.70" font-size="10" font-weight="bold" fill="#000" text-anchor="start" textLength="45.3" lengthAdjust="spacingAndGlyphs" >B. E. (eV)</text>
<text x="198.30" y="660.50" font-size="10.3" font-weight="bold" fill="#000" text-anchor="middle" textLength="68.5" lengthAdjust="spacingAndGlyphs" transform="rotate(-90 198.30 660.50)" >Intensity (a.u.)</text>
<text x="224.60" y="587.30" font-size="14" font-weight="bold" fill="#000" text-anchor="start" textLength="53.7" lengthAdjust="spacingAndGlyphs" >(e) Pd 3d</text>
<text x="261.5" y="607.7" font-size="10.6" font-weight="bold" fill="#111"><tspan textLength="42.5" lengthAdjust="spacingAndGlyphs">Pd(II) 3d</tspan><tspan font-size="7.0" dy="3.5">3/2</tspan></text>
<text x="272.40" y="623.30" font-size="10.8" font-weight="normal" fill="#222" text-anchor="start" >343.58</text>
<text x="355.8" y="581.2" font-size="10.6" font-weight="bold" fill="#111"><tspan textLength="42.5" lengthAdjust="spacingAndGlyphs">Pd(II) 3d</tspan><tspan font-size="7.0" dy="3.5">5/2</tspan></text>
<text x="367.00" y="597.50" font-size="10.8" font-weight="normal" fill="#222" text-anchor="start" >338.22</text>
</svg>
</body></html>
